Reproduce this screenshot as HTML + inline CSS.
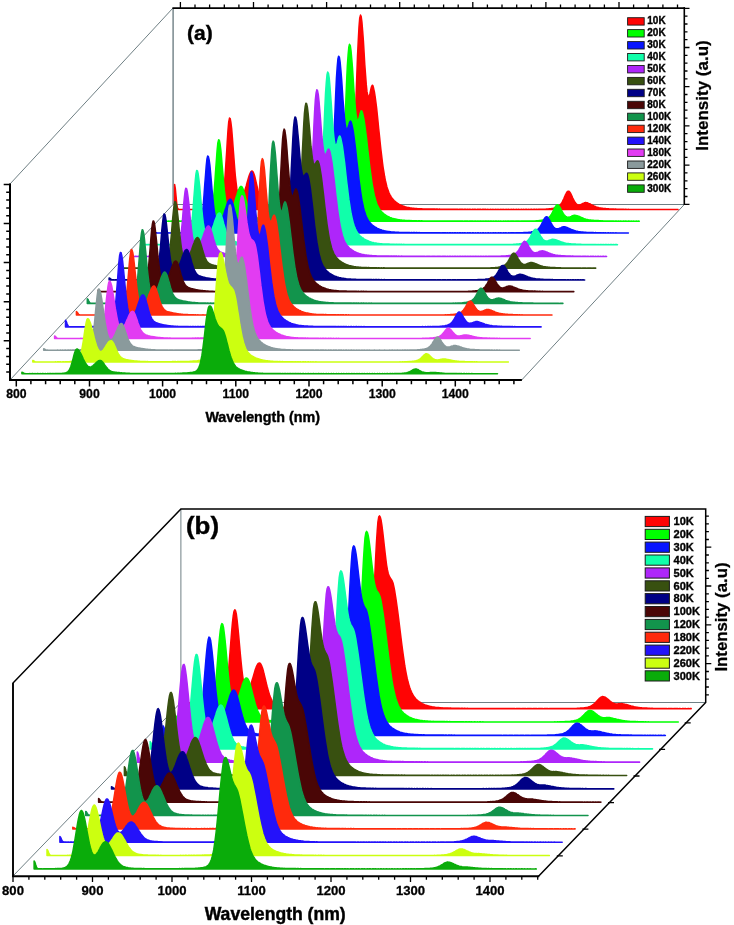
<!DOCTYPE html>
<html><head><meta charset="utf-8"><title>PL spectra</title>
<style>html,body{margin:0;padding:0;background:#fff}svg{display:block;will-change:transform}</style></head>
<body>
<svg width="734" height="925" viewBox="0 0 734 925" font-family='"Liberation Sans", sans-serif' font-weight="bold" fill="#000">
<rect width="734" height="925" fill="#fff"/>
<line x1="173.1" y1="8" x2="173.1" y2="204.5" stroke="#6f7f84" stroke-width="1.4" stroke-linecap="butt"/>
<line x1="173" y1="204.5" x2="684.5" y2="204.5" stroke="#6f7f84" stroke-width="1.1" stroke-linecap="butt"/>
<line x1="10" y1="184" x2="173" y2="8" stroke="#6f7f84" stroke-width="1" stroke-linecap="butt"/>
<line x1="10" y1="380" x2="173" y2="204.5" stroke="#6f7f84" stroke-width="1" stroke-linecap="butt"/>
<line x1="521.7" y1="380" x2="684.3" y2="204.5" stroke="#6f7f84" stroke-width="1" stroke-linecap="butt"/>
<line x1="172.4" y1="8.1" x2="685" y2="8.1" stroke="#000" stroke-width="1.8" stroke-linecap="butt"/>
<path d="M180.4,8L180.4,2M195,8L195,4.6M209.6,8L209.6,4.6M224.3,8L224.3,4.6M238.9,8L238.9,4.6M253.5,8L253.5,2M268.1,8L268.1,4.6M282.7,8L282.7,4.6M297.4,8L297.4,4.6M312,8L312,4.6M326.6,8L326.6,2M341.2,8L341.2,4.6M355.8,8L355.8,4.6M370.5,8L370.5,4.6M385.1,8L385.1,4.6M399.7,8L399.7,2M414.3,8L414.3,4.6M428.9,8L428.9,4.6M443.6,8L443.6,4.6M458.2,8L458.2,4.6M472.8,8L472.8,2M487.4,8L487.4,4.6M502,8L502,4.6M516.7,8L516.7,4.6M531.3,8L531.3,4.6M545.9,8L545.9,2M560.5,8L560.5,4.6M575.1,8L575.1,4.6M589.8,8L589.8,4.6M604.4,8L604.4,4.6M619,8L619,2M633.6,8L633.6,4.6M648.2,8L648.2,4.6M662.9,8L662.9,4.6M677.5,8L677.5,4.6" stroke="#000" stroke-width="1.3" fill="none"/>
<line x1="684.3" y1="7.2" x2="684.3" y2="205" stroke="#000" stroke-width="1.6" stroke-linecap="butt"/>
<path d="M684.3,8.3L689.5,8.3M684.3,16.1L687.5,16.1M684.3,24L687.5,24M684.3,31.8L687.5,31.8M684.3,39.7L687.5,39.7M684.3,47.5L689.5,47.5M684.3,55.3L687.5,55.3M684.3,63.2L687.5,63.2M684.3,71L687.5,71M684.3,78.9L687.5,78.9M684.3,86.7L689.5,86.7M684.3,94.5L687.5,94.5M684.3,102.4L687.5,102.4M684.3,110.2L687.5,110.2M684.3,118.1L687.5,118.1M684.3,125.9L689.5,125.9M684.3,133.7L687.5,133.7M684.3,141.6L687.5,141.6M684.3,149.4L687.5,149.4M684.3,157.3L687.5,157.3M684.3,165.1L689.5,165.1M684.3,172.9L687.5,172.9M684.3,180.8L687.5,180.8M684.3,188.6L687.5,188.6M684.3,196.5L687.5,196.5M684.3,204.3L689.5,204.3" stroke="#000" stroke-width="1.3" fill="none"/>
<path d="M174.6,209.6 174.6,184.4 175.3,188.4 176.1,196.9 176.8,204.1 177.5,207.9 178.3,209.1 179,209.3 179.7,209.4 180.5,209.5 181.2,209.4 181.9,209.4 182.6,209.5 183.4,209.4 184.1,209.4 184.8,209.4 185.6,209.4 186.3,209.4 187,209.4 187.8,209.5 188.5,209.4 189.2,209.4 190,209.4 190.7,209.4 191.4,209.4 192.2,209.4 192.9,209.5 193.6,209.4 194.4,209.3 195.1,209.4 195.8,209.4 196.6,209.3 197.3,209.3 198,209.4 198.7,209.3 199.5,209.3 200.2,209.4 200.9,209.4 201.7,209.3 202.4,209.3 203.1,209.4 203.9,209.3 204.6,209.2 205.3,209.3 206.1,209.3 206.8,209.2 207.5,209.1 208.3,209.2 209,209.1 209.7,209 210.5,209 211.2,208.9 211.9,208.8 212.6,208.7 213.4,208.7 214.1,208.4 214.8,208.3 215.6,208.1 216.3,207.9 217,207.6 217.8,207.4 218.5,207.1 219.2,206.5 220,205.8 220.7,204.8 221.4,203.2 222.2,200.7 222.9,197.1 223.6,192 224.4,184.8 225.1,175.7 225.8,164.9 226.6,152.9 227.3,140.7 228,130 228.7,122.1 229.5,118.1 230.2,118.6 230.9,122.5 231.7,129.2 232.4,137.8 233.1,147.6 233.9,157.7 234.6,167.1 235.3,175.5 236.1,182.7 236.8,188.4 237.5,192.5 238.3,195.5 239,197.4 239.7,198.3 240.5,198.5 241.2,198.2 241.9,197.4 242.6,196.1 243.4,194.6 244.1,192.8 244.8,190.5 245.6,188.1 246.3,185.7 247,183 247.8,180.3 248.5,177.8 249.2,175.6 250,173.6 250.7,172.1 251.4,171.3 252.2,171 252.9,171.5 253.6,173 254.4,175.2 255.1,177.8 255.8,180.9 256.6,184.3 257.3,187.5 258,190.6 258.7,193.4 259.5,195.9 260.2,197.9 260.9,199.6 261.7,201.1 262.4,202.2 263.1,203 263.9,203.7 264.6,204.3 265.3,204.6 266.1,205 266.8,205.4 267.5,205.6 268.3,205.8 269,206.1 269.7,206.3 270.5,206.4 271.2,206.6 271.9,206.9 272.6,207.1 273.4,207.2 274.1,207.4 274.8,207.6 275.6,207.7 276.3,207.8 277,208 277.8,208.1 278.5,208.2 279.2,208.3 280,208.5 280.7,208.5 281.4,208.5 282.2,208.7 282.9,208.7 283.6,208.8 284.4,208.9 285.1,209 285.8,208.9 286.6,209 287.3,209.1 288,209.1 288.7,209.1 289.5,209.1 290.2,209.2 290.9,209.1 291.7,209.2 292.4,209.3 293.1,209.2 293.9,209.2 294.6,209.3 295.3,209.3 296.1,209.2 296.8,209.2 297.5,209.3 298.3,209.3 299,209.2 299.7,209.3 300.5,209.3 301.2,209.3 301.9,209.3 302.6,209.3 303.4,209.3 304.1,209.2 304.8,209.3 305.6,209.3 306.3,209.2 307,209.3 307.8,209.3 308.5,209.3 309.2,209.2 310,209.3 310.7,209.3 311.4,209.2 312.2,209.2 312.9,209.3 313.6,209.2 314.4,209.2 315.1,209.2 315.8,209.3 316.6,209.2 317.3,209.2 318,209.3 318.7,209.2 319.5,209.1 320.2,209.2 320.9,209.2 321.7,209.1 322.4,209.1 323.1,209.2 323.9,209.1 324.6,209.1 325.3,209.1 326.1,209.1 326.8,209 327.5,209 328.3,209 329,208.9 329.7,208.9 330.5,208.9 331.2,208.9 331.9,208.7 332.6,208.7 333.4,208.7 334.1,208.6 334.8,208.5 335.6,208.4 336.3,208.3 337,208.2 337.8,208.1 338.5,208 339.2,207.8 340,207.6 340.7,207.5 341.4,207.3 342.2,207 342.9,206.8 343.6,206.7 344.4,206.3 345.1,205.9 345.8,205.5 346.6,204.9 347.3,204 348,202.8 348.7,201.2 349.5,198.6 350.2,195.1 350.9,190.2 351.7,183.5 352.4,174.6 353.1,163.4 353.9,149.7 354.6,133.4 355.3,115.1 356.1,95.5 356.8,75.5 357.5,56.5 358.3,39.7 359,26.7 359.7,18.2 360.5,15.1 361.2,16.6 361.9,21.9 362.6,30.3 363.4,40.9 364.1,52.8 364.8,64.7 365.6,75.6 366.3,84.9 367,91.7 367.8,95.7 368.5,97.1 369.2,96.3 370,93.5 370.7,90 371.4,87 372.2,85.2 372.9,85.7 373.6,88.3 374.4,91.9 375.1,96.3 375.8,101.7 376.6,107.9 377.3,114.6 378,121.6 378.7,128.8 379.5,136.1 380.2,143 380.9,149.7 381.7,156.1 382.4,162 383.1,167.3 383.9,172.1 384.6,176.5 385.3,180.2 386.1,183.5 386.8,186.4 387.5,188.9 388.3,190.9 389,192.8 389.7,194.4 390.5,195.7 391.2,196.9 391.9,198 392.6,198.9 393.4,199.7 394.1,200.5 394.8,201.2 395.6,201.8 396.3,202.3 397,202.9 397.8,203.4 398.5,203.8 399.2,204.3 400,204.7 400.7,205 401.4,205.4 402.2,205.8 402.9,206 403.6,206.2 404.4,206.5 405.1,206.8 405.8,206.9 406.5,207.1 407.3,207.4 408,207.5 408.7,207.6 409.5,207.8 410.2,208 410.9,208 411.7,208.1 412.4,208.3 413.1,208.3 413.9,208.3 414.6,208.4 415.3,208.5 416.1,208.5 416.8,208.6 417.5,208.7 418.3,208.7 419,208.7 419.7,208.8 420.5,208.8 421.2,208.8 421.9,208.8 422.6,208.9 423.4,208.9 424.1,208.9 424.8,208.9 425.6,209 426.3,208.9 427,209 427.8,209.1 428.5,209 429.2,209 430,209.1 430.7,209.1 431.4,209 432.2,209.1 432.9,209.1 433.6,209.1 434.4,209.1 435.1,209.1 435.8,209.2 436.5,209.1 437.3,209.1 438,209.2 438.7,209.2 439.5,209.1 440.2,209.2 440.9,209.2 441.7,209.2 442.4,209.2 443.1,209.3 443.9,209.2 444.6,209.2 445.3,209.2 446.1,209.3 446.8,209.2 447.5,209.2 448.3,209.3 449,209.2 449.7,209.2 450.5,209.3 451.2,209.3 451.9,209.2 452.6,209.2 453.4,209.3 454.1,209.3 454.8,209.2 455.6,209.3 456.3,209.3 457,209.2 457.8,209.3 458.5,209.4 459.2,209.3 460,209.3 460.7,209.3 461.4,209.3 462.2,209.3 462.9,209.3 463.6,209.4 464.4,209.3 465.1,209.3 465.8,209.3 466.5,209.4 467.3,209.3 468,209.3 468.7,209.4 469.5,209.3 470.2,209.3 470.9,209.4 471.7,209.4 472.4,209.3 473.1,209.3 473.9,209.4 474.6,209.3 475.3,209.3 476.1,209.4 476.8,209.4 477.5,209.3 478.3,209.3 479,209.4 479.7,209.3 480.5,209.3 481.2,209.4 481.9,209.4 482.6,209.3 483.4,209.3 484.1,209.4 484.8,209.3 485.6,209.3 486.3,209.4 487,209.4 487.8,209.3 488.5,209.4 489.2,209.4 490,209.4 490.7,209.3 491.4,209.4 492.2,209.4 492.9,209.3 493.6,209.4 494.4,209.5 495.1,209.4 495.8,209.3 496.5,209.4 497.3,209.4 498,209.3 498.7,209.4 499.5,209.5 500.2,209.4 500.9,209.3 501.7,209.4 502.4,209.4 503.1,209.3 503.9,209.4 504.6,209.5 505.3,209.4 506.1,209.3 506.8,209.4 507.5,209.4 508.3,209.3 509,209.4 509.7,209.5 510.5,209.4 511.2,209.3 511.9,209.4 512.6,209.4 513.4,209.3 514.1,209.4 514.8,209.4 515.6,209.4 516.3,209.3 517,209.4 517.8,209.4 518.5,209.3 519.2,209.4 520,209.4 520.7,209.4 521.4,209.3 522.2,209.4 522.9,209.4 523.6,209.3 524.4,209.4 525.1,209.4 525.8,209.3 526.5,209.3 527.3,209.4 528,209.4 528.7,209.3 529.5,209.4 530.2,209.4 530.9,209.3 531.7,209.3 532.4,209.4 533.1,209.4 533.9,209.3 534.6,209.3 535.3,209.4 536.1,209.3 536.8,209.3 537.5,209.4 538.3,209.3 539,209.3 539.7,209.3 540.5,209.3 541.2,209.2 541.9,209.2 542.6,209.3 543.4,209.2 544.1,209.2 544.8,209.2 545.6,209.2 546.3,209.1 547,209 547.8,209.1 548.5,209 549.2,208.8 550,208.8 550.7,208.8 551.4,208.6 552.2,208.5 552.9,208.4 553.6,208.2 554.4,208 555.1,207.9 555.8,207.7 556.5,207.4 557.3,207.1 558,206.7 558.7,206.2 559.5,205.6 560.2,204.9 560.9,204 561.7,202.8 562.4,201.6 563.1,200.2 563.9,198.5 564.6,196.8 565.3,195.2 566.1,193.7 566.8,192.3 567.5,191.5 568.3,191.2 569,191.3 569.7,192 570.5,193.2 571.2,194.6 571.9,196.1 572.6,197.7 573.4,199.4 574.1,200.7 574.8,201.9 575.6,203 576.3,203.8 577,204.3 577.8,204.7 578.5,205 579.2,204.9 580,204.8 580.7,204.6 581.4,204.3 582.2,203.8 582.9,203.5 583.6,203.2 584.4,202.8 585.1,202.6 585.8,202.6 586.5,202.7 587.3,202.8 588,203.1 588.7,203.4 589.5,203.7 590.2,204 590.9,204.4 591.7,204.8 592.4,205.2 593.1,205.5 593.9,206 594.6,206.2 595.3,206.5 596.1,206.9 596.8,207.1 597.5,207.3 598.3,207.5 599,207.8 599.7,207.9 600.5,208 601.2,208.1 601.9,208.3 602.6,208.3 603.4,208.4 604.1,208.6 604.8,208.5 605.6,208.6 606.3,208.7 607,208.8 607.8,208.7 608.5,208.8 609.2,208.9 610,208.9 610.7,208.9 611.4,209 612.2,209 612.9,209 613.6,209 614.4,209.2 615.1,209.1 615.8,209.1 616.5,209.2 617.3,209.2 618,209.2 618.7,209.2 619.5,209.3 620.2,209.2 620.9,209.2 621.7,209.3 622.4,209.3 623.1,209.3 623.9,209.3 624.6,209.4 625.3,209.3 626.1,209.3 626.8,209.4 627.5,209.4 628.3,209.3 629,209.4 629.7,209.5 630.5,209.4 631.2,209.4 631.9,209.4 632.6,209.4 633.4,209.4 634.1,209.4 634.8,209.5 635.6,209.4 636.3,209.4 637,209.5 637.8,209.4 638.5,209.4 639.2,209.4 640,209.5 640.7,209.4 641.4,209.4 642.2,209.5 642.9,209.5 643.6,209.4 644.4,209.4 645.1,209.5 645.8,209.4 646.5,209.4 647.3,209.5 648,209.5 648.7,209.4 649.5,209.4 650.2,209.5 650.9,209.4 651.7,209.4 652.4,209.5 653.1,209.5 653.9,209.4 654.6,209.4 655.3,209.5 656.1,209.4 656.8,209.4 657.5,209.5 658.3,209.5 659,209.4 659.7,209.4 660.4,209.5 661.2,209.4 661.9,209.4 662.6,209.5 663.4,209.5 664.1,209.4 664.8,209.5 665.6,209.5 666.3,209.4 667,209.4 667.8,209.5 668.5,209.5 669.2,209.4 670,209.5 670.7,209.5 671.4,209.4 672.2,209.4 672.9,209.5 673.6,209.5 674.4,209.4 675.1,209.5 675.8,209.5 676.5,209.4 677.3,209.4 678,209.5 678,209.6Z" fill="#ff0404" stroke="#ff0404" stroke-width="1.5" stroke-linejoin="round"/>
<path d="M163.7,221.3 163.7,218.1 164.4,218.7 165.2,219.7 165.9,220.5 166.6,220.9 167.3,221.2 168.1,221.2 168.8,221.1 169.5,221.2 170.3,221.2 171,221.1 171.7,221.1 172.5,221.2 173.2,221.2 173.9,221.1 174.7,221.2 175.4,221.2 176.1,221.1 176.9,221.1 177.6,221.2 178.3,221.1 179.1,221.1 179.8,221.1 180.5,221.2 181.3,221.1 182,221.1 182.7,221.2 183.4,221.1 184.2,221.1 184.9,221.1 185.6,221.1 186.4,221.1 187.1,221.1 187.8,221.2 188.6,221.1 189.3,221 190,221.1 190.8,221.1 191.5,221 192.2,221 193,221.1 193.7,221 194.4,221 195.2,221 195.9,221 196.6,220.9 197.3,220.9 198.1,220.9 198.8,220.8 199.5,220.7 200.3,220.7 201,220.7 201.7,220.5 202.5,220.4 203.2,220.4 203.9,220.1 204.7,219.9 205.4,219.8 206.1,219.6 206.9,219.3 207.6,219 208.3,218.6 209.1,217.9 209.8,217 210.5,215.6 211.3,213.5 212,210.2 212.7,205.5 213.4,199.3 214.2,191.1 214.9,181.4 215.6,170.8 216.4,160 217.1,150.3 217.8,143.2 218.6,139.8 219.3,140.2 220,143.6 220.8,149.6 221.5,157.3 222.2,166 223,174.9 223.7,183.5 224.4,190.9 225.2,197.3 225.9,202.3 226.6,206.1 227.3,208.6 228.1,210.3 228.8,211.2 229.5,211.3 230.3,211 231,210.3 231.7,209.2 232.5,207.7 233.2,206.1 233.9,204.2 234.7,201.9 235.4,199.6 236.1,197.2 236.9,194.9 237.6,192.5 238.3,190.5 239.1,188.8 239.8,187.4 240.5,186.6 241.3,186.4 242,186.9 242.7,188.1 243.4,190.1 244.2,192.7 244.9,195.4 245.6,198.3 246.4,201.3 247.1,204.1 247.8,206.6 248.6,208.9 249.3,210.8 250,212.3 250.8,213.5 251.5,214.6 252.2,215.4 253,215.9 253.7,216.4 254.4,216.9 255.2,217.1 255.9,217.4 256.6,217.7 257.3,217.9 258.1,218.1 258.8,218.3 259.5,218.6 260.3,218.7 261,218.8 261.7,219 262.5,219.2 263.2,219.3 263.9,219.4 264.7,219.7 265.4,219.7 266.1,219.8 266.9,220 267.6,220.1 268.3,220.1 269.1,220.2 269.8,220.4 270.5,220.4 271.3,220.4 272,220.6 272.7,220.6 273.4,220.6 274.2,220.7 274.9,220.8 275.6,220.8 276.4,220.8 277.1,220.9 277.8,220.9 278.6,220.9 279.3,220.9 280,221 280.8,220.9 281.5,220.9 282.2,221 283,221 283.7,221 284.4,221 285.2,221.1 285.9,221 286.6,221 287.3,221.1 288.1,221 288.8,221 289.5,221 290.3,221.1 291,221 291.7,221 292.5,221.1 293.2,221 293.9,221 294.7,221 295.4,221.1 296.1,221 296.9,221 297.6,221.1 298.3,221 299.1,221 299.8,221 300.5,221.1 301.3,221 302,221 302.7,221.1 303.4,221 304.2,220.9 304.9,221 305.6,221 306.4,220.9 307.1,220.9 307.8,221 308.6,221 309.3,220.9 310,220.9 310.8,221 311.5,220.9 312.2,220.9 313,220.9 313.7,220.9 314.4,220.8 315.2,220.8 315.9,220.9 316.6,220.8 317.3,220.7 318.1,220.8 318.8,220.7 319.5,220.6 320.3,220.6 321,220.6 321.7,220.5 322.5,220.4 323.2,220.5 323.9,220.3 324.7,220.2 325.4,220.2 326.1,220.1 326.9,219.9 327.6,219.8 328.3,219.8 329.1,219.5 329.8,219.3 330.5,219.2 331.3,219.1 332,218.8 332.7,218.6 333.4,218.4 334.2,218 334.9,217.5 335.6,217 336.4,216.3 337.1,215.2 337.8,213.6 338.6,211.4 339.3,208.2 340,203.6 340.8,197.6 341.5,189.5 342.2,179.2 343,166.7 343.7,152 344.4,135.3 345.2,117.4 345.9,99.3 346.6,81.9 347.3,66.6 348.1,54.7 348.8,47.2 349.5,44.3 350.3,45.7 351,50.6 351.7,58.3 352.5,68 353.2,78.9 353.9,90 354.7,100.1 355.4,108.6 356.1,115.1 356.9,119 357.6,120.5 358.3,119.9 359.1,117.8 359.8,114.9 360.5,112.2 361.2,110.7 362,111.3 362.7,113.6 363.4,116.8 364.2,121 364.9,125.8 365.6,131.3 366.4,137.3 367.1,143.7 367.8,150 368.6,156.5 369.3,162.9 370,168.7 370.8,174.3 371.5,179.6 372.2,184.3 373,188.5 373.7,192.3 374.4,195.7 375.2,198.5 375.9,201 376.6,203.2 377.3,205 378.1,206.6 378.8,208 379.5,209.2 380.3,210.2 381,211.1 381.7,211.9 382.5,212.7 383.2,213.2 383.9,213.9 384.7,214.5 385.4,214.9 386.1,215.4 386.9,215.9 387.6,216.3 388.3,216.6 389.1,217 389.8,217.4 390.5,217.6 391.2,217.8 392,218.2 392.7,218.4 393.4,218.6 394.2,218.8 394.9,219.1 395.6,219.1 396.4,219.3 397.1,219.5 397.8,219.6 398.6,219.7 399.3,219.8 400,220 400.8,220 401.5,220.1 402.2,220.2 403,220.2 403.7,220.3 404.4,220.3 405.2,220.5 405.9,220.4 406.6,220.4 407.3,220.6 408.1,220.6 408.8,220.5 409.5,220.6 410.3,220.7 411,220.6 411.7,220.7 412.5,220.7 413.2,220.7 413.9,220.7 414.7,220.8 415.4,220.8 416.1,220.8 416.9,220.8 417.6,220.9 418.3,220.8 419.1,220.8 419.8,220.8 420.5,220.9 421.2,220.8 422,220.8 422.7,220.9 423.4,220.9 424.2,220.9 424.9,220.9 425.6,221 426.4,220.9 427.1,220.9 427.8,221 428.6,220.9 429.3,220.9 430,220.9 430.8,221 431.5,220.9 432.2,220.9 433,221 433.7,221 434.4,220.9 435.2,221 435.9,221 436.6,221 437.3,221 438.1,221.1 438.8,221 439.5,221 440.3,221 441,221.1 441.7,221 442.5,221 443.2,221.1 443.9,221 444.7,221 445.4,221 446.1,221.1 446.9,221 447.6,221 448.3,221.1 449.1,221.1 449.8,221 450.5,221.1 451.2,221.1 452,221 452.7,221 453.4,221.1 454.2,221.1 454.9,221 455.6,221.1 456.4,221.1 457.1,221 457.8,221.1 458.6,221.1 459.3,221.1 460,221 460.8,221.1 461.5,221.1 462.2,221.1 463,221.1 463.7,221.2 464.4,221.1 465.2,221.1 465.9,221.1 466.6,221.1 467.3,221.1 468.1,221.1 468.8,221.2 469.5,221.1 470.3,221.1 471,221.1 471.7,221.1 472.5,221.1 473.2,221.1 473.9,221.2 474.7,221.1 475.4,221.1 476.1,221.1 476.9,221.2 477.6,221.1 478.3,221.1 479.1,221.2 479.8,221.1 480.5,221.1 481.2,221.1 482,221.2 482.7,221.1 483.4,221.1 484.2,221.2 484.9,221.1 485.6,221.1 486.4,221.1 487.1,221.2 487.8,221.1 488.6,221.1 489.3,221.2 490,221.1 490.8,221.1 491.5,221.1 492.2,221.2 493,221.1 493.7,221.1 494.4,221.2 495.2,221.1 495.9,221.1 496.6,221.1 497.3,221.2 498.1,221.1 498.8,221.1 499.5,221.2 500.3,221.1 501,221.1 501.7,221.2 502.5,221.2 503.2,221.1 503.9,221.1 504.7,221.2 505.4,221.1 506.1,221.1 506.9,221.2 507.6,221.1 508.3,221.1 509.1,221.1 509.8,221.2 510.5,221.1 511.2,221.1 512,221.1 512.7,221.1 513.4,221.1 514.2,221.1 514.9,221.2 515.6,221.1 516.4,221.1 517.1,221.1 517.8,221.1 518.6,221.1 519.3,221.1 520,221.2 520.8,221.1 521.5,221.1 522.2,221.1 523,221.1 523.7,221 524.4,221.1 525.2,221.1 525.9,221.1 526.6,221 527.3,221.1 528.1,221.1 528.8,221 529.5,221 530.3,221.1 531,221 531.7,221 532.5,221 533.2,221 533.9,220.9 534.7,220.9 535.4,220.9 536.1,220.8 536.9,220.8 537.6,220.8 538.3,220.7 539.1,220.6 539.8,220.5 540.5,220.5 541.2,220.3 542,220.2 542.7,220.1 543.4,220 544.2,219.7 544.9,219.6 545.6,219.4 546.4,219 547.1,218.7 547.8,218.3 548.6,217.8 549.3,217 550,216.3 550.8,215.3 551.5,214.1 552.2,212.8 553,211.5 553.7,209.9 554.4,208.4 555.2,207 555.9,206 556.6,205.1 557.3,204.8 558.1,205 558.8,205.6 559.5,206.6 560.3,207.9 561,209.4 561.7,210.7 562.5,212.1 563.2,213.4 563.9,214.5 564.7,215.4 565.4,216.1 566.1,216.7 566.9,217 567.6,217.2 568.3,217.3 569.1,217.1 569.8,216.9 570.5,216.6 571.2,216.4 572,216 572.7,215.7 573.4,215.5 574.2,215.3 574.9,215.2 575.6,215.4 576.4,215.6 577.1,215.7 577.8,215.9 578.6,216.3 579.3,216.5 580,216.8 580.8,217.2 581.5,217.6 582.2,217.8 583,218.1 583.7,218.5 584.4,218.7 585.2,218.9 585.9,219.2 586.6,219.4 587.3,219.5 588.1,219.7 588.8,219.9 589.5,219.9 590.3,220 591,220.1 591.7,220.3 592.5,220.3 593.2,220.3 593.9,220.5 594.7,220.5 595.4,220.5 596.1,220.6 596.9,220.6 597.6,220.6 598.3,220.6 599.1,220.8 599.8,220.7 600.5,220.7 601.2,220.8 602,220.9 602.7,220.8 603.4,220.9 604.2,221 604.9,220.9 605.6,220.9 606.4,221 607.1,221 607.8,221 608.6,221 609.3,221.1 610,221 610.8,221 611.5,221.1 612.2,221.1 613,221 613.7,221.1 614.4,221.2 615.1,221.1 615.9,221.1 616.6,221.1 617.3,221.2 618.1,221.1 618.8,221.1 619.5,221.2 620.3,221.1 621,221.1 621.7,221.2 622.5,221.2 623.2,221.1 623.9,221.1 624.7,221.2 625.4,221.1 626.1,221.1 626.9,221.2 627.6,221.2 628.3,221.1 629.1,221.1 629.8,221.2 630.5,221.2 631.2,221.1 632,221.2 632.7,221.2 633.4,221.1 634.2,221.2 634.9,221.3 635.6,221.2 636.4,221.1 637.1,221.2 637.8,221.2 638.6,221.1 639.3,221.2 639.3,221.3Z" fill="#00ff00" stroke="#00ff00" stroke-width="1.5" stroke-linejoin="round"/>
<path d="M152.8,233 152.8,230.9 153.5,231.2 154.2,231.9 155,232.5 155.7,232.7 156.4,232.8 157.2,232.9 157.9,232.9 158.6,232.9 159.4,232.9 160.1,233 160.8,232.9 161.6,232.9 162.3,232.9 163,232.9 163.8,232.8 164.5,232.9 165.2,232.9 166,232.8 166.7,232.8 167.4,232.9 168.1,232.9 168.9,232.8 169.6,232.9 170.3,232.9 171.1,232.8 171.8,232.8 172.5,232.9 173.3,232.9 174,232.8 174.7,232.8 175.5,232.9 176.2,232.8 176.9,232.8 177.7,232.9 178.4,232.8 179.1,232.8 179.9,232.8 180.6,232.8 181.3,232.8 182,232.7 182.8,232.8 183.5,232.7 184.2,232.7 185,232.7 185.7,232.7 186.4,232.6 187.2,232.6 187.9,232.6 188.6,232.5 189.4,232.4 190.1,232.4 190.8,232.3 191.6,232.2 192.3,232 193,232 193.8,231.8 194.5,231.6 195.2,231.4 196,231.2 196.7,230.8 197.4,230.4 198.1,229.9 198.9,229 199.6,227.6 200.3,225.6 201.1,222.6 201.8,218.1 202.5,212.2 203.3,204.6 204,195.4 204.7,185.3 205.5,175.2 206.2,166.1 206.9,159.3 207.7,156 208.4,156.6 209.1,159.7 209.9,165.3 210.6,172.7 211.3,180.9 212,189.2 212.8,197.2 213.5,204.4 214.2,210.3 215,215 215.7,218.6 216.4,221.1 217.2,222.5 217.9,223.3 218.6,223.6 219.4,223.2 220.1,222.4 220.8,221.4 221.6,220 222.3,218.3 223,216.4 223.8,214.3 224.5,212 225.2,209.6 226,207.4 226.7,205.2 227.4,203.1 228.1,201.4 228.9,200.2 229.6,199.4 230.3,199.1 231.1,199.6 231.8,200.9 232.5,202.7 233.3,205.1 234,208 234.7,210.8 235.5,213.6 236.2,216.4 236.9,218.8 237.7,220.9 238.4,222.8 239.1,224.4 239.9,225.5 240.6,226.5 241.3,227.3 242,227.9 242.8,228.3 243.5,228.7 244.2,229.1 245,229.3 245.7,229.5 246.4,229.7 247.2,230 247.9,230.1 248.6,230.3 249.4,230.5 250.1,230.6 250.8,230.8 251.6,231 252.3,231.1 253,231.2 253.8,231.3 254.5,231.6 255.2,231.6 256,231.7 256.7,231.8 257.4,231.9 258.1,232 258.9,232.1 259.6,232.2 260.3,232.2 261.1,232.2 261.8,232.4 262.5,232.4 263.3,232.4 264,232.5 264.7,232.6 265.5,232.5 266.2,232.5 266.9,232.6 267.7,232.6 268.4,232.6 269.1,232.7 269.9,232.8 270.6,232.7 271.3,232.7 272,232.8 272.8,232.7 273.5,232.7 274.2,232.7 275,232.8 275.7,232.7 276.4,232.7 277.2,232.8 277.9,232.8 278.6,232.7 279.4,232.8 280.1,232.8 280.8,232.7 281.6,232.7 282.3,232.8 283,232.8 283.8,232.7 284.5,232.7 285.2,232.8 286,232.7 286.7,232.7 287.4,232.8 288.1,232.8 288.9,232.7 289.6,232.7 290.3,232.8 291.1,232.7 291.8,232.7 292.5,232.8 293.3,232.7 294,232.7 294.7,232.7 295.5,232.7 296.2,232.7 296.9,232.6 297.7,232.7 298.4,232.7 299.1,232.6 299.9,232.6 300.6,232.7 301.3,232.6 302,232.6 302.8,232.6 303.5,232.6 304.2,232.5 305,232.5 305.7,232.6 306.4,232.4 307.2,232.4 307.9,232.5 308.6,232.4 309.4,232.3 310.1,232.3 310.8,232.3 311.6,232.1 312.3,232.1 313,232.1 313.8,231.9 314.5,231.8 315.2,231.7 316,231.7 316.7,231.5 317.4,231.3 318.1,231.3 318.9,231.1 319.6,230.9 320.3,230.7 321.1,230.6 321.8,230.2 322.5,230 323.3,229.7 324,229.3 324.7,228.7 325.5,227.9 326.2,226.9 326.9,225.3 327.7,223 328.4,219.9 329.1,215.4 329.9,209.2 330.6,201.3 331.3,191.1 332,178.5 332.8,163.8 333.5,147.2 334.2,129.4 335,111.2 335.7,94 336.4,78.8 337.2,66.7 337.9,59 338.6,56.2 339.4,57.3 340.1,61.9 340.8,69.4 341.6,78.8 342.3,89.2 343,99.8 343.8,109.6 344.5,117.8 345.2,123.9 345.9,127.8 346.7,129.4 347.4,128.9 348.1,127.1 348.9,124.7 349.6,122.3 350.3,121.1 351.1,121.9 351.8,124.3 352.5,127.4 353.3,131.6 354,136.7 354.7,142.2 355.5,148.4 356.2,154.9 356.9,161.5 357.7,168 358.4,174.3 359.1,180.5 359.9,186.1 360.6,191.3 361.3,196.2 362,200.4 362.8,204.1 363.5,207.5 364.2,210.4 365,212.8 365.7,214.9 366.4,216.8 367.2,218.4 367.9,219.7 368.6,220.9 369.4,222 370.1,222.8 370.8,223.6 371.6,224.3 372.3,225 373,225.5 373.8,226.1 374.5,226.7 375.2,227.1 375.9,227.5 376.7,228 377.4,228.4 378.1,228.6 378.9,229 379.6,229.4 380.3,229.6 381.1,229.8 381.8,230.1 382.5,230.4 383.3,230.5 384,230.7 384.7,231 385.5,231 386.2,231.2 386.9,231.3 387.7,231.5 388.4,231.5 389.1,231.6 389.9,231.8 390.6,231.8 391.3,231.9 392,232 392.8,232.1 393.5,232 394.2,232.1 395,232.3 395.7,232.2 396.4,232.2 397.2,232.3 397.9,232.3 398.6,232.3 399.4,232.4 400.1,232.5 400.8,232.4 401.6,232.4 402.3,232.5 403,232.5 403.8,232.4 404.5,232.5 405.2,232.6 405.9,232.5 406.7,232.5 407.4,232.6 408.1,232.6 408.9,232.5 409.6,232.6 410.3,232.7 411.1,232.6 411.8,232.6 412.5,232.7 413.3,232.6 414,232.6 414.7,232.6 415.5,232.7 416.2,232.6 416.9,232.6 417.7,232.7 418.4,232.7 419.1,232.6 419.9,232.7 420.6,232.8 421.3,232.7 422,232.7 422.8,232.7 423.5,232.7 424.2,232.7 425,232.7 425.7,232.8 426.4,232.7 427.2,232.7 427.9,232.8 428.6,232.8 429.4,232.7 430.1,232.7 430.8,232.8 431.6,232.7 432.3,232.7 433,232.8 433.8,232.8 434.5,232.7 435.2,232.8 435.9,232.8 436.7,232.8 437.4,232.7 438.1,232.8 438.9,232.8 439.6,232.7 440.3,232.8 441.1,232.9 441.8,232.8 442.5,232.8 443.3,232.8 444,232.8 444.7,232.8 445.5,232.8 446.2,232.9 446.9,232.8 447.7,232.8 448.4,232.9 449.1,232.8 449.9,232.8 450.6,232.8 451.3,232.9 452,232.8 452.8,232.8 453.5,232.9 454.2,232.8 455,232.8 455.7,232.8 456.4,232.9 457.2,232.8 457.9,232.8 458.6,232.9 459.4,232.8 460.1,232.8 460.8,232.8 461.6,232.9 462.3,232.8 463,232.8 463.8,232.9 464.5,232.8 465.2,232.8 465.9,232.9 466.7,232.9 467.4,232.8 468.1,232.8 468.9,232.9 469.6,232.8 470.3,232.8 471.1,232.9 471.8,232.9 472.5,232.8 473.3,232.8 474,232.9 474.7,232.9 475.5,232.8 476.2,232.9 476.9,232.9 477.7,232.8 478.4,232.8 479.1,232.9 479.9,232.9 480.6,232.8 481.3,232.9 482,232.9 482.8,232.8 483.5,232.8 484.2,232.9 485,232.9 485.7,232.8 486.4,232.9 487.2,232.9 487.9,232.8 488.6,232.8 489.4,232.9 490.1,232.9 490.8,232.8 491.6,232.9 492.3,232.9 493,232.8 493.8,232.8 494.5,232.9 495.2,232.8 495.9,232.8 496.7,232.9 497.4,232.9 498.1,232.8 498.9,232.8 499.6,232.9 500.3,232.8 501.1,232.8 501.8,232.9 502.5,232.9 503.3,232.8 504,232.8 504.7,232.9 505.5,232.8 506.2,232.8 506.9,232.9 507.7,232.9 508.4,232.8 509.1,232.8 509.9,232.9 510.6,232.8 511.3,232.8 512,232.8 512.8,232.8 513.5,232.8 514.2,232.8 515,232.9 515.7,232.8 516.4,232.8 517.2,232.8 517.9,232.8 518.6,232.7 519.4,232.7 520.1,232.8 520.8,232.7 521.6,232.7 522.3,232.7 523,232.7 523.8,232.6 524.5,232.6 525.2,232.6 525.9,232.5 526.7,232.4 527.4,232.4 528.1,232.4 528.9,232.2 529.6,232.2 530.3,232.2 531.1,232 531.8,231.8 532.5,231.7 533.3,231.6 534,231.3 534.7,231.1 535.5,230.9 536.2,230.5 536.9,230 537.7,229.6 538.4,228.9 539.1,228 539.9,227.1 540.6,226 541.3,224.7 542,223.2 542.8,221.8 543.5,220.4 544.2,218.9 545,217.8 545.7,217.1 546.4,216.7 547.2,216.9 547.9,217.6 548.6,218.6 549.4,219.8 550.1,221.2 550.8,222.7 551.6,223.9 552.3,225.2 553,226.3 553.8,227.2 554.5,227.8 555.2,228.4 555.9,228.8 556.7,228.8 557.4,228.8 558.1,228.8 558.9,228.5 559.6,228.2 560.3,227.9 561.1,227.6 561.8,227.2 562.5,226.9 563.3,226.8 564,226.8 564.7,226.8 565.5,227 566.2,227.2 566.9,227.4 567.7,227.7 568.4,228.1 569.1,228.4 569.8,228.7 570.6,229.1 571.3,229.5 572,229.7 572.8,230 573.5,230.3 574.2,230.6 575,230.7 575.7,231 576.4,231.2 577.2,231.3 577.9,231.5 578.6,231.7 579.4,231.7 580.1,231.8 580.8,231.9 581.6,232 582.3,232 583,232.1 583.8,232.2 584.5,232.2 585.2,232.2 585.9,232.3 586.7,232.4 587.4,232.4 588.1,232.4 588.9,232.5 589.6,232.5 590.3,232.5 591.1,232.5 591.8,232.6 592.5,232.6 593.3,232.6 594,232.7 594.7,232.7 595.5,232.6 596.2,232.7 596.9,232.8 597.7,232.7 598.4,232.7 599.1,232.8 599.8,232.8 600.6,232.7 601.3,232.8 602,232.9 602.8,232.8 603.5,232.8 604.2,232.9 605,232.8 605.7,232.8 606.4,232.9 607.2,232.9 607.9,232.8 608.6,232.8 609.4,232.9 610.1,232.9 610.8,232.8 611.6,232.9 612.3,232.9 613,232.8 613.8,232.9 614.5,232.9 615.2,232.9 615.9,232.8 616.7,232.9 617.4,232.9 618.1,232.9 618.9,232.9 619.6,233 620.3,232.9 621.1,232.9 621.8,232.9 622.5,232.9 623.3,232.9 624,232.9 624.7,233 625.5,232.9 626.2,232.9 626.9,232.9 627.7,233 628.4,232.9 628.4,233Z" fill="#0814ff" stroke="#0814ff" stroke-width="1.5" stroke-linejoin="round"/>
<path d="M141.9,244.8 141.9,242.7 142.6,243 143.3,243.6 144.1,244.2 144.8,244.6 145.5,244.6 146.3,244.6 147,244.7 147.7,244.6 148.5,244.6 149.2,244.6 149.9,244.7 150.7,244.6 151.4,244.6 152.1,244.6 152.8,244.6 153.6,244.6 154.3,244.6 155,244.7 155.8,244.6 156.5,244.6 157.2,244.6 158,244.6 158.7,244.6 159.4,244.6 160.2,244.7 160.9,244.6 161.6,244.5 162.4,244.6 163.1,244.6 163.8,244.5 164.6,244.6 165.3,244.6 166,244.5 166.7,244.5 167.5,244.6 168.2,244.6 168.9,244.5 169.7,244.5 170.4,244.6 171.1,244.5 171.9,244.5 172.6,244.5 173.3,244.5 174.1,244.4 174.8,244.4 175.5,244.4 176.3,244.3 177,244.3 177.7,244.3 178.5,244.2 179.2,244.1 179.9,244 180.7,244 181.4,243.8 182.1,243.7 182.8,243.6 183.6,243.4 184.3,243.1 185,242.9 185.8,242.7 186.5,242.2 187.2,241.7 188,240.9 188.7,239.6 189.4,237.5 190.2,234.6 190.9,230.4 191.6,224.6 192.4,217.2 193.1,208.5 193.8,198.7 194.6,188.8 195.3,180.1 196,173.7 196.7,170.4 197.5,170.8 198.2,174 198.9,179.4 199.7,186.4 200.4,194.4 201.1,202.6 201.9,210.2 202.6,217.1 203.3,222.9 204.1,227.5 204.8,230.8 205.5,233.3 206.3,234.8 207,235.5 207.7,235.7 208.5,235.5 209.2,234.7 209.9,233.7 210.7,232.4 211.4,230.9 212.1,229 212.8,227.1 213.6,225 214.3,222.8 215,220.6 215.8,218.5 216.5,216.7 217.2,215 218,213.8 218.7,213.2 219.4,212.9 220.2,213.3 220.9,214.5 221.6,216.3 222.4,218.5 223.1,221.1 223.8,223.9 224.6,226.5 225.3,229 226,231.4 226.7,233.5 227.5,235.1 228.2,236.5 228.9,237.8 229.7,238.6 230.4,239.3 231.1,239.9 231.9,240.4 232.6,240.6 233.3,240.9 234.1,241.3 234.8,241.4 235.5,241.6 236.3,241.9 237,242.1 237.7,242.2 238.5,242.3 239.2,242.6 239.9,242.7 240.7,242.8 241.4,243 242.1,243.1 242.8,243.2 243.6,243.3 244.3,243.5 245,243.5 245.8,243.6 246.5,243.7 247.2,243.8 248,243.8 248.7,243.9 249.4,244.1 250.2,244 250.9,244.1 251.6,244.2 252.4,244.2 253.1,244.2 253.8,244.2 254.6,244.4 255.3,244.3 256,244.3 256.7,244.4 257.5,244.4 258.2,244.4 258.9,244.4 259.7,244.5 260.4,244.4 261.1,244.4 261.9,244.5 262.6,244.5 263.3,244.4 264.1,244.5 264.8,244.6 265.5,244.5 266.3,244.5 267,244.5 267.7,244.5 268.5,244.5 269.2,244.5 269.9,244.6 270.7,244.5 271.4,244.5 272.1,244.5 272.8,244.5 273.6,244.5 274.3,244.5 275,244.6 275.8,244.5 276.5,244.4 277.2,244.5 278,244.5 278.7,244.4 279.4,244.5 280.2,244.5 280.9,244.4 281.6,244.4 282.4,244.5 283.1,244.5 283.8,244.4 284.6,244.4 285.3,244.5 286,244.4 286.7,244.4 287.5,244.4 288.2,244.4 288.9,244.3 289.7,244.4 290.4,244.4 291.1,244.3 291.9,244.3 292.6,244.4 293.3,244.3 294.1,244.2 294.8,244.2 295.5,244.3 296.3,244.2 297,244.1 297.7,244.2 298.5,244.1 299.2,244 299.9,244 300.6,244 301.4,243.9 302.1,243.8 302.8,243.8 303.6,243.6 304.3,243.5 305,243.4 305.8,243.4 306.5,243.2 307.2,243 308,242.9 308.7,242.7 309.4,242.5 310.2,242.3 310.9,242.2 311.6,241.8 312.4,241.5 313.1,241.2 313.8,240.6 314.6,239.8 315.3,238.8 316,237.3 316.7,235 317.5,231.9 318.2,227.6 318.9,221.6 319.7,213.7 320.4,203.7 321.1,191.5 321.9,177 322.6,160.8 323.3,143.4 324.1,125.7 324.8,108.7 325.5,93.9 326.3,82.3 327,74.7 327.7,72 328.5,73.4 329.2,78.1 329.9,85.5 330.6,95 331.4,105.6 332.1,116.2 332.8,126 333.6,134.4 334.3,140.5 335,144.2 335.8,145.7 336.5,145.1 337.2,142.9 338,140 338.7,137.5 339.4,136 340.2,136.5 340.9,138.8 341.6,142.1 342.4,146.1 343.1,151 343.8,156.7 344.6,162.7 345.3,169 346,175.5 346.7,182 347.5,188.1 348.2,194.1 348.9,199.7 349.7,204.7 350.4,209.3 351.1,213.5 351.9,217.2 352.6,220.2 353.3,223 354.1,225.5 354.8,227.4 355.5,229.1 356.3,230.7 357,232 357.7,233 358.5,234 359.2,235 359.9,235.7 360.6,236.3 361.4,237 362.1,237.6 362.8,238 363.6,238.5 364.3,239.1 365,239.4 365.8,239.8 366.5,240.2 367.2,240.6 368,240.8 368.7,241.1 369.4,241.5 370.2,241.7 370.9,241.9 371.6,242.2 372.4,242.4 373.1,242.5 373.8,242.7 374.6,242.9 375.3,243 376,243.1 376.7,243.2 377.5,243.4 378.2,243.4 378.9,243.5 379.7,243.7 380.4,243.7 381.1,243.7 381.9,243.8 382.6,243.9 383.3,243.9 384.1,243.9 384.8,244 385.5,244 386.3,244 387,244.1 387.7,244.1 388.5,244.1 389.2,244.1 389.9,244.2 390.6,244.2 391.4,244.2 392.1,244.2 392.8,244.3 393.6,244.2 394.3,244.2 395,244.4 395.8,244.3 396.5,244.3 397.2,244.3 398,244.4 398.7,244.3 399.4,244.3 400.2,244.4 400.9,244.3 401.6,244.3 402.4,244.4 403.1,244.4 403.8,244.3 404.6,244.4 405.3,244.5 406,244.4 406.7,244.4 407.5,244.4 408.2,244.4 408.9,244.4 409.7,244.4 410.4,244.5 411.1,244.4 411.9,244.4 412.6,244.5 413.3,244.5 414.1,244.4 414.8,244.5 415.5,244.5 416.3,244.5 417,244.4 417.7,244.5 418.5,244.5 419.2,244.4 419.9,244.5 420.6,244.6 421.4,244.5 422.1,244.5 422.8,244.5 423.6,244.5 424.3,244.5 425,244.5 425.8,244.6 426.5,244.5 427.2,244.5 428,244.6 428.7,244.5 429.4,244.5 430.2,244.5 430.9,244.6 431.6,244.5 432.4,244.5 433.1,244.6 433.8,244.6 434.6,244.5 435.3,244.5 436,244.6 436.7,244.5 437.5,244.5 438.2,244.6 438.9,244.6 439.7,244.5 440.4,244.5 441.1,244.6 441.9,244.5 442.6,244.5 443.3,244.6 444.1,244.6 444.8,244.5 445.5,244.6 446.3,244.6 447,244.5 447.7,244.5 448.5,244.6 449.2,244.6 449.9,244.5 450.6,244.6 451.4,244.6 452.1,244.6 452.8,244.5 453.6,244.6 454.3,244.6 455,244.5 455.8,244.6 456.5,244.6 457.2,244.6 458,244.5 458.7,244.6 459.4,244.6 460.2,244.5 460.9,244.6 461.6,244.6 462.4,244.6 463.1,244.6 463.8,244.6 464.6,244.6 465.3,244.5 466,244.6 466.7,244.6 467.5,244.6 468.2,244.6 468.9,244.6 469.7,244.6 470.4,244.6 471.1,244.6 471.9,244.6 472.6,244.6 473.3,244.6 474.1,244.6 474.8,244.6 475.5,244.6 476.3,244.6 477,244.6 477.7,244.6 478.5,244.6 479.2,244.6 479.9,244.6 480.6,244.6 481.4,244.6 482.1,244.6 482.8,244.6 483.6,244.6 484.3,244.6 485,244.6 485.8,244.5 486.5,244.6 487.2,244.6 488,244.6 488.7,244.6 489.4,244.6 490.2,244.6 490.9,244.5 491.6,244.6 492.4,244.6 493.1,244.5 493.8,244.6 494.6,244.6 495.3,244.6 496,244.5 496.7,244.6 497.5,244.6 498.2,244.5 498.9,244.5 499.7,244.6 500.4,244.6 501.1,244.5 501.9,244.6 502.6,244.6 503.3,244.5 504.1,244.5 504.8,244.6 505.5,244.5 506.3,244.5 507,244.5 507.7,244.5 508.5,244.5 509.2,244.5 509.9,244.5 510.6,244.4 511.4,244.4 512.1,244.4 512.8,244.4 513.6,244.3 514.3,244.3 515,244.3 515.8,244.2 516.5,244.1 517.2,244.1 518,244.1 518.7,243.9 519.4,243.8 520.2,243.8 520.9,243.6 521.6,243.5 522.4,243.4 523.1,243.2 523.8,242.9 524.6,242.6 525.3,242.4 526,241.9 526.7,241.4 527.5,240.8 528.2,240.1 528.9,239.1 529.7,238 530.4,236.9 531.1,235.4 531.9,234 532.6,232.7 533.3,231.4 534.1,230.2 534.8,229.5 535.5,229.3 536.3,229.4 537,230 537.7,231 538.5,232.2 539.2,233.4 539.9,234.8 540.6,236.2 541.4,237.3 542.1,238.3 542.8,239.3 543.6,240 544.3,240.4 545,240.8 545.8,241 546.5,241 547.2,240.9 548,240.8 548.7,240.5 549.4,240.2 550.2,239.9 550.9,239.7 551.6,239.4 552.4,239.3 553.1,239.3 553.8,239.4 554.5,239.5 555.3,239.7 556,240 556.7,240.1 557.5,240.4 558.2,240.8 558.9,241 559.7,241.3 560.4,241.6 561.1,242 561.9,242.1 562.6,242.3 563.3,242.6 564.1,242.8 564.8,242.9 565.5,243.1 566.3,243.4 567,243.4 567.7,243.5 568.5,243.6 569.2,243.7 569.9,243.7 570.6,243.8 571.4,244 572.1,243.9 572.8,244 573.6,244.1 574.3,244.1 575,244.1 575.8,244.1 576.5,244.3 577.2,244.2 578,244.2 578.7,244.3 579.4,244.3 580.2,244.3 580.9,244.3 581.6,244.4 582.4,244.4 583.1,244.4 583.8,244.5 584.5,244.5 585.3,244.4 586,244.5 586.7,244.5 587.5,244.5 588.2,244.5 588.9,244.6 589.7,244.5 590.4,244.5 591.1,244.5 591.9,244.6 592.6,244.5 593.3,244.5 594.1,244.6 594.8,244.6 595.5,244.5 596.3,244.6 597,244.7 597.7,244.6 598.5,244.6 599.2,244.7 599.9,244.6 600.6,244.6 601.4,244.6 602.1,244.7 602.8,244.6 603.6,244.6 604.3,244.7 605,244.6 605.8,244.6 606.5,244.6 607.2,244.7 608,244.6 608.7,244.6 609.4,244.7 610.2,244.6 610.9,244.6 611.6,244.6 612.4,244.7 613.1,244.6 613.8,244.6 614.5,244.7 615.3,244.6 616,244.6 616.7,244.6 617.5,244.7 617.5,244.8Z" fill="#10ffaa" stroke="#10ffaa" stroke-width="1.5" stroke-linejoin="round"/>
<path d="M131,256.5 131,254.3 131.7,254.7 132.4,255.4 133.2,255.9 133.9,256.2 134.6,256.4 135.4,256.3 136.1,256.3 136.8,256.4 137.5,256.4 138.3,256.3 139,256.3 139.7,256.4 140.5,256.3 141.2,256.3 141.9,256.4 142.7,256.4 143.4,256.3 144.1,256.3 144.9,256.4 145.6,256.3 146.3,256.3 147.1,256.4 147.8,256.4 148.5,256.3 149.3,256.3 150,256.4 150.7,256.3 151.4,256.3 152.2,256.3 152.9,256.3 153.6,256.3 154.4,256.3 155.1,256.4 155.8,256.3 156.6,256.2 157.3,256.3 158,256.3 158.8,256.2 159.5,256.2 160.2,256.3 161,256.2 161.7,256.2 162.4,256.2 163.2,256.2 163.9,256.1 164.6,256.1 165.4,256.2 166.1,256 166.8,256 167.5,256 168.3,255.9 169,255.8 169.7,255.7 170.5,255.7 171.2,255.5 171.9,255.3 172.7,255.2 173.4,255.1 174.1,254.8 174.9,254.5 175.6,254.3 176.3,253.6 177.1,252.9 177.8,251.7 178.5,249.9 179.3,247.1 180,243.3 180.7,238.1 181.4,231.2 182.2,223.1 182.9,214.2 183.6,205.2 184.4,197.1 185.1,191.2 185.8,188.3 186.6,188.6 187.3,191.5 188,196.5 188.8,203 189.5,210.2 190.2,217.7 191,224.8 191.7,231 192.4,236.3 193.2,240.5 193.9,243.6 194.6,245.7 195.4,247.1 196.1,247.9 196.8,247.9 197.5,247.6 198.3,247 199,246 199.7,244.7 200.5,243.2 201.2,241.5 201.9,239.5 202.7,237.5 203.4,235.4 204.1,233.3 204.9,231.2 205.6,229.5 206.3,228 207.1,226.8 207.8,226.1 208.5,225.9 209.3,226.3 210,227.4 210.7,229.1 211.4,231.3 212.2,233.7 212.9,236.3 213.6,239 214.4,241.4 215.1,243.6 215.8,245.6 216.6,247.3 217.3,248.6 218,249.7 218.8,250.6 219.5,251.3 220.2,251.8 221,252.2 221.7,252.6 222.4,252.8 223.2,253 223.9,253.3 224.6,253.5 225.4,253.6 226.1,253.8 226.8,254.1 227.5,254.1 228.3,254.3 229,254.5 229.7,254.6 230.5,254.7 231.2,254.9 231.9,255 232.7,255 233.4,255.2 234.1,255.3 234.9,255.4 235.6,255.4 236.3,255.5 237.1,255.7 237.8,255.6 238.5,255.7 239.3,255.8 240,255.8 240.7,255.8 241.4,255.9 242.2,256 242.9,256 243.6,256 244.4,256.1 245.1,256.1 245.8,256.1 246.6,256.1 247.3,256.2 248,256.1 248.8,256.1 249.5,256.2 250.2,256.2 251,256.2 251.7,256.2 252.4,256.2 253.2,256.2 253.9,256.2 254.6,256.3 255.3,256.2 256.1,256.2 256.8,256.2 257.5,256.3 258.3,256.2 259,256.2 259.7,256.3 260.5,256.2 261.2,256.2 261.9,256.2 262.7,256.2 263.4,256.2 264.1,256.2 264.9,256.3 265.6,256.2 266.3,256.2 267.1,256.2 267.8,256.2 268.5,256.1 269.3,256.2 270,256.2 270.7,256.2 271.4,256.1 272.2,256.2 272.9,256.2 273.6,256.1 274.4,256.1 275.1,256.2 275.8,256.1 276.6,256.1 277.3,256.1 278,256.1 278.8,256 279.5,256 280.2,256.1 281,256 281.7,256 282.4,256 283.2,256 283.9,255.9 284.6,255.9 285.3,256 286.1,255.8 286.8,255.8 287.5,255.8 288.3,255.8 289,255.6 289.7,255.6 290.5,255.6 291.2,255.5 291.9,255.4 292.7,255.3 293.4,255.2 294.1,255.1 294.9,255 295.6,254.9 296.3,254.7 297.1,254.5 297.8,254.4 298.5,254.3 299.3,254 300,253.8 300.7,253.6 301.4,253.2 302.2,252.8 302.9,252.3 303.6,251.6 304.4,250.5 305.1,249.1 305.8,247.1 306.6,244 307.3,239.7 308,234.1 308.8,226.6 309.5,216.9 310.2,205.2 311,191.5 311.7,175.8 312.4,159.1 313.2,142.2 313.9,125.9 314.6,111.5 315.3,100.2 316.1,92.9 316.8,89.8 317.5,90.6 318.3,94.6 319,101.1 319.7,109.4 320.5,118.7 321.2,128.1 321.9,136.7 322.7,144.1 323.4,149.7 324.1,153.2 324.9,154.7 325.6,154.6 326.3,153.4 327.1,151.5 327.8,149.8 328.5,149.1 329.3,149.9 330,152.1 330.7,155.3 331.4,159.4 332.2,164.2 332.9,169.8 333.6,175.9 334.4,182.2 335.1,188.6 335.8,195 336.6,201.2 337.3,207 338,212.5 338.8,217.6 339.5,222.1 340.2,226 341,229.6 341.7,232.8 342.4,235.4 343.2,237.7 343.9,239.7 344.6,241.3 345.3,242.7 346.1,244 346.8,245.1 347.5,246 348.3,246.8 349,247.6 349.7,248.3 350.5,248.8 351.2,249.4 351.9,250 352.7,250.4 353.4,250.8 354.1,251.3 354.9,251.7 355.6,252 356.3,252.4 357.1,252.7 357.8,252.9 358.5,253.2 359.3,253.5 360,253.7 360.7,253.9 361.4,254.1 362.2,254.4 362.9,254.4 363.6,254.6 364.4,254.8 365.1,254.9 365.8,255 366.6,255.1 367.3,255.2 368,255.2 368.8,255.3 369.5,255.5 370.2,255.5 371,255.5 371.7,255.6 372.4,255.7 373.2,255.7 373.9,255.7 374.6,255.8 375.3,255.8 376.1,255.8 376.8,255.9 377.5,255.9 378.3,255.9 379,255.9 379.7,256 380.5,256 381.2,255.9 381.9,256 382.7,256 383.4,256 384.1,256 384.9,256.1 385.6,256 386.3,256 387.1,256.1 387.8,256.1 388.5,256 389.3,256.1 390,256.2 390.7,256.1 391.4,256.1 392.2,256.1 392.9,256.2 393.6,256.1 394.4,256.1 395.1,256.2 395.8,256.1 396.6,256.1 397.3,256.2 398,256.2 398.8,256.1 399.5,256.2 400.2,256.2 401,256.2 401.7,256.1 402.4,256.2 403.2,256.2 403.9,256.2 404.6,256.2 405.3,256.3 406.1,256.2 406.8,256.2 407.5,256.2 408.3,256.3 409,256.2 409.7,256.2 410.5,256.3 411.2,256.2 411.9,256.2 412.7,256.3 413.4,256.3 414.1,256.2 414.9,256.2 415.6,256.3 416.3,256.2 417.1,256.2 417.8,256.3 418.5,256.3 419.3,256.2 420,256.2 420.7,256.3 421.4,256.3 422.2,256.2 422.9,256.3 423.6,256.3 424.4,256.2 425.1,256.3 425.8,256.4 426.6,256.3 427.3,256.2 428,256.3 428.8,256.3 429.5,256.3 430.2,256.3 431,256.4 431.7,256.3 432.4,256.3 433.2,256.3 433.9,256.3 434.6,256.3 435.3,256.3 436.1,256.4 436.8,256.3 437.5,256.3 438.3,256.3 439,256.3 439.7,256.3 440.5,256.3 441.2,256.4 441.9,256.3 442.7,256.3 443.4,256.3 444.1,256.3 444.9,256.3 445.6,256.3 446.3,256.4 447.1,256.3 447.8,256.3 448.5,256.4 449.3,256.3 450,256.3 450.7,256.3 451.4,256.4 452.2,256.3 452.9,256.3 453.6,256.4 454.4,256.3 455.1,256.3 455.8,256.3 456.6,256.4 457.3,256.3 458,256.3 458.8,256.4 459.5,256.3 460.2,256.3 461,256.3 461.7,256.4 462.4,256.3 463.2,256.3 463.9,256.4 464.6,256.3 465.3,256.3 466.1,256.3 466.8,256.4 467.5,256.3 468.3,256.3 469,256.4 469.7,256.3 470.5,256.3 471.2,256.3 471.9,256.4 472.7,256.3 473.4,256.3 474.1,256.4 474.9,256.3 475.6,256.3 476.3,256.3 477.1,256.4 477.8,256.3 478.5,256.3 479.3,256.4 480,256.3 480.7,256.3 481.4,256.3 482.2,256.4 482.9,256.3 483.6,256.3 484.4,256.4 485.1,256.3 485.8,256.3 486.6,256.3 487.3,256.4 488,256.3 488.8,256.3 489.5,256.3 490.2,256.3 491,256.2 491.7,256.3 492.4,256.3 493.2,256.2 493.9,256.2 494.6,256.3 495.3,256.3 496.1,256.2 496.8,256.2 497.5,256.3 498.3,256.2 499,256.2 499.7,256.2 500.5,256.2 501.2,256.1 501.9,256.1 502.7,256.1 503.4,256 504.1,256 504.9,256 505.6,255.9 506.3,255.8 507.1,255.8 507.8,255.8 508.5,255.6 509.2,255.5 510,255.4 510.7,255.3 511.4,255.1 512.2,254.9 512.9,254.8 513.6,254.4 514.4,254.1 515.1,253.8 515.8,253.2 516.6,252.6 517.3,251.9 518,251 518.8,249.9 519.5,248.7 520.2,247.5 521,246.1 521.7,244.7 522.4,243.4 523.2,242.4 523.9,241.6 524.6,241.3 525.3,241.6 526.1,242.1 526.8,243 527.5,244.2 528.3,245.5 529,246.8 529.7,248 530.5,249.3 531.2,250.2 531.9,251 532.7,251.8 533.4,252.3 534.1,252.5 534.9,252.7 535.6,252.8 536.3,252.6 537.1,252.4 537.8,252.2 538.5,251.9 539.2,251.5 540,251.2 540.7,251.1 541.4,250.9 542.2,250.8 542.9,251 543.6,251.1 544.4,251.2 545.1,251.5 545.8,251.8 546.6,252 547.3,252.3 548,252.6 548.8,253 549.5,253.2 550.2,253.5 551,253.9 551.7,254 552.4,254.2 553.2,254.5 553.9,254.7 554.6,254.8 555.3,255 556.1,255.2 556.8,255.2 557.5,255.3 558.3,255.4 559,255.5 559.7,255.5 560.5,255.6 561.2,255.7 561.9,255.7 562.7,255.7 563.4,255.8 564.1,255.9 564.9,255.8 565.6,255.9 566.3,256 567.1,255.9 567.8,256 568.5,256 569.2,256.1 570,256 570.7,256.1 571.4,256.2 572.2,256.1 572.9,256.1 573.6,256.2 574.4,256.2 575.1,256.2 575.8,256.2 576.6,256.3 577.3,256.2 578,256.2 578.8,256.3 579.5,256.3 580.2,256.2 581,256.3 581.7,256.4 582.4,256.3 583.2,256.3 583.9,256.3 584.6,256.3 585.3,256.3 586.1,256.3 586.8,256.4 587.5,256.3 588.3,256.3 589,256.4 589.7,256.4 590.5,256.3 591.2,256.3 591.9,256.4 592.7,256.3 593.4,256.3 594.1,256.4 594.9,256.4 595.6,256.3 596.3,256.4 597.1,256.4 597.8,256.3 598.5,256.3 599.2,256.4 600,256.4 600.7,256.3 601.4,256.4 602.2,256.4 602.9,256.3 603.6,256.3 604.4,256.4 605.1,256.4 605.8,256.3 606.6,256.4 606.6,256.5Z" fill="#ae26fa" stroke="#ae26fa" stroke-width="1.5" stroke-linejoin="round"/>
<path d="M120.1,268.2 120.1,266.1 120.8,266.4 121.5,267.1 122.2,267.7 123,267.9 123.7,268 124.4,268.1 125.2,268.1 125.9,268 126.6,268.1 127.4,268.1 128.1,268 128.8,268.1 129.6,268.1 130.3,268.1 131,268 131.8,268.1 132.5,268.1 133.2,268 134,268 134.7,268.1 135.4,268.1 136.1,268 136.9,268.1 137.6,268.1 138.3,268 139.1,268 139.8,268.1 140.5,268 141.3,268 142,268.1 142.7,268.1 143.5,268 144.2,268 144.9,268.1 145.7,268 146.4,268 147.1,268 147.9,268 148.6,268 149.3,268 150.1,268 150.8,267.9 151.5,267.9 152.2,267.9 153,267.9 153.7,267.8 154.4,267.8 155.2,267.9 155.9,267.7 156.6,267.7 157.4,267.7 158.1,267.6 158.8,267.4 159.6,267.4 160.3,267.3 161,267.1 161.8,266.9 162.5,266.8 163.2,266.6 164,266.3 164.7,265.9 165.4,265.5 166.1,264.7 166.9,263.5 167.6,261.8 168.3,259.2 169.1,255.3 169.8,250.1 170.5,243.6 171.3,235.6 172,226.9 172.7,218.2 173.5,210.3 174.2,204.4 174.9,201.6 175.7,202.1 176.4,204.8 177.1,209.6 177.9,216 178.6,223.1 179.3,230.3 180.1,237.2 180.8,243.4 181.5,248.5 182.2,252.5 183,255.6 183.7,257.7 184.4,258.9 185.2,259.6 185.9,259.8 186.6,259.4 187.4,258.7 188.1,257.7 188.8,256.5 189.6,254.9 190.3,253.2 191,251.3 191.8,249.2 192.5,247.1 193.2,245 194,243 194.7,241.1 195.4,239.6 196.1,238.5 196.9,237.7 197.6,237.5 198.3,238 199.1,239.1 199.8,240.7 200.5,242.9 201.3,245.5 202,248 202.7,250.6 203.5,253.1 204.2,255.3 204.9,257.2 205.7,258.9 206.4,260.4 207.1,261.4 207.9,262.3 208.6,263 209.3,263.5 210.1,263.9 210.8,264.3 211.5,264.6 212.2,264.8 213,265 213.7,265.2 214.4,265.4 215.2,265.5 215.9,265.7 216.6,265.9 217.4,266 218.1,266.1 218.8,266.4 219.6,266.5 220.3,266.5 221,266.7 221.8,266.9 222.5,266.9 223.2,267 224,267.1 224.7,267.2 225.4,267.2 226.1,267.3 226.9,267.5 227.6,267.4 228.3,267.5 229.1,267.6 229.8,267.6 230.5,267.6 231.3,267.7 232,267.8 232.7,267.7 233.5,267.7 234.2,267.8 234.9,267.8 235.7,267.8 236.4,267.9 237.1,267.9 237.9,267.9 238.6,267.9 239.3,268 240,267.9 240.8,267.9 241.5,267.9 242.2,268 243,267.9 243.7,267.9 244.4,268 245.2,267.9 245.9,267.9 246.6,267.9 247.4,268 248.1,267.9 248.8,267.9 249.6,268 250.3,267.9 251,267.9 251.8,267.9 252.5,268 253.2,267.9 254,267.9 254.7,268 255.4,267.9 256.1,267.9 256.9,267.9 257.6,267.9 258.3,267.9 259.1,267.9 259.8,267.9 260.5,267.9 261.3,267.8 262,267.9 262.7,267.9 263.5,267.8 264.2,267.8 264.9,267.9 265.7,267.8 266.4,267.8 267.1,267.8 267.9,267.8 268.6,267.7 269.3,267.7 270,267.8 270.8,267.7 271.5,267.6 272.2,267.7 273,267.7 273.7,267.6 274.4,267.6 275.2,267.6 275.9,267.5 276.6,267.4 277.4,267.4 278.1,267.4 278.8,267.3 279.6,267.2 280.3,267.2 281,267.1 281.8,267 282.5,266.9 283.2,266.8 284,266.6 284.7,266.5 285.4,266.5 286.1,266.2 286.9,266 287.6,265.9 288.3,265.7 289.1,265.4 289.8,265.2 290.5,265 291.3,264.5 292,264 292.7,263.3 293.5,262.3 294.2,260.8 294.9,258.7 295.7,255.8 296.4,251.6 297.1,246 297.9,238.6 298.6,229.2 299.3,217.6 300,204 300.8,188.7 301.5,172.2 302.2,155.4 303,139.3 303.7,125.1 304.4,113.7 305.2,106.3 305.9,103.2 306.6,103.6 307.4,107.1 308.1,113.1 308.8,120.9 309.6,129.5 310.3,138.4 311,146.7 311.8,153.6 312.5,158.9 313.2,162.5 314,164.3 314.7,164.5 315.4,163.7 316.1,162.5 316.9,161.2 317.6,160.8 318.3,161.8 319.1,164 319.8,167.1 320.5,171.3 321.3,176.3 322,181.8 322.7,187.9 323.5,194.4 324.2,200.9 324.9,207.2 325.7,213.4 326.4,219.4 327.1,224.8 327.9,229.8 328.6,234.3 329.3,238.3 330,241.8 330.8,244.8 331.5,247.5 332.2,249.7 333,251.6 333.7,253.3 334.4,254.7 335.2,255.8 335.9,256.9 336.6,257.9 337.4,258.6 338.1,259.4 338.8,260.1 339.6,260.7 340.3,261.2 341,261.7 341.8,262.3 342.5,262.6 343.2,263 344,263.5 344.7,263.8 345.4,264.1 346.1,264.4 346.9,264.8 347.6,265 348.3,265.2 349.1,265.5 349.8,265.7 350.5,265.8 351.3,266 352,266.3 352.7,266.3 353.5,266.5 354.2,266.7 354.9,266.8 355.7,266.8 356.4,266.9 357.1,267.1 357.9,267.1 358.6,267.1 359.3,267.3 360,267.3 360.8,267.3 361.5,267.4 362.2,267.5 363,267.4 363.7,267.5 364.4,267.6 365.2,267.6 365.9,267.5 366.6,267.6 367.4,267.7 368.1,267.6 368.8,267.6 369.6,267.7 370.3,267.7 371,267.7 371.8,267.7 372.5,267.8 373.2,267.7 374,267.7 374.7,267.8 375.4,267.8 376.1,267.8 376.9,267.8 377.6,267.9 378.3,267.8 379.1,267.8 379.8,267.9 380.5,267.9 381.3,267.8 382,267.9 382.7,267.9 383.5,267.8 384.2,267.8 384.9,267.9 385.7,267.9 386.4,267.9 387.1,267.9 387.9,268 388.6,267.9 389.3,267.9 390,268 390.8,267.9 391.5,267.9 392.2,267.9 393,268 393.7,267.9 394.4,267.9 395.2,268 395.9,268 396.6,267.9 397.4,268 398.1,268 398.8,267.9 399.6,267.9 400.3,268 401,268 401.8,267.9 402.5,268 403.2,268 404,267.9 404.7,268 405.4,268 406.1,268 406.9,268 407.6,268 408.3,268 409.1,268 409.8,268 410.5,268.1 411.3,268 412,268 412.7,268 413.5,268.1 414.2,268 414.9,268 415.7,268.1 416.4,268 417.1,268 417.9,268 418.6,268.1 419.3,268 420,268 420.8,268.1 421.5,268 422.2,268 423,268 423.7,268.1 424.4,268 425.2,268 425.9,268.1 426.6,268 427.4,268 428.1,268.1 428.8,268.1 429.6,268 430.3,268 431,268.1 431.8,268 432.5,268 433.2,268.1 434,268.1 434.7,268 435.4,268 436.1,268.1 436.9,268 437.6,268 438.3,268.1 439.1,268.1 439.8,268 440.5,268 441.3,268.1 442,268 442.7,268 443.5,268.1 444.2,268.1 444.9,268 445.7,268 446.4,268.1 447.1,268 447.9,268 448.6,268.1 449.3,268.1 450,268 450.8,268 451.5,268.1 452.2,268 453,268 453.7,268.1 454.4,268.1 455.2,268 455.9,268 456.6,268.1 457.4,268 458.1,268 458.8,268.1 459.6,268.1 460.3,268 461,268 461.8,268.1 462.5,268 463.2,268 463.9,268.1 464.7,268.1 465.4,268 466.1,268 466.9,268.1 467.6,268 468.3,268 469.1,268.1 469.8,268.1 470.5,268 471.3,268 472,268.1 472.7,268 473.5,268 474.2,268.1 474.9,268.1 475.7,268 476.4,268 477.1,268.1 477.9,268 478.6,268 479.3,268.1 480,268 480.8,268 481.5,268 482.2,268.1 483,268 483.7,268 484.4,268 485.2,268 485.9,267.9 486.6,268 487.4,268 488.1,267.9 488.8,267.9 489.6,267.9 490.3,267.9 491,267.8 491.8,267.8 492.5,267.8 493.2,267.7 493.9,267.7 494.7,267.7 495.4,267.6 496.1,267.5 496.9,267.4 497.6,267.4 498.3,267.2 499.1,267.1 499.8,267 500.5,266.8 501.3,266.6 502,266.4 502.7,266.2 503.5,265.8 504.2,265.4 504.9,265 505.7,264.4 506.4,263.6 507.1,262.7 507.9,261.7 508.6,260.5 509.3,259.2 510,257.9 510.8,256.5 511.5,255.2 512.2,254.1 513,253.5 513.7,253.1 514.4,253.3 515.2,253.9 515.9,254.8 516.6,255.9 517.4,257.2 518.1,258.6 518.8,259.8 519.6,260.9 520.3,262 521,262.8 521.8,263.4 522.5,264 523.2,264.3 523.9,264.4 524.7,264.4 525.4,264.4 526.1,264.1 526.9,263.8 527.6,263.5 528.3,263.3 529.1,262.9 529.8,262.7 530.5,262.6 531.3,262.5 532,262.6 532.7,262.7 533.5,263 534.2,263.1 534.9,263.4 535.7,263.8 536.4,264 537.1,264.3 537.9,264.6 538.6,265 539.3,265.2 540,265.5 540.8,265.8 541.5,266 542.2,266.1 543,266.4 543.7,266.6 544.4,266.7 545.2,266.8 545.9,267 546.6,267 547.4,267.1 548.1,267.2 548.8,267.3 549.6,267.3 550.3,267.4 551,267.5 551.8,267.5 552.5,267.5 553.2,267.6 553.9,267.6 554.7,267.6 555.4,267.6 556.1,267.8 556.9,267.7 557.6,267.7 558.3,267.8 559.1,267.8 559.8,267.8 560.5,267.8 561.3,267.9 562,267.9 562.7,267.9 563.5,267.9 564.2,268 564.9,267.9 565.7,267.9 566.4,268 567.1,268 567.9,267.9 568.6,268 569.3,268 570,268 570.8,268 571.5,268.1 572.2,268 573,268 573.7,268.1 574.4,268.1 575.2,268 575.9,268 576.6,268.1 577.4,268.1 578.1,268 578.8,268.1 579.6,268.1 580.3,268 581,268.1 581.8,268.2 582.5,268.1 583.2,268 583.9,268.1 584.7,268.1 585.4,268.1 586.1,268.1 586.9,268.2 587.6,268.1 588.3,268.1 589.1,268.1 589.8,268.1 590.5,268.1 591.3,268.1 592,268.2 592.7,268.1 593.5,268.1 594.2,268.1 594.9,268.1 595.7,268.1 595.7,268.2Z" fill="#385010" stroke="#385010" stroke-width="1.5" stroke-linejoin="round"/>
<path d="M109.1,280 109.1,277.9 109.9,278.2 110.6,278.8 111.3,279.4 112.1,279.8 112.8,279.8 113.5,279.8 114.3,279.9 115,279.8 115.7,279.8 116.5,279.8 117.2,279.9 117.9,279.8 118.7,279.8 119.4,279.9 120.1,279.8 120.8,279.8 121.6,279.8 122.3,279.9 123,279.8 123.8,279.8 124.5,279.8 125.2,279.8 126,279.7 126.7,279.8 127.4,279.8 128.2,279.8 128.9,279.7 129.6,279.8 130.4,279.8 131.1,279.7 131.8,279.8 132.6,279.8 133.3,279.7 134,279.7 134.8,279.8 135.5,279.7 136.2,279.7 136.9,279.7 137.7,279.8 138.4,279.7 139.1,279.7 139.9,279.7 140.6,279.7 141.3,279.6 142.1,279.6 142.8,279.6 143.5,279.5 144.3,279.5 145,279.5 145.7,279.4 146.5,279.3 147.2,279.3 147.9,279.3 148.7,279.1 149.4,279 150.1,278.9 150.8,278.7 151.6,278.5 152.3,278.3 153,278.1 153.8,277.7 154.5,277.2 155.2,276.5 156,275.3 156.7,273.5 157.4,270.9 158.2,267.2 158.9,262 159.6,255.5 160.4,247.8 161.1,239 161.8,230.3 162.6,222.6 163.3,216.8 164,213.9 164.8,214.3 165.5,217.2 166.2,221.9 166.9,228.1 167.7,235.2 168.4,242.4 169.1,249.2 169.9,255.3 170.6,260.4 171.3,264.4 172.1,267.4 172.8,269.5 173.5,270.8 174.3,271.4 175,271.5 175.7,271.3 176.5,270.5 177.2,269.5 177.9,268.3 178.7,266.8 179.4,265 180.1,263.1 180.8,261.2 181.6,259 182.3,256.8 183,254.9 183.8,253.1 184.5,251.5 185.2,250.4 186,249.8 186.7,249.5 187.4,249.9 188.2,251 188.9,252.7 189.6,254.8 190.4,257.3 191.1,260 191.8,262.5 192.6,264.9 193.3,267.2 194,269.1 194.7,270.7 195.5,272.1 196.2,273.3 196.9,274 197.7,274.7 198.4,275.3 199.1,275.7 199.9,276 200.6,276.3 201.3,276.6 202.1,276.7 202.8,276.9 203.5,277.2 204.3,277.3 205,277.4 205.7,277.6 206.5,277.9 207.2,277.9 207.9,278 208.7,278.2 209.4,278.3 210.1,278.4 210.8,278.5 211.6,278.7 212.3,278.7 213,278.8 213.8,278.9 214.5,279 215.2,279 216,279.1 216.7,279.3 217.4,279.2 218.2,279.3 218.9,279.4 219.6,279.4 220.4,279.4 221.1,279.4 221.8,279.5 222.6,279.5 223.3,279.5 224,279.6 224.7,279.6 225.5,279.5 226.2,279.6 226.9,279.7 227.7,279.6 228.4,279.6 229.1,279.7 229.9,279.7 230.6,279.6 231.3,279.6 232.1,279.7 232.8,279.6 233.5,279.6 234.3,279.7 235,279.7 235.7,279.6 236.5,279.7 237.2,279.7 237.9,279.6 238.7,279.6 239.4,279.7 240.1,279.7 240.8,279.6 241.6,279.6 242.3,279.7 243,279.6 243.8,279.6 244.5,279.7 245.2,279.6 246,279.6 246.7,279.6 247.4,279.7 248.2,279.6 248.9,279.6 249.6,279.6 250.4,279.6 251.1,279.5 251.8,279.6 252.6,279.6 253.3,279.5 254,279.5 254.7,279.6 255.5,279.5 256.2,279.5 256.9,279.5 257.7,279.5 258.4,279.4 259.1,279.4 259.9,279.5 260.6,279.4 261.3,279.3 262.1,279.4 262.8,279.4 263.5,279.3 264.3,279.2 265,279.3 265.7,279.2 266.5,279.1 267.2,279.1 267.9,279.1 268.7,278.9 269.4,278.9 270.1,278.9 270.8,278.7 271.6,278.6 272.3,278.5 273,278.4 273.8,278.2 274.5,278.1 275.2,278 276,277.8 276.7,277.6 277.4,277.4 278.2,277.3 278.9,276.9 279.6,276.6 280.4,276.3 281.1,275.7 281.8,275 282.6,274.1 283.3,272.7 284,270.5 284.7,267.6 285.5,263.6 286.2,258 286.9,250.7 287.7,241.5 288.4,230.1 289.1,216.6 289.9,201.6 290.6,185.4 291.3,168.8 292.1,152.9 292.8,138.9 293.5,127.7 294.3,120.2 295,117 295.7,117.4 296.5,120.6 297.2,126.2 297.9,133.7 298.7,142.1 299.4,150.5 300.1,158.5 300.8,165.3 301.6,170.5 302.3,174 303,175.8 303.8,176.2 304.5,175.5 305.2,174.4 306,173.5 306.7,173.2 307.4,174.1 308.2,176.3 308.9,179.5 309.6,183.6 310.4,188.6 311.1,194.4 311.8,200.4 312.6,206.8 313.3,213.4 314,219.8 314.7,226 315.5,231.8 316.2,237.4 316.9,242.2 317.7,246.7 318.4,250.7 319.1,254.1 319.9,257 320.6,259.6 321.3,261.9 322.1,263.7 322.8,265.2 323.5,266.7 324.3,267.8 325,268.8 325.7,269.7 326.5,270.6 327.2,271.2 327.9,271.8 328.7,272.5 329.4,273 330.1,273.5 330.8,274 331.6,274.5 332.3,274.8 333,275.2 333.8,275.6 334.5,275.9 335.2,276.2 336,276.5 336.7,276.8 337.4,277 338.2,277.2 338.9,277.5 339.6,277.7 340.4,277.8 341.1,278 341.8,278.2 342.6,278.2 343.3,278.3 344,278.5 344.7,278.6 345.5,278.6 346.2,278.8 346.9,278.9 347.7,278.9 348.4,278.9 349.1,279.1 349.9,279.1 350.6,279.1 351.3,279.2 352.1,279.3 352.8,279.2 353.5,279.2 354.3,279.3 355,279.3 355.7,279.3 356.5,279.4 357.2,279.5 357.9,279.4 358.7,279.4 359.4,279.5 360.1,279.5 360.8,279.4 361.6,279.5 362.3,279.6 363,279.5 363.8,279.5 364.5,279.6 365.2,279.6 366,279.5 366.7,279.5 367.4,279.6 368.2,279.5 368.9,279.5 369.6,279.6 370.4,279.6 371.1,279.6 371.8,279.6 372.6,279.7 373.3,279.6 374,279.6 374.7,279.7 375.5,279.6 376.2,279.6 376.9,279.6 377.7,279.7 378.4,279.6 379.1,279.6 379.9,279.7 380.6,279.7 381.3,279.6 382.1,279.7 382.8,279.7 383.5,279.7 384.3,279.6 385,279.7 385.7,279.7 386.5,279.7 387.2,279.7 387.9,279.8 388.7,279.7 389.4,279.7 390.1,279.8 390.8,279.7 391.6,279.7 392.3,279.7 393,279.8 393.8,279.7 394.5,279.7 395.2,279.8 396,279.7 396.7,279.7 397.4,279.7 398.2,279.8 398.9,279.7 399.6,279.7 400.4,279.8 401.1,279.7 401.8,279.7 402.6,279.7 403.3,279.8 404,279.7 404.7,279.7 405.5,279.8 406.2,279.8 406.9,279.7 407.7,279.8 408.4,279.8 409.1,279.7 409.9,279.7 410.6,279.8 411.3,279.8 412.1,279.7 412.8,279.8 413.5,279.8 414.3,279.7 415,279.7 415.7,279.8 416.5,279.8 417.2,279.7 417.9,279.8 418.7,279.8 419.4,279.7 420.1,279.7 420.8,279.8 421.6,279.8 422.3,279.7 423,279.8 423.8,279.8 424.5,279.7 425.2,279.8 426,279.8 426.7,279.8 427.4,279.7 428.2,279.8 428.9,279.8 429.6,279.8 430.4,279.8 431.1,279.8 431.8,279.8 432.6,279.7 433.3,279.8 434,279.8 434.7,279.8 435.5,279.8 436.2,279.9 436.9,279.8 437.7,279.7 438.4,279.8 439.1,279.8 439.9,279.8 440.6,279.8 441.3,279.9 442.1,279.8 442.8,279.7 443.5,279.8 444.3,279.8 445,279.8 445.7,279.8 446.5,279.9 447.2,279.8 447.9,279.7 448.6,279.8 449.4,279.8 450.1,279.8 450.8,279.8 451.6,279.9 452.3,279.8 453,279.7 453.8,279.8 454.5,279.8 455.2,279.7 456,279.8 456.7,279.9 457.4,279.8 458.2,279.7 458.9,279.8 459.6,279.8 460.4,279.7 461.1,279.8 461.8,279.8 462.6,279.8 463.3,279.7 464,279.8 464.7,279.8 465.5,279.7 466.2,279.7 466.9,279.8 467.7,279.7 468.4,279.7 469.1,279.8 469.9,279.8 470.6,279.7 471.3,279.7 472.1,279.8 472.8,279.7 473.5,279.7 474.3,279.7 475,279.7 475.7,279.7 476.5,279.7 477.2,279.7 477.9,279.6 478.6,279.6 479.4,279.6 480.1,279.6 480.8,279.5 481.6,279.5 482.3,279.6 483,279.4 483.8,279.4 484.5,279.4 485.2,279.3 486,279.1 486.7,279.1 487.4,279.1 488.2,278.9 488.9,278.7 489.6,278.6 490.4,278.4 491.1,278.2 491.8,278 492.6,277.7 493.3,277.2 494,276.8 494.7,276.2 495.5,275.5 496.2,274.6 496.9,273.6 497.7,272.5 498.4,271.1 499.1,269.8 499.9,268.6 500.6,267.3 501.3,266.2 502.1,265.6 502.8,265.4 503.5,265.4 504.3,266 505,267 505.7,268.1 506.5,269.2 507.2,270.5 507.9,271.8 508.6,272.9 509.4,273.8 510.1,274.7 510.8,275.3 511.6,275.7 512.3,276.1 513,276.3 513.8,276.2 514.5,276.1 515.2,275.9 516,275.6 516.7,275.3 517.4,275 518.2,274.8 518.9,274.4 519.6,274.3 520.4,274.3 521.1,274.4 521.8,274.4 522.6,274.7 523.3,275 524,275.1 524.7,275.4 525.5,275.8 526.2,276.1 526.9,276.3 527.7,276.7 528.4,277 529.1,277.2 529.9,277.5 530.6,277.8 531.3,277.9 532.1,278.1 532.8,278.3 533.5,278.5 534.3,278.5 535,278.6 535.7,278.8 536.5,278.9 537.2,278.9 537.9,279 538.6,279.1 539.4,279.1 540.1,279.1 540.8,279.3 541.6,279.3 542.3,279.2 543,279.3 543.8,279.4 544.5,279.4 545.2,279.4 546,279.5 546.7,279.5 547.4,279.5 548.2,279.5 548.9,279.6 549.6,279.5 550.4,279.6 551.1,279.7 551.8,279.6 552.6,279.6 553.3,279.7 554,279.7 554.7,279.7 555.5,279.7 556.2,279.8 556.9,279.7 557.7,279.7 558.4,279.7 559.1,279.8 559.9,279.7 560.6,279.7 561.3,279.8 562.1,279.8 562.8,279.7 563.5,279.8 564.3,279.8 565,279.8 565.7,279.8 566.5,279.9 567.2,279.8 567.9,279.8 568.6,279.8 569.4,279.9 570.1,279.8 570.8,279.8 571.6,279.9 572.3,279.8 573,279.8 573.8,279.8 574.5,279.9 575.2,279.8 576,279.8 576.7,279.9 577.4,279.8 578.2,279.8 578.9,279.8 579.6,279.9 580.4,279.8 581.1,279.8 581.8,279.9 582.6,279.8 583.3,279.8 584,279.9 584.7,279.9 584.7,280Z" fill="#000086" stroke="#000086" stroke-width="1.5" stroke-linejoin="round"/>
<path d="M98.2,291.7 98.2,290 99,290.3 99.7,290.8 100.4,291.2 101.2,291.4 101.9,291.6 102.6,291.5 103.4,291.5 104.1,291.6 104.8,291.6 105.5,291.5 106.3,291.5 107,291.6 107.7,291.5 108.5,291.5 109.2,291.6 109.9,291.6 110.7,291.5 111.4,291.5 112.1,291.6 112.9,291.5 113.6,291.5 114.3,291.6 115.1,291.5 115.8,291.5 116.5,291.5 117.3,291.6 118,291.5 118.7,291.5 119.5,291.5 120.2,291.5 120.9,291.5 121.6,291.5 122.4,291.5 123.1,291.5 123.8,291.4 124.6,291.5 125.3,291.5 126,291.4 126.8,291.4 127.5,291.5 128.2,291.4 129,291.4 129.7,291.4 130.4,291.4 131.2,291.3 131.9,291.3 132.6,291.3 133.4,291.2 134.1,291.2 134.8,291.2 135.5,291.1 136.3,290.9 137,290.9 137.7,290.8 138.5,290.6 139.2,290.5 139.9,290.4 140.7,290.2 141.4,289.9 142.1,289.7 142.9,289.3 143.6,288.7 144.3,287.9 145.1,286.8 145.8,284.8 146.5,282 147.3,278 148,272.5 148.7,265.4 149.4,257 150.2,247.8 150.9,238.4 151.6,230 152.4,223.9 153.1,220.9 153.8,221.2 154.6,224.2 155.3,229.5 156,236.1 156.8,243.6 157.5,251.4 158.2,258.8 159,265.3 159.7,270.8 160.4,275.2 161.2,278.4 161.9,280.6 162.6,282.1 163.4,282.9 164.1,283 164.8,282.7 165.5,282.1 166.3,281.1 167,279.8 167.7,278.3 168.5,276.6 169.2,274.7 169.9,272.6 170.7,270.6 171.4,268.5 172.1,266.4 172.9,264.7 173.6,263.2 174.3,261.9 175.1,261.2 175.8,261.1 176.5,261.5 177.3,262.5 178,264.3 178.7,266.5 179.4,268.9 180.2,271.5 180.9,274.2 181.6,276.6 182.4,278.8 183.1,280.8 183.8,282.5 184.6,283.8 185.3,284.9 186,285.8 186.8,286.4 187.5,286.9 188.2,287.4 189,287.8 189.7,288 190.4,288.3 191.2,288.6 191.9,288.7 192.6,288.8 193.4,289.1 194.1,289.2 194.8,289.3 195.5,289.5 196.3,289.7 197,289.8 197.7,289.9 198.5,290.1 199.2,290.2 199.9,290.2 200.7,290.4 201.4,290.5 202.1,290.6 202.9,290.6 203.6,290.8 204.3,290.8 205.1,290.8 205.8,290.9 206.5,291.1 207.3,291 208,291 208.7,291.2 209.4,291.2 210.2,291.2 210.9,291.2 211.6,291.3 212.4,291.3 213.1,291.3 213.8,291.4 214.6,291.4 215.3,291.3 216,291.4 216.8,291.5 217.5,291.4 218.2,291.4 219,291.4 219.7,291.4 220.4,291.4 221.2,291.4 221.9,291.5 222.6,291.4 223.4,291.4 224.1,291.5 224.8,291.5 225.5,291.4 226.3,291.4 227,291.5 227.7,291.4 228.5,291.4 229.2,291.5 229.9,291.4 230.7,291.4 231.4,291.4 232.1,291.5 232.9,291.4 233.6,291.4 234.3,291.4 235.1,291.4 235.8,291.4 236.5,291.4 237.3,291.5 238,291.4 238.7,291.3 239.4,291.4 240.2,291.4 240.9,291.3 241.6,291.3 242.4,291.4 243.1,291.3 243.8,291.3 244.6,291.4 245.3,291.3 246,291.3 246.8,291.3 247.5,291.3 248.2,291.2 249,291.2 249.7,291.3 250.4,291.2 251.2,291.1 251.9,291.2 252.6,291.2 253.4,291.1 254.1,291 254.8,291.1 255.5,291 256.3,290.9 257,290.9 257.7,290.9 258.5,290.7 259.2,290.6 259.9,290.6 260.7,290.5 261.4,290.4 262.1,290.3 262.9,290.2 263.6,290 264.3,289.8 265.1,289.8 265.8,289.6 266.5,289.3 267.3,289.1 268,288.9 268.7,288.6 269.4,288.2 270.2,287.7 270.9,287 271.6,286 272.4,284.6 273.1,282.6 273.8,279.5 274.6,275.4 275.3,269.9 276,262.5 276.8,253.1 277.5,241.6 278.2,228.1 279,212.8 279.7,196.4 280.4,179.8 281.2,163.9 281.9,149.9 282.6,138.9 283.4,131.9 284.1,129.1 284.8,130.2 285.5,134.5 286.3,141.3 287,149.9 287.7,159.5 288.5,169.3 289.2,178.1 289.9,185.7 290.7,191.4 291.4,194.9 292.1,196.3 292.9,196 293.6,194.4 294.3,192 295.1,189.9 295.8,188.9 296.5,189.5 297.3,191.7 298,194.9 298.7,199 299.4,203.8 300.2,209.4 300.9,215.5 301.6,221.7 302.4,228 303.1,234.2 303.8,240.3 304.6,245.8 305.3,251.1 306,255.9 306.8,260.1 307.5,263.8 308.2,267.2 309,270 309.7,272.4 310.4,274.4 311.2,276.3 311.9,277.7 312.6,279 313.4,280.1 314.1,281.1 314.8,281.9 315.5,282.6 316.3,283.4 317,283.9 317.7,284.5 318.5,285 319.2,285.6 319.9,285.9 320.7,286.4 321.4,286.8 322.1,287.1 322.9,287.4 323.6,287.8 324.3,288.1 325.1,288.3 325.8,288.6 326.5,288.9 327.3,289.1 328,289.2 328.7,289.5 329.4,289.7 330.2,289.7 330.9,289.9 331.6,290.1 332.4,290.2 333.1,290.2 333.8,290.4 334.6,290.5 335.3,290.5 336,290.6 336.8,290.8 337.5,290.7 338.2,290.8 339,290.9 339.7,290.9 340.4,290.9 341.2,291 341.9,291.1 342.6,291 343.4,291 344.1,291.1 344.8,291.1 345.5,291.1 346.3,291.1 347,291.2 347.7,291.2 348.5,291.2 349.2,291.2 349.9,291.3 350.7,291.2 351.4,291.2 352.1,291.3 352.9,291.3 353.6,291.2 354.3,291.3 355.1,291.3 355.8,291.3 356.5,291.3 357.3,291.4 358,291.3 358.7,291.3 359.4,291.4 360.2,291.4 360.9,291.3 361.6,291.3 362.4,291.4 363.1,291.3 363.8,291.3 364.6,291.4 365.3,291.4 366,291.3 366.8,291.4 367.5,291.5 368.2,291.4 369,291.4 369.7,291.4 370.4,291.4 371.2,291.4 371.9,291.4 372.6,291.5 373.4,291.4 374.1,291.4 374.8,291.5 375.5,291.4 376.3,291.4 377,291.4 377.7,291.5 378.5,291.4 379.2,291.4 379.9,291.5 380.7,291.5 381.4,291.4 382.1,291.4 382.9,291.5 383.6,291.4 384.3,291.4 385.1,291.5 385.8,291.5 386.5,291.4 387.3,291.5 388,291.5 388.7,291.4 389.4,291.4 390.2,291.5 390.9,291.5 391.6,291.4 392.4,291.5 393.1,291.5 393.8,291.5 394.6,291.5 395.3,291.5 396,291.5 396.8,291.4 397.5,291.5 398.2,291.6 399,291.5 399.7,291.5 400.4,291.5 401.2,291.5 401.9,291.5 402.6,291.5 403.3,291.6 404.1,291.5 404.8,291.5 405.5,291.5 406.3,291.5 407,291.5 407.7,291.5 408.5,291.6 409.2,291.5 409.9,291.5 410.7,291.6 411.4,291.5 412.1,291.5 412.9,291.5 413.6,291.6 414.3,291.5 415.1,291.5 415.8,291.6 416.5,291.5 417.3,291.5 418,291.5 418.7,291.6 419.4,291.5 420.2,291.5 420.9,291.6 421.6,291.5 422.4,291.5 423.1,291.5 423.8,291.6 424.6,291.5 425.3,291.5 426,291.6 426.8,291.5 427.5,291.5 428.2,291.5 429,291.6 429.7,291.5 430.4,291.5 431.2,291.6 431.9,291.5 432.6,291.5 433.3,291.5 434.1,291.6 434.8,291.5 435.5,291.5 436.3,291.6 437,291.5 437.7,291.5 438.5,291.5 439.2,291.6 439.9,291.5 440.7,291.5 441.4,291.6 442.1,291.5 442.9,291.5 443.6,291.5 444.3,291.6 445.1,291.5 445.8,291.5 446.5,291.6 447.3,291.5 448,291.5 448.7,291.5 449.4,291.6 450.2,291.5 450.9,291.5 451.6,291.6 452.4,291.5 453.1,291.5 453.8,291.5 454.6,291.5 455.3,291.5 456,291.5 456.8,291.6 457.5,291.5 458.2,291.4 459,291.5 459.7,291.5 460.4,291.4 461.2,291.4 461.9,291.5 462.6,291.4 463.3,291.4 464.1,291.5 464.8,291.5 465.5,291.4 466.3,291.4 467,291.5 467.7,291.4 468.5,291.3 469.2,291.3 469.9,291.3 470.7,291.2 471.4,291.2 472.1,291.2 472.9,291.1 473.6,291 474.3,291 475.1,291 475.8,290.8 476.5,290.7 477.3,290.7 478,290.5 478.7,290.3 479.4,290.2 480.2,290 480.9,289.7 481.6,289.4 482.4,289.1 483.1,288.5 483.8,287.9 484.6,287.3 485.3,286.4 486,285.3 486.8,284.2 487.5,283.1 488.2,281.6 489,280.3 489.7,279.2 490.4,278.2 491.2,277.4 491.9,277.1 492.6,277.4 493.3,277.9 494.1,278.7 494.8,279.9 495.5,281.1 496.3,282.3 497,283.6 497.7,284.8 498.5,285.6 499.2,286.4 499.9,287.1 500.7,287.5 501.4,287.8 502.1,287.9 502.9,288 503.6,287.8 504.3,287.5 505.1,287.3 505.8,287 506.5,286.6 507.3,286.4 508,286.2 508.7,286 509.4,285.9 510.2,286 510.9,286.2 511.6,286.3 512.4,286.5 513.1,286.9 513.8,287.1 514.6,287.4 515.3,287.8 516,288.1 516.8,288.3 517.5,288.6 518.2,289 519,289.2 519.7,289.4 520.4,289.7 521.2,289.8 521.9,289.9 522.6,290.1 523.3,290.3 524.1,290.4 524.8,290.4 525.5,290.6 526.3,290.7 527,290.7 527.7,290.8 528.5,290.9 529.2,290.9 529.9,290.9 530.7,291 531.4,291 532.1,291 532.9,291.1 533.6,291.2 534.3,291.1 535.1,291.1 535.8,291.2 536.5,291.2 537.3,291.2 538,291.3 538.7,291.4 539.4,291.3 540.2,291.3 540.9,291.4 541.6,291.4 542.4,291.3 543.1,291.4 543.8,291.5 544.6,291.4 545.3,291.4 546,291.5 546.8,291.5 547.5,291.4 548.2,291.5 549,291.5 549.7,291.5 550.4,291.5 551.2,291.6 551.9,291.5 552.6,291.5 553.3,291.5 554.1,291.6 554.8,291.5 555.5,291.5 556.3,291.6 557,291.5 557.7,291.5 558.5,291.5 559.2,291.6 559.9,291.5 560.7,291.5 561.4,291.6 562.1,291.6 562.9,291.5 563.6,291.6 564.3,291.6 565.1,291.5 565.8,291.5 566.5,291.6 567.3,291.6 568,291.5 568.7,291.6 569.4,291.6 570.2,291.5 570.9,291.5 571.6,291.6 572.4,291.6 573.1,291.5 573.8,291.6 573.8,291.7Z" fill="#4a0606" stroke="#4a0606" stroke-width="1.5" stroke-linejoin="round"/>
<path d="M87.3,303.4 87.3,298.8 88.1,299.5 88.8,301.1 89.5,302.4 90.2,303 91,303.2 91.7,303.3 92.4,303.3 93.2,303.2 93.9,303.3 94.6,303.3 95.4,303.2 96.1,303.3 96.8,303.3 97.6,303.3 98.3,303.2 99,303.3 99.8,303.3 100.5,303.2 101.2,303.2 102,303.3 102.7,303.2 103.4,303.2 104.2,303.3 104.9,303.3 105.6,303.2 106.3,303.2 107.1,303.3 107.8,303.2 108.5,303.2 109.3,303.3 110,303.2 110.7,303.2 111.5,303.2 112.2,303.3 112.9,303.2 113.7,303.2 114.4,303.2 115.1,303.2 115.9,303.1 116.6,303.1 117.3,303.2 118.1,303.1 118.8,303.1 119.5,303.1 120.2,303.1 121,303 121.7,303 122.4,303 123.2,302.9 123.9,302.8 124.6,302.8 125.4,302.7 126.1,302.6 126.8,302.5 127.6,302.4 128.3,302.2 129,302 129.8,301.9 130.5,301.6 131.2,301.3 132,300.9 132.7,300.4 133.4,299.5 134.1,298.2 134.9,296.3 135.6,293.4 136.3,289.1 137.1,283.4 137.8,276.2 138.5,267.4 139.3,257.7 140,248 140.7,239.3 141.5,232.8 142.2,229.7 142.9,230.2 143.7,233.2 144.4,238.6 145.1,245.7 145.9,253.5 146.6,261.5 147.3,269.2 148.1,276.1 148.8,281.7 149.5,286.2 150.2,289.7 151,292 151.7,293.5 152.4,294.3 153.2,294.5 153.9,294.2 154.6,293.5 155.4,292.6 156.1,291.3 156.8,289.7 157.6,288 158.3,286.1 159,283.9 159.8,281.8 160.5,279.7 161.2,277.6 162,275.7 162.7,274.2 163.4,273.1 164.1,272.3 164.9,272.1 165.6,272.6 166.3,273.7 167.1,275.4 167.8,277.7 168.5,280.2 169.3,282.8 170,285.5 170.7,288 171.5,290.3 172.2,292.2 172.9,294 173.7,295.4 174.4,296.5 175.1,297.3 175.9,298.1 176.6,298.6 177.3,299 178.1,299.4 178.8,299.7 179.5,299.9 180.2,300.1 181,300.4 181.7,300.5 182.4,300.7 183.2,300.9 183.9,301.1 184.6,301.2 185.4,301.3 186.1,301.5 186.8,301.6 187.6,301.7 188.3,301.9 189,302 189.8,302.1 190.5,302.2 191.2,302.3 192,302.4 192.7,302.4 193.4,302.5 194.1,302.6 194.9,302.6 195.6,302.7 196.3,302.8 197.1,302.8 197.8,302.8 198.5,302.9 199.3,303 200,302.9 200.7,303 201.5,303.1 202.2,303 202.9,303 203.7,303.1 204.4,303.1 205.1,303.1 205.9,303.1 206.6,303.2 207.3,303.1 208.1,303.1 208.8,303.2 209.5,303.2 210.2,303.1 211,303.1 211.7,303.2 212.4,303.2 213.2,303.1 213.9,303.2 214.6,303.2 215.4,303.1 216.1,303.1 216.8,303.2 217.6,303.2 218.3,303.1 219,303.2 219.8,303.2 220.5,303.1 221.2,303.1 222,303.2 222.7,303.1 223.4,303.1 224.1,303.2 224.9,303.2 225.6,303.1 226.3,303.1 227.1,303.2 227.8,303.1 228.5,303.1 229.3,303.1 230,303.1 230.7,303.1 231.5,303.1 232.2,303.2 232.9,303.1 233.7,303 234.4,303.1 235.1,303.1 235.9,303 236.6,303 237.3,303.1 238.1,303 238.8,302.9 239.5,303 240.2,303 241,302.9 241.7,302.9 242.4,302.9 243.2,302.8 243.9,302.8 244.6,302.8 245.4,302.7 246.1,302.6 246.8,302.6 247.6,302.6 248.3,302.4 249,302.3 249.8,302.3 250.5,302.2 251.2,302 252,301.9 252.7,301.9 253.4,301.6 254.1,301.5 254.9,301.4 255.6,301.2 256.3,300.9 257.1,300.7 257.8,300.4 258.5,300 259.3,299.5 260,298.8 260.7,297.8 261.5,296.3 262.2,294.3 262.9,291.4 263.7,287.2 264.4,281.6 265.1,274.3 265.9,264.9 266.6,253.3 267.3,239.7 268.1,224.5 268.8,208 269.5,191.4 270.2,175.5 271,161.5 271.7,150.5 272.4,143.6 273.2,141.1 273.9,142.4 274.6,146.9 275.4,154.1 276.1,163.1 276.8,173.1 277.6,183.3 278.3,192.8 279,200.7 279.8,206.6 280.5,210.3 281.2,211.6 282,210.9 282.7,208.8 283.4,206 284.1,203.3 284.9,201.8 285.6,202.4 286.3,204.6 287.1,207.7 287.8,211.8 288.5,216.8 289.3,222.3 290,228.3 290.7,234.7 291.5,240.9 292.2,247.1 292.9,253.1 293.7,258.7 294.4,263.8 295.1,268.5 295.9,272.7 296.6,276.4 297.3,279.5 298.1,282.3 298.8,284.7 299.5,286.6 300.2,288.3 301,289.8 301.7,291 302.4,292.1 303.2,293 303.9,293.9 304.6,294.5 305.4,295.2 306.1,295.9 306.8,296.4 307.6,296.8 308.3,297.4 309,297.8 309.8,298.2 310.5,298.6 311.2,299 312,299.3 312.7,299.6 313.4,299.9 314.1,300.2 314.9,300.4 315.6,300.6 316.3,300.9 317.1,301 317.8,301.2 318.5,301.4 319.3,301.6 320,301.7 320.7,301.8 321.5,302 322.2,302 322.9,302.1 323.7,302.2 324.4,302.3 325.1,302.3 325.9,302.4 326.6,302.6 327.3,302.5 328.1,302.6 328.8,302.7 329.5,302.7 330.2,302.7 331,302.7 331.7,302.8 332.4,302.8 333.2,302.8 333.9,302.9 334.6,302.9 335.4,302.9 336.1,302.9 336.8,303 337.6,302.9 338.3,302.9 339,303 339.8,303 340.5,303 341.2,303 342,303.1 342.7,303 343.4,303 344.1,303 344.9,303.1 345.6,303 346.3,303 347.1,303.1 347.8,303.1 348.5,303 349.3,303.1 350,303.1 350.7,303.1 351.5,303.1 352.2,303.2 352.9,303.1 353.7,303.1 354.4,303.1 355.1,303.2 355.9,303.1 356.6,303.1 357.3,303.2 358,303.1 358.8,303.1 359.5,303.2 360.2,303.2 361,303.1 361.7,303.1 362.4,303.2 363.2,303.1 363.9,303.1 364.6,303.2 365.4,303.2 366.1,303.1 366.8,303.2 367.6,303.3 368.3,303.2 369,303.1 369.8,303.2 370.5,303.2 371.2,303.1 372,303.2 372.7,303.3 373.4,303.2 374.1,303.2 374.9,303.2 375.6,303.2 376.3,303.2 377.1,303.2 377.8,303.3 378.5,303.2 379.3,303.2 380,303.2 380.7,303.2 381.5,303.2 382.2,303.2 382.9,303.3 383.7,303.2 384.4,303.2 385.1,303.3 385.9,303.2 386.6,303.2 387.3,303.2 388,303.3 388.8,303.2 389.5,303.2 390.2,303.3 391,303.3 391.7,303.2 392.4,303.2 393.2,303.3 393.9,303.2 394.6,303.2 395.4,303.3 396.1,303.3 396.8,303.2 397.6,303.2 398.3,303.3 399,303.2 399.8,303.2 400.5,303.3 401.2,303.3 402,303.2 402.7,303.2 403.4,303.3 404.1,303.2 404.9,303.2 405.6,303.3 406.3,303.3 407.1,303.2 407.8,303.2 408.5,303.3 409.3,303.2 410,303.2 410.7,303.3 411.5,303.3 412.2,303.2 412.9,303.2 413.7,303.3 414.4,303.2 415.1,303.2 415.9,303.3 416.6,303.3 417.3,303.2 418,303.2 418.8,303.3 419.5,303.2 420.2,303.2 421,303.3 421.7,303.3 422.4,303.2 423.2,303.3 423.9,303.3 424.6,303.2 425.4,303.2 426.1,303.3 426.8,303.3 427.6,303.2 428.3,303.2 429,303.3 429.8,303.2 430.5,303.2 431.2,303.3 432,303.3 432.7,303.2 433.4,303.2 434.1,303.3 434.9,303.2 435.6,303.2 436.3,303.3 437.1,303.2 437.8,303.2 438.5,303.2 439.3,303.3 440,303.2 440.7,303.2 441.5,303.3 442.2,303.2 442.9,303.2 443.7,303.2 444.4,303.3 445.1,303.2 445.9,303.2 446.6,303.3 447.3,303.2 448,303.2 448.8,303.2 449.5,303.2 450.2,303.2 451,303.2 451.7,303.2 452.4,303.2 453.2,303.1 453.9,303.2 454.6,303.2 455.4,303.1 456.1,303.1 456.8,303.2 457.6,303.1 458.3,303 459,303 459.8,303 460.5,302.9 461.2,302.9 462,302.9 462.7,302.8 463.4,302.7 464.1,302.6 464.9,302.6 465.6,302.4 466.3,302.3 467.1,302.2 467.8,302 468.5,301.8 469.3,301.6 470,301.4 470.7,301 471.5,300.6 472.2,300.2 472.9,299.5 473.7,298.7 474.4,297.9 475.1,296.9 475.9,295.6 476.6,294.3 477.3,293 478,291.6 478.8,290.2 479.5,289.2 480.2,288.5 481,288.2 481.7,288.4 482.4,289 483.2,289.9 483.9,291 484.6,292.4 485.4,293.7 486.1,294.9 486.8,296.1 487.6,297.2 488.3,298 489,298.7 489.8,299.2 490.5,299.6 491.2,299.7 492,299.7 492.7,299.7 493.4,299.5 494.1,299.2 494.9,299 495.6,298.8 496.3,298.4 497.1,298.2 497.8,298.2 498.5,298.1 499.3,298.1 500,298.3 500.7,298.5 501.5,298.6 502.2,298.9 502.9,299.3 503.7,299.5 504.4,299.7 505.1,300.1 505.9,300.4 506.6,300.6 507.3,300.9 508,301.2 508.8,301.3 509.5,301.5 510.2,301.7 511,301.9 511.7,301.9 512.4,302.1 513.2,302.3 513.9,302.3 514.6,302.3 515.4,302.5 516.1,302.5 516.8,302.5 517.6,302.6 518.3,302.7 519,302.7 519.8,302.7 520.5,302.8 521.2,302.8 522,302.8 522.7,302.9 523.4,303 524.1,302.9 524.9,302.9 525.6,303 526.3,303 527.1,303 527.8,303 528.5,303.1 529.3,303.1 530,303.1 530.7,303.1 531.5,303.1 532.2,303.1 532.9,303.1 533.7,303.2 534.4,303.2 535.1,303.2 535.9,303.2 536.6,303.2 537.3,303.2 538,303.2 538.8,303.3 539.5,303.2 540.2,303.2 541,303.3 541.7,303.3 542.4,303.2 543.2,303.2 543.9,303.3 544.6,303.2 545.4,303.2 546.1,303.3 546.8,303.3 547.6,303.2 548.3,303.3 549,303.3 549.8,303.3 550.5,303.2 551.2,303.3 552,303.3 552.7,303.2 553.4,303.3 554.1,303.3 554.9,303.3 555.6,303.3 556.3,303.3 557.1,303.3 557.8,303.3 558.5,303.3 559.3,303.4 560,303.3 560.7,303.3 561.5,303.3 562.2,303.3 562.9,303.3 562.9,303.4Z" fill="#12944c" stroke="#12944c" stroke-width="1.5" stroke-linejoin="round"/>
<path d="M76.4,315.1 76.4,311.6 77.1,312.1 77.9,313.2 78.6,314.3 79.3,314.8 80.1,314.9 80.8,315 81.5,315.1 82.3,315 83,315 83.7,315 84.5,315 85.2,315 85.9,315 86.7,315.1 87.4,315 88.1,315 88.8,315 89.6,315 90.3,315 91,315 91.8,315.1 92.5,315 93.2,314.9 94,315 94.7,315 95.4,314.9 96.2,315 96.9,315 97.6,315 98.4,314.9 99.1,315 99.8,315 100.6,314.9 101.3,314.9 102,315 102.8,314.9 103.5,314.9 104.2,314.9 104.9,314.9 105.7,314.9 106.4,314.9 107.1,315 107.9,314.9 108.6,314.8 109.3,314.8 110.1,314.8 110.8,314.7 111.5,314.7 112.3,314.8 113,314.6 113.7,314.5 114.5,314.5 115.2,314.4 115.9,314.3 116.7,314.2 117.4,314.1 118.1,313.9 118.8,313.7 119.6,313.6 120.3,313.3 121,312.9 121.8,312.4 122.5,311.8 123.2,310.5 124,308.8 124.7,306.2 125.4,302.5 126.2,297.3 126.9,290.8 127.6,283.2 128.4,274.5 129.1,265.8 129.8,258.1 130.6,252.4 131.3,249.5 132,249.9 132.8,252.6 133.5,257.1 134.2,263 134.9,269.9 135.7,276.9 136.4,283.5 137.1,289.6 137.9,294.8 138.6,298.9 139.3,302 140.1,304.3 140.8,305.7 141.5,306.5 142.3,306.7 143,306.6 143.7,305.9 144.5,305 145.2,303.9 145.9,302.5 146.7,300.8 147.4,299 148.1,297.2 148.8,295.1 149.6,293.1 150.3,291.2 151,289.5 151.8,288 152.5,286.9 153.2,286.3 154,286 154.7,286.4 155.4,287.6 156.2,289.2 156.9,291.2 157.6,293.6 158.4,296.1 159.1,298.5 159.8,300.8 160.6,303 161.3,304.8 162,306.3 162.8,307.6 163.5,308.8 164.2,309.5 164.9,310.1 165.7,310.7 166.4,311.1 167.1,311.4 167.9,311.7 168.6,312 169.3,312.1 170.1,312.3 170.8,312.5 171.5,312.6 172.3,312.7 173,312.9 173.7,313.1 174.5,313.2 175.2,313.3 175.9,313.5 176.7,313.6 177.4,313.7 178.1,313.8 178.8,314 179.6,314 180.3,314 181,314.2 181.8,314.2 182.5,314.3 183.2,314.4 184,314.5 184.7,314.4 185.4,314.5 186.2,314.6 186.9,314.6 187.6,314.6 188.4,314.7 189.1,314.8 189.8,314.7 190.6,314.7 191.3,314.8 192,314.8 192.8,314.8 193.5,314.8 194.2,314.9 194.9,314.8 195.7,314.8 196.4,314.9 197.1,314.9 197.9,314.8 198.6,314.9 199.3,314.9 200.1,314.9 200.8,314.9 201.5,314.9 202.3,314.9 203,314.8 203.7,314.9 204.5,314.9 205.2,314.9 205.9,314.9 206.7,314.9 207.4,314.9 208.1,314.8 208.8,314.9 209.6,314.9 210.3,314.8 211,314.8 211.8,314.9 212.5,314.9 213.2,314.8 214,314.9 214.7,314.9 215.4,314.8 216.2,314.8 216.9,314.9 217.6,314.8 218.4,314.8 219.1,314.8 219.8,314.9 220.6,314.8 221.3,314.8 222,314.9 222.8,314.8 223.5,314.7 224.2,314.8 224.9,314.8 225.7,314.7 226.4,314.7 227.1,314.8 227.9,314.7 228.6,314.6 229.3,314.7 230.1,314.7 230.8,314.6 231.5,314.5 232.3,314.6 233,314.5 233.7,314.4 234.5,314.4 235.2,314.4 235.9,314.3 236.7,314.2 237.4,314.2 238.1,314.1 238.8,313.9 239.6,313.9 240.3,313.8 241,313.6 241.8,313.5 242.5,313.5 243.2,313.2 244,313 244.7,312.9 245.4,312.7 246.2,312.4 246.9,312.1 247.6,311.8 248.4,311.3 249.1,310.6 249.8,309.7 250.6,308.3 251.3,306.2 252,303.4 252.8,299.6 253.5,294.1 254.2,287 254.9,278 255.7,266.9 256.4,253.9 257.1,239.2 257.9,223.6 258.6,207.4 259.3,192.1 260.1,178.7 260.8,168.1 261.5,161.2 262.3,158.6 263,159.6 263.7,163.5 264.5,169.8 265.2,178.1 265.9,187.1 266.7,196.2 267.4,204.7 268.1,211.9 268.8,217.1 269.6,220.4 270.3,221.9 271,221.6 271.8,220 272.5,218 273.2,216.2 274,215.1 274.7,215.8 275.4,218 276.2,221.1 276.9,225.1 277.6,230.1 278.4,235.7 279.1,241.6 279.8,247.8 280.6,254.1 281.3,260.3 282,266.1 282.8,271.6 283.5,276.8 284.2,281.3 284.9,285.3 285.7,289 286.4,292.1 287.1,294.7 287.9,297 288.6,299 289.3,300.5 290.1,301.9 290.8,303.1 291.5,304.1 292.3,305 293,305.8 293.7,306.6 294.5,307.1 295.2,307.7 295.9,308.3 296.7,308.8 297.4,309.2 298.1,309.6 298.8,310.1 299.6,310.4 300.3,310.7 301,311.1 301.8,311.4 302.5,311.6 303.2,312 304,312.3 304.7,312.4 305.4,312.6 306.2,312.9 306.9,313 307.6,313.1 308.4,313.3 309.1,313.5 309.8,313.6 310.6,313.7 311.3,313.8 312,313.9 312.8,313.9 313.5,314.1 314.2,314.2 314.9,314.2 315.7,314.2 316.4,314.4 317.1,314.4 317.9,314.4 318.6,314.4 319.3,314.5 320.1,314.5 320.8,314.5 321.5,314.6 322.3,314.6 323,314.6 323.7,314.6 324.5,314.7 325.2,314.6 325.9,314.6 326.7,314.7 327.4,314.7 328.1,314.7 328.8,314.7 329.6,314.8 330.3,314.7 331,314.7 331.8,314.8 332.5,314.8 333.2,314.7 334,314.8 334.7,314.8 335.4,314.8 336.2,314.8 336.9,314.9 337.6,314.8 338.4,314.8 339.1,314.8 339.8,314.9 340.6,314.8 341.3,314.8 342,314.9 342.7,314.8 343.5,314.8 344.2,314.9 344.9,314.9 345.7,314.8 346.4,314.8 347.1,314.9 347.9,314.9 348.6,314.8 349.3,314.9 350.1,314.9 350.8,314.9 351.5,314.9 352.3,315 353,314.9 353.7,314.9 354.5,314.9 355.2,314.9 355.9,314.9 356.7,314.9 357.4,315 358.1,314.9 358.8,314.9 359.6,314.9 360.3,315 361,314.9 361.8,314.9 362.5,315 363.2,314.9 364,314.9 364.7,315 365.4,315 366.2,314.9 366.9,314.9 367.6,315 368.4,314.9 369.1,314.9 369.8,315 370.6,315 371.3,314.9 372,314.9 372.7,315 373.5,314.9 374.2,314.9 374.9,315 375.7,315 376.4,314.9 377.1,314.9 377.9,315 378.6,315 379.3,314.9 380.1,315 380.8,315 381.5,314.9 382.3,314.9 383,315 383.7,315 384.5,314.9 385.2,315 385.9,315 386.7,314.9 387.4,315 388.1,315.1 388.8,315 389.6,314.9 390.3,315 391,315 391.8,314.9 392.5,315 393.2,315.1 394,315 394.7,314.9 395.4,315 396.2,315 396.9,314.9 397.6,315 398.4,315.1 399.1,315 399.8,314.9 400.6,315 401.3,315 402,314.9 402.7,315 403.5,315.1 404.2,315 404.9,314.9 405.7,315 406.4,315 407.1,314.9 407.9,315 408.6,315.1 409.3,315 410.1,314.9 410.8,315 411.5,315 412.3,314.9 413,315 413.7,315.1 414.5,315 415.2,314.9 415.9,315 416.7,315 417.4,314.9 418.1,315 418.8,315.1 419.6,315 420.3,314.9 421,315 421.8,315 422.5,314.9 423.2,315 424,315 424.7,315 425.4,314.9 426.2,315 426.9,315 427.6,314.9 428.4,315 429.1,315 429.8,314.9 430.6,314.9 431.3,315 432,315 432.7,314.9 433.5,315 434.2,315 434.9,314.9 435.7,314.9 436.4,315 437.1,315 437.9,314.9 438.6,314.9 439.3,315 440.1,314.9 440.8,314.9 441.5,315 442.3,314.9 443,314.9 443.7,314.9 444.5,314.9 445.2,314.8 445.9,314.8 446.7,314.9 447.4,314.8 448.1,314.7 448.8,314.7 449.6,314.8 450.3,314.6 451,314.6 451.8,314.6 452.5,314.5 453.2,314.4 454,314.3 454.7,314.3 455.4,314.1 456.2,314 456.9,313.9 457.6,313.7 458.4,313.4 459.1,313.2 459.8,313 460.6,312.5 461.3,312.1 462,311.6 462.7,310.8 463.5,310 464.2,309 464.9,308 465.7,306.7 466.4,305.4 467.1,304.2 467.9,303 468.6,302 469.3,301.4 470.1,301.1 470.8,301.2 471.5,301.7 472.3,302.7 473,303.7 473.7,304.9 474.5,306.1 475.2,307.3 475.9,308.3 476.7,309.3 477.4,310.1 478.1,310.7 478.8,311 479.6,311.4 480.3,311.5 481,311.4 481.8,311.3 482.5,311.2 483.2,310.8 484,310.5 484.7,310.2 485.4,309.9 486.2,309.6 486.9,309.5 487.6,309.5 488.4,309.5 489.1,309.6 489.8,309.9 490.6,310.1 491.3,310.3 492,310.6 492.7,311 493.5,311.2 494.2,311.5 494.9,311.9 495.7,312.2 496.4,312.4 497.1,312.6 497.9,313 498.6,313.1 499.3,313.3 500.1,313.5 500.8,313.6 501.5,313.7 502.3,313.8 503,314 503.7,314 504.5,314.1 505.2,314.2 505.9,314.3 506.7,314.3 507.4,314.3 508.1,314.5 508.8,314.4 509.6,314.4 510.3,314.5 511,314.6 511.8,314.5 512.5,314.6 513.2,314.7 514,314.7 514.7,314.7 515.4,314.7 516.2,314.8 516.9,314.7 517.6,314.8 518.4,314.9 519.1,314.8 519.8,314.8 520.6,314.9 521.3,314.9 522,314.8 522.7,314.9 523.5,315 524.2,314.9 524.9,314.9 525.7,315 526.4,315 527.1,314.9 527.9,314.9 528.6,315 529.3,314.9 530.1,314.9 530.8,315 531.5,315 532.3,314.9 533,315 533.7,315.1 534.5,315 535.2,315 535.9,315 536.7,315 537.4,315 538.1,315 538.8,315.1 539.6,315 540.3,315 541,315 541.8,315 542.5,315 543.2,315 544,315.1 544.7,315 545.4,315 546.2,315.1 546.9,315 547.6,315 548.4,315 549.1,315.1 549.8,315 550.6,315 551.3,315.1 552,315 552,315.1Z" fill="#ff2a0c" stroke="#ff2a0c" stroke-width="1.5" stroke-linejoin="round"/>
<path d="M65.5,326.9 65.5,320.2 66.2,321.3 67,323.5 67.7,325.3 68.4,326.3 69.2,326.7 69.9,326.7 70.6,326.7 71.4,326.8 72.1,326.7 72.8,326.7 73.5,326.7 74.3,326.8 75,326.7 75.7,326.7 76.5,326.8 77.2,326.7 77.9,326.7 78.7,326.7 79.4,326.8 80.1,326.7 80.9,326.7 81.6,326.8 82.3,326.7 83.1,326.7 83.8,326.7 84.5,326.7 85.3,326.7 86,326.7 86.7,326.7 87.5,326.7 88.2,326.6 88.9,326.7 89.6,326.7 90.4,326.6 91.1,326.6 91.8,326.7 92.6,326.6 93.3,326.6 94,326.6 94.8,326.7 95.5,326.6 96.2,326.6 97,326.6 97.7,326.5 98.4,326.5 99.2,326.5 99.9,326.5 100.6,326.4 101.4,326.3 102.1,326.4 102.8,326.2 103.5,326.1 104.3,326.1 105,326 105.7,325.8 106.5,325.6 107.2,325.6 107.9,325.3 108.7,325 109.4,324.8 110.1,324.4 110.9,323.8 111.6,322.9 112.3,321.7 113.1,319.7 113.8,316.7 114.5,312.5 115.3,306.7 116,299.3 116.7,290.5 117.5,280.8 118.2,270.9 118.9,262.1 119.6,255.6 120.4,252.5 121.1,252.8 121.8,255.7 122.6,260.8 123.3,267.4 124,274.9 124.8,282.7 125.5,290.3 126.2,297.1 127,303 127.7,307.9 128.4,311.5 129.2,314.2 129.9,316 130.6,317 131.4,317.3 132.1,317.2 132.8,316.7 133.5,315.6 134.3,314.3 135,312.9 135.7,311.1 136.5,309 137.2,306.9 137.9,304.8 138.7,302.5 139.4,300.4 140.1,298.6 140.9,297 141.6,295.7 142.3,295 143.1,294.9 143.8,295.3 144.5,296.4 145.3,298.3 146,300.5 146.7,303.1 147.5,305.8 148.2,308.6 148.9,311.1 149.6,313.4 150.4,315.5 151.1,317.2 151.8,318.6 152.6,319.8 153.3,320.8 154,321.4 154.8,321.9 155.5,322.4 156.2,322.8 157,323 157.7,323.3 158.4,323.6 159.2,323.7 159.9,323.9 160.6,324.1 161.4,324.3 162.1,324.4 162.8,324.6 163.5,324.8 164.3,324.9 165,325 165.7,325.2 166.5,325.3 167.2,325.4 167.9,325.5 168.7,325.7 169.4,325.7 170.1,325.8 170.9,325.9 171.6,326 172.3,326 173.1,326.1 173.8,326.2 174.5,326.2 175.3,326.2 176,326.3 176.7,326.4 177.5,326.3 178.2,326.4 178.9,326.5 179.6,326.4 180.4,326.5 181.1,326.6 181.8,326.5 182.6,326.5 183.3,326.6 184,326.6 184.8,326.6 185.5,326.6 186.2,326.6 187,326.6 187.7,326.6 188.4,326.6 189.2,326.7 189.9,326.6 190.6,326.6 191.4,326.7 192.1,326.6 192.8,326.6 193.5,326.6 194.3,326.7 195,326.6 195.7,326.6 196.5,326.7 197.2,326.6 197.9,326.6 198.7,326.6 199.4,326.7 200.1,326.6 200.9,326.6 201.6,326.7 202.3,326.6 203.1,326.6 203.8,326.6 204.5,326.6 205.3,326.6 206,326.5 206.7,326.6 207.5,326.6 208.2,326.5 208.9,326.6 209.6,326.6 210.4,326.5 211.1,326.5 211.8,326.6 212.6,326.5 213.3,326.5 214,326.5 214.8,326.5 215.5,326.4 216.2,326.4 217,326.5 217.7,326.4 218.4,326.4 219.2,326.4 219.9,326.4 220.6,326.3 221.4,326.3 222.1,326.3 222.8,326.2 223.5,326.1 224.3,326.1 225,326.1 225.7,326 226.5,325.9 227.2,325.9 227.9,325.7 228.7,325.6 229.4,325.6 230.1,325.5 230.9,325.3 231.6,325.1 232.3,325.1 233.1,324.8 233.8,324.6 234.5,324.5 235.3,324.3 236,323.9 236.7,323.5 237.5,323.2 238.2,322.4 238.9,321.4 239.6,320.1 240.4,318.2 241.1,315.3 241.8,311.4 242.6,306.1 243.3,299 244,290.1 244.8,279.1 245.5,266.3 246.2,251.7 247,236.1 247.7,220.3 248.4,205.1 249.2,191.7 249.9,181.3 250.6,174.6 251.4,172 252.1,173.2 252.8,177.4 253.5,183.9 254.3,192.2 255,201.6 255.7,210.9 256.5,219.4 257.2,226.5 257.9,231.8 258.7,234.7 259.4,235.5 260.1,234.6 260.9,232.2 261.6,229.2 262.3,226.5 263.1,225.1 263.8,225.5 264.5,227.6 265.3,230.9 266,235.1 266.7,240.1 267.5,245.8 268.2,252.1 268.9,258.5 269.6,264.9 270.4,271.3 271.1,277.3 271.8,282.9 272.6,288.1 273.3,292.8 274,296.9 274.8,300.5 275.5,303.7 276.2,306.3 277,308.5 277.7,310.5 278.4,312.2 279.2,313.5 279.9,314.7 280.6,315.8 281.4,316.6 282.1,317.4 282.8,318.1 283.5,318.8 284.3,319.3 285,319.8 285.7,320.4 286.5,320.9 287.2,321.2 287.9,321.7 288.7,322.1 289.4,322.4 290.1,322.7 290.9,323.1 291.6,323.4 292.3,323.6 293.1,323.9 293.8,324.2 294.5,324.3 295.3,324.5 296,324.7 296.7,324.9 297.4,325 298.2,325.2 298.9,325.4 299.6,325.4 300.4,325.5 301.1,325.6 301.8,325.7 302.6,325.7 303.3,325.8 304,326 304.8,326 305.5,326 306.2,326.1 307,326.1 307.7,326.1 308.4,326.2 309.2,326.3 309.9,326.2 310.6,326.2 311.4,326.3 312.1,326.3 312.8,326.3 313.5,326.4 314.3,326.4 315,326.4 315.7,326.4 316.5,326.5 317.2,326.4 317.9,326.4 318.7,326.5 319.4,326.5 320.1,326.5 320.9,326.5 321.6,326.5 322.3,326.5 323.1,326.5 323.8,326.5 324.5,326.6 325.3,326.5 326,326.5 326.7,326.6 327.4,326.6 328.2,326.5 328.9,326.6 329.6,326.6 330.4,326.5 331.1,326.5 331.8,326.6 332.6,326.6 333.3,326.5 334,326.6 334.8,326.6 335.5,326.6 336.2,326.6 337,326.7 337.7,326.6 338.4,326.6 339.2,326.6 339.9,326.7 340.6,326.6 341.4,326.6 342.1,326.7 342.8,326.6 343.5,326.6 344.3,326.6 345,326.7 345.7,326.6 346.5,326.6 347.2,326.7 347.9,326.7 348.7,326.6 349.4,326.7 350.1,326.7 350.9,326.6 351.6,326.6 352.3,326.7 353.1,326.7 353.8,326.6 354.5,326.7 355.3,326.7 356,326.6 356.7,326.6 357.4,326.7 358.2,326.7 358.9,326.6 359.6,326.7 360.4,326.7 361.1,326.6 361.8,326.7 362.6,326.7 363.3,326.7 364,326.6 364.8,326.7 365.5,326.7 366.2,326.7 367,326.7 367.7,326.8 368.4,326.7 369.2,326.7 369.9,326.7 370.6,326.7 371.4,326.7 372.1,326.7 372.8,326.8 373.5,326.7 374.3,326.7 375,326.7 375.7,326.7 376.5,326.7 377.2,326.7 377.9,326.8 378.7,326.7 379.4,326.7 380.1,326.7 380.9,326.7 381.6,326.7 382.3,326.7 383.1,326.8 383.8,326.7 384.5,326.7 385.3,326.7 386,326.7 386.7,326.7 387.4,326.7 388.2,326.8 388.9,326.7 389.6,326.7 390.4,326.7 391.1,326.7 391.8,326.7 392.6,326.7 393.3,326.8 394,326.7 394.8,326.7 395.5,326.7 396.2,326.7 397,326.7 397.7,326.7 398.4,326.8 399.2,326.7 399.9,326.7 400.6,326.7 401.4,326.7 402.1,326.7 402.8,326.7 403.5,326.8 404.3,326.7 405,326.7 405.7,326.7 406.5,326.7 407.2,326.7 407.9,326.7 408.7,326.8 409.4,326.7 410.1,326.7 410.9,326.7 411.6,326.7 412.3,326.7 413.1,326.7 413.8,326.8 414.5,326.7 415.3,326.7 416,326.7 416.7,326.7 417.4,326.7 418.2,326.7 418.9,326.8 419.6,326.7 420.4,326.7 421.1,326.7 421.8,326.7 422.6,326.6 423.3,326.7 424,326.8 424.8,326.7 425.5,326.6 426.2,326.7 427,326.7 427.7,326.6 428.4,326.6 429.2,326.7 429.9,326.6 430.6,326.6 431.4,326.7 432.1,326.6 432.8,326.6 433.5,326.6 434.3,326.6 435,326.5 435.7,326.5 436.5,326.5 437.2,326.5 437.9,326.4 438.7,326.4 439.4,326.4 440.1,326.3 440.9,326.2 441.6,326.2 442.3,326.1 443.1,326 443.8,325.9 444.5,325.9 445.3,325.6 446,325.5 446.7,325.4 447.4,325.1 448.2,324.8 448.9,324.5 449.6,324.2 450.4,323.7 451.1,323 451.8,322.4 452.6,321.5 453.3,320.4 454,319.3 454.8,318 455.5,316.6 456.2,315.3 457,314.1 457.7,313 458.4,312.3 459.2,312 459.9,312.3 460.6,312.8 461.4,313.7 462.1,314.9 462.8,316.1 463.5,317.3 464.3,318.6 465,319.8 465.7,320.7 466.5,321.6 467.2,322.3 467.9,322.7 468.7,323 469.4,323.2 470.1,323.3 470.9,323.1 471.6,322.9 472.3,322.8 473.1,322.5 473.8,322.1 474.5,321.9 475.3,321.7 476,321.5 476.7,321.5 477.4,321.6 478.2,321.7 478.9,321.9 479.6,322.1 480.4,322.4 481.1,322.6 481.8,322.9 482.6,323.3 483.3,323.5 484,323.7 484.8,324.1 485.5,324.4 486.2,324.5 487,324.7 487.7,325 488.4,325.1 489.2,325.2 489.9,325.4 490.6,325.6 491.4,325.6 492.1,325.7 492.8,325.9 493.5,325.9 494.3,325.9 495,326 495.7,326.1 496.5,326.1 497.2,326.1 497.9,326.3 498.7,326.2 499.4,326.2 500.1,326.3 500.9,326.4 501.6,326.3 502.3,326.4 503.1,326.5 503.8,326.4 504.5,326.4 505.3,326.5 506,326.6 506.7,326.5 507.4,326.5 508.2,326.6 508.9,326.6 509.6,326.5 510.4,326.6 511.1,326.7 511.8,326.6 512.6,326.6 513.3,326.7 514,326.7 514.8,326.6 515.5,326.7 516.2,326.7 517,326.7 517.7,326.7 518.4,326.8 519.2,326.7 519.9,326.7 520.6,326.7 521.4,326.8 522.1,326.7 522.8,326.7 523.5,326.8 524.3,326.7 525,326.7 525.7,326.8 526.5,326.8 527.2,326.7 527.9,326.7 528.7,326.8 529.4,326.7 530.1,326.7 530.9,326.8 531.6,326.8 532.3,326.7 533.1,326.7 533.8,326.8 534.5,326.7 535.3,326.7 536,326.8 536.7,326.8 537.4,326.7 538.2,326.7 538.9,326.8 539.6,326.7 540.4,326.7 541.1,326.8 541.1,326.9Z" fill="#2412fa" stroke="#2412fa" stroke-width="1.5" stroke-linejoin="round"/>
<path d="M54.6,338.6 54.6,335.9 55.3,336.3 56.1,337.2 56.8,338 57.5,338.3 58.2,338.4 59,338.5 59.7,338.4 60.4,338.4 61.2,338.5 61.9,338.5 62.6,338.4 63.4,338.4 64.1,338.5 64.8,338.4 65.6,338.4 66.3,338.5 67,338.5 67.8,338.4 68.5,338.4 69.2,338.5 70,338.4 70.7,338.4 71.4,338.5 72.2,338.4 72.9,338.4 73.6,338.4 74.3,338.5 75.1,338.4 75.8,338.4 76.5,338.4 77.3,338.4 78,338.4 78.7,338.4 79.5,338.4 80.2,338.4 80.9,338.3 81.7,338.4 82.4,338.4 83.1,338.3 83.9,338.3 84.6,338.4 85.3,338.3 86.1,338.3 86.8,338.3 87.5,338.3 88.2,338.2 89,338.2 89.7,338.2 90.4,338.1 91.2,338 91.9,338.1 92.6,337.9 93.4,337.8 94.1,337.8 94.8,337.7 95.6,337.5 96.3,337.3 97,337.2 97.8,336.9 98.5,336.5 99.2,336.1 100,335.4 100.7,334.2 101.4,332.7 102.2,330.5 102.9,327.4 103.6,323.3 104.3,318.2 105.1,312.2 105.8,305.4 106.5,298.5 107.3,292 108,286.4 108.7,282.6 109.5,281.1 110.2,281.6 110.9,283.2 111.7,286 112.4,289.8 113.1,294.1 113.9,298.8 114.6,303.6 115.3,308.4 116.1,312.7 116.8,316.6 117.5,320.1 118.2,322.8 119,324.9 119.7,326.6 120.4,327.6 121.2,328 121.9,328.1 122.6,327.8 123.4,327 124.1,325.9 124.8,324.7 125.6,323.3 126.3,321.6 127,319.9 127.8,318.3 128.5,316.6 129.2,315 130,313.7 130.7,312.6 131.4,311.8 132.2,311.3 132.9,311.4 133.6,311.8 134.3,312.9 135.1,314.5 135.8,316.4 136.5,318.4 137.3,320.6 138,322.9 138.7,324.9 139.5,326.8 140.2,328.6 140.9,330.1 141.7,331.2 142.4,332.2 143.1,333.1 143.9,333.7 144.6,334.2 145.3,334.7 146.1,335 146.8,335.2 147.5,335.5 148.2,335.8 149,335.9 149.7,336 150.4,336.2 151.2,336.4 151.9,336.4 152.6,336.6 153.4,336.8 154.1,336.8 154.8,336.9 155.6,337.1 156.3,337.2 157,337.2 157.8,337.4 158.5,337.5 159.2,337.5 160,337.6 160.7,337.7 161.4,337.8 162.2,337.8 162.9,337.8 163.6,338 164.3,337.9 165.1,337.9 165.8,338 166.5,338.1 167.3,338 168,338.1 168.7,338.2 169.5,338.1 170.2,338.1 170.9,338.2 171.7,338.2 172.4,338.2 173.1,338.2 173.9,338.3 174.6,338.2 175.3,338.2 176.1,338.3 176.8,338.3 177.5,338.2 178.2,338.2 179,338.3 179.7,338.2 180.4,338.2 181.2,338.3 181.9,338.3 182.6,338.2 183.4,338.2 184.1,338.3 184.8,338.2 185.6,338.2 186.3,338.3 187,338.2 187.8,338.2 188.5,338.2 189.2,338.3 190,338.2 190.7,338.2 191.4,338.2 192.2,338.2 192.9,338.1 193.6,338.2 194.3,338.2 195.1,338.1 195.8,338.1 196.5,338.2 197.3,338.1 198,338.1 198.7,338.1 199.5,338.2 200.2,338.1 200.9,338 201.7,338.1 202.4,338.1 203.1,338 203.9,338 204.6,338.1 205.3,338 206.1,337.9 206.8,338 207.5,337.9 208.2,337.8 209,337.9 209.7,337.9 210.4,337.8 211.2,337.7 211.9,337.8 212.6,337.7 213.4,337.6 214.1,337.6 214.8,337.6 215.6,337.4 216.3,337.3 217,337.3 217.8,337.2 218.5,337 219.2,337 220,336.9 220.7,336.7 221.4,336.6 222.2,336.5 222.9,336.3 223.6,336 224.3,335.9 225.1,335.7 225.8,335.3 226.5,334.9 227.3,334.5 228,333.8 228.7,332.9 229.5,331.6 230.2,329.8 230.9,327.2 231.7,323.6 232.4,319 233.1,312.8 233.9,305 234.6,295.6 235.3,284.6 236.1,272.1 236.8,258.7 237.5,244.9 238.2,231.5 239,219.2 239.7,209 240.4,201.6 241.2,197.2 241.9,195.7 242.6,196.3 243.4,198.5 244.1,202.2 244.8,207 245.6,212.3 246.3,217.7 247,222.9 247.8,227.7 248.5,231.6 249.2,234.6 250,236.9 250.7,238.4 251.4,239.3 252.1,239.9 252.9,240.5 253.6,241.2 254.3,242.5 255.1,244.5 255.8,247.5 256.5,251.3 257.3,256.1 258,261.6 258.7,267.4 259.5,273.4 260.2,279.6 260.9,285.7 261.7,291.4 262.4,296.8 263.1,301.8 263.9,306.2 264.6,310.1 265.3,313.6 266.1,316.6 266.8,319.1 267.5,321.3 268.2,323.2 269,324.7 269.7,325.9 270.4,327.1 271.2,328.1 271.9,328.9 272.6,329.6 273.4,330.4 274.1,330.9 274.8,331.4 275.6,332 276.3,332.5 277,332.8 277.8,333.3 278.5,333.8 279.2,334 280,334.3 280.7,334.7 281.4,335 282.1,335.2 282.9,335.5 283.6,335.8 284.3,336 285.1,336.1 285.8,336.4 286.5,336.6 287.3,336.7 288,336.8 288.7,337.1 289.5,337.1 290.2,337.2 290.9,337.3 291.7,337.4 292.4,337.5 293.1,337.5 293.9,337.7 294.6,337.7 295.3,337.7 296.1,337.8 296.8,337.9 297.5,337.8 298.2,337.9 299,338 299.7,338 300.4,338 301.2,338.1 301.9,338.1 302.6,338 303.4,338.1 304.1,338.2 304.8,338.1 305.6,338.1 306.3,338.2 307,338.2 307.8,338.1 308.5,338.2 309.2,338.3 310,338.2 310.7,338.2 311.4,338.3 312.1,338.3 312.9,338.2 313.6,338.2 314.3,338.3 315.1,338.3 315.8,338.2 316.5,338.3 317.3,338.3 318,338.3 318.7,338.3 319.5,338.4 320.2,338.3 320.9,338.3 321.7,338.4 322.4,338.3 323.1,338.3 323.9,338.3 324.6,338.4 325.3,338.3 326.1,338.3 326.8,338.4 327.5,338.4 328.2,338.3 329,338.3 329.7,338.4 330.4,338.3 331.2,338.3 331.9,338.4 332.6,338.4 333.4,338.3 334.1,338.4 334.8,338.4 335.6,338.4 336.3,338.3 337,338.4 337.8,338.4 338.5,338.3 339.2,338.4 340,338.5 340.7,338.4 341.4,338.4 342.1,338.4 342.9,338.4 343.6,338.4 344.3,338.4 345.1,338.5 345.8,338.4 346.5,338.4 347.3,338.5 348,338.4 348.7,338.4 349.5,338.4 350.2,338.5 350.9,338.4 351.7,338.4 352.4,338.5 353.1,338.4 353.9,338.4 354.6,338.4 355.3,338.5 356.1,338.4 356.8,338.4 357.5,338.5 358.2,338.4 359,338.4 359.7,338.4 360.4,338.5 361.2,338.4 361.9,338.4 362.6,338.5 363.4,338.4 364.1,338.4 364.8,338.4 365.6,338.5 366.3,338.4 367,338.4 367.8,338.5 368.5,338.4 369.2,338.4 370,338.5 370.7,338.5 371.4,338.4 372.1,338.4 372.9,338.5 373.6,338.5 374.3,338.4 375.1,338.5 375.8,338.5 376.5,338.4 377.3,338.4 378,338.5 378.7,338.5 379.5,338.4 380.2,338.5 380.9,338.5 381.7,338.4 382.4,338.4 383.1,338.5 383.9,338.5 384.6,338.4 385.3,338.5 386.1,338.5 386.8,338.4 387.5,338.4 388.2,338.5 389,338.5 389.7,338.4 390.4,338.5 391.2,338.5 391.9,338.4 392.6,338.4 393.4,338.5 394.1,338.5 394.8,338.4 395.6,338.5 396.3,338.5 397,338.4 397.8,338.4 398.5,338.5 399.2,338.4 400,338.4 400.7,338.5 401.4,338.5 402.1,338.4 402.9,338.4 403.6,338.5 404.3,338.4 405.1,338.4 405.8,338.5 406.5,338.5 407.3,338.4 408,338.4 408.7,338.5 409.5,338.4 410.2,338.4 410.9,338.5 411.7,338.5 412.4,338.4 413.1,338.4 413.9,338.5 414.6,338.4 415.3,338.4 416.1,338.4 416.8,338.5 417.5,338.4 418.2,338.4 419,338.5 419.7,338.4 420.4,338.4 421.2,338.4 421.9,338.4 422.6,338.3 423.4,338.3 424.1,338.4 424.8,338.3 425.6,338.3 426.3,338.3 427,338.3 427.8,338.2 428.5,338.2 429.2,338.3 430,338.1 430.7,338 431.4,338.1 432.1,338 432.9,337.9 433.6,337.8 434.3,337.8 435.1,337.6 435.8,337.5 436.5,337.4 437.3,337.2 438,336.9 438.7,336.7 439.5,336.4 440.2,335.9 440.9,335.4 441.7,334.8 442.4,334.1 443.1,333.2 443.9,332.3 444.6,331.5 445.3,330.5 446.1,329.6 446.8,328.9 447.5,328.4 448.2,328.2 449,328.3 449.7,328.8 450.4,329.3 451.2,330.1 451.9,331.1 452.6,331.9 453.4,332.8 454.1,333.6 454.8,334.4 455.6,334.9 456.3,335.3 457,335.7 457.8,335.9 458.5,336 459.2,336 460,336.1 460.7,335.8 461.4,335.7 462.1,335.6 462.9,335.3 463.6,335.1 464.3,335 465.1,335 465.8,334.9 466.5,334.9 467.3,335.1 468,335.2 468.7,335.2 469.5,335.5 470.2,335.7 470.9,335.8 471.7,336 472.4,336.3 473.1,336.5 473.9,336.6 474.6,336.8 475.3,337 476.1,337.1 476.8,337.2 477.5,337.4 478.2,337.5 479,337.5 479.7,337.7 480.4,337.8 481.2,337.8 481.9,337.8 482.6,337.9 483.4,338 484.1,337.9 484.8,338 485.6,338.1 486.3,338.1 487,338.1 487.8,338.2 488.5,338.2 489.2,338.1 490,338.2 490.7,338.3 491.4,338.2 492.1,338.2 492.9,338.3 493.6,338.3 494.3,338.3 495.1,338.3 495.8,338.4 496.5,338.3 497.3,338.3 498,338.4 498.7,338.4 499.5,338.3 500.2,338.4 500.9,338.5 501.7,338.4 502.4,338.4 503.1,338.5 503.9,338.4 504.6,338.4 505.3,338.4 506,338.5 506.8,338.4 507.5,338.4 508.2,338.5 509,338.5 509.7,338.4 510.4,338.5 511.2,338.5 511.9,338.4 512.6,338.4 513.4,338.5 514.1,338.5 514.8,338.4 515.6,338.5 516.3,338.5 517,338.5 517.8,338.5 518.5,338.5 519.2,338.5 520,338.4 520.7,338.5 521.4,338.5 522.1,338.5 522.9,338.5 523.6,338.6 524.3,338.5 525.1,338.5 525.8,338.5 526.5,338.5 527.3,338.5 528,338.5 528.7,338.6 529.5,338.5 530.2,338.5 530.2,338.6Z" fill="#e23cf2" stroke="#e23cf2" stroke-width="1.5" stroke-linejoin="round"/>
<path d="M43.7,350.3 43.7,348.8 44.4,348.9 45.1,349.4 45.9,349.9 46.6,350.1 47.3,350.1 48.1,350.2 48.8,350.3 49.5,350.2 50.3,350.2 51,350.2 51.7,350.2 52.5,350.2 53.2,350.2 53.9,350.3 54.7,350.2 55.4,350.2 56.1,350.2 56.9,350.2 57.6,350.1 58.3,350.2 59,350.3 59.8,350.2 60.5,350.1 61.2,350.2 62,350.2 62.7,350.1 63.4,350.2 64.2,350.2 64.9,350.1 65.6,350.1 66.4,350.2 67.1,350.2 67.8,350.1 68.6,350.1 69.3,350.2 70,350.1 70.8,350.1 71.5,350.2 72.2,350.1 72.9,350.1 73.7,350.1 74.4,350.1 75.1,350 75.9,350 76.6,350.1 77.3,350 78.1,349.9 78.8,349.9 79.5,350 80.3,349.8 81,349.7 81.7,349.7 82.5,349.6 83.2,349.5 83.9,349.4 84.7,349.4 85.4,349.1 86.1,348.9 86.9,348.8 87.6,348.5 88.3,348.1 89,347.6 89.8,346.8 90.5,345.5 91.2,343.7 92,341.1 92.7,337.3 93.4,332.2 94.2,326 94.9,318.8 95.6,310.9 96.4,303.1 97.1,296.4 97.8,291.4 98.6,289 99.3,289.3 100,291 100.8,293.7 101.5,297.6 102.2,302.2 102.9,307.2 103.7,312.3 104.4,317.4 105.1,322.2 105.9,326.5 106.6,330.2 107.3,333.4 108.1,335.8 108.8,337.6 109.5,338.9 110.3,339.6 111,339.7 111.7,339.5 112.5,338.9 113.2,337.9 113.9,336.6 114.7,335.1 115.4,333.6 116.1,331.7 116.9,330 117.6,328.4 118.3,326.8 119,325.4 119.8,324.5 120.5,323.9 121.2,323.5 122,323.8 122.7,324.7 123.4,326 124.2,327.7 124.9,329.9 125.6,332.1 126.4,334.3 127.1,336.4 127.8,338.5 128.6,340.2 129.3,341.7 130,343 130.8,344.1 131.5,344.8 132.2,345.5 132.9,346.1 133.7,346.4 134.4,346.7 135.1,347 135.9,347.3 136.6,347.4 137.3,347.6 138.1,347.9 138.8,347.9 139.5,348.1 140.3,348.2 141,348.4 141.7,348.5 142.5,348.6 143.2,348.8 143.9,348.8 144.7,348.9 145.4,349.1 146.1,349.2 146.9,349.2 147.6,349.3 148.3,349.5 149,349.4 149.8,349.5 150.5,349.6 151.2,349.7 152,349.7 152.7,349.7 153.4,349.8 154.2,349.8 154.9,349.8 155.6,349.9 156.4,349.9 157.1,349.9 157.8,349.9 158.6,350 159.3,350 160,350 160.8,350 161.5,350.1 162.2,350 162.9,350 163.7,350.1 164.4,350.1 165.1,350 165.9,350.1 166.6,350.1 167.3,350 168.1,350.1 168.8,350.2 169.5,350.1 170.3,350 171,350.1 171.7,350.1 172.5,350 173.2,350.1 173.9,350.2 174.7,350.1 175.4,350 176.1,350.1 176.9,350.1 177.6,350 178.3,350.1 179,350.1 179.8,350.1 180.5,350 181.2,350.1 182,350.1 182.7,350 183.4,350 184.2,350.1 184.9,350 185.6,350 186.4,350.1 187.1,350 187.8,350 188.6,350 189.3,350.1 190,350 190.8,349.9 191.5,350 192.2,350 192.9,349.9 193.7,349.9 194.4,350 195.1,349.9 195.9,349.9 196.6,349.9 197.3,349.9 198.1,349.8 198.8,349.8 199.5,349.8 200.3,349.7 201,349.7 201.7,349.7 202.5,349.6 203.2,349.5 203.9,349.5 204.7,349.5 205.4,349.3 206.1,349.2 206.9,349.2 207.6,349.1 208.3,348.9 209,348.9 209.8,348.8 210.5,348.6 211.2,348.4 212,348.3 212.7,348.1 213.4,347.8 214.2,347.6 214.9,347.4 215.6,346.9 216.4,346.3 217.1,345.5 217.8,344.3 218.6,342.6 219.3,340.2 220,336.9 220.8,332.2 221.5,326 222.2,318.3 222.9,308.5 223.7,296.9 224.4,283.8 225.1,269.6 225.9,254.7 226.6,240.3 227.3,227.3 228.1,216.5 228.8,208.9 229.5,205.2 230.3,205.1 231,207.7 231.7,212.7 232.5,219.6 233.2,227.6 233.9,236 234.7,244.2 235.4,251.4 236.1,257.1 236.8,261.2 237.6,263.4 238.3,263.9 239,262.9 239.8,261.2 240.5,259.2 241.2,257.5 242,257.1 242.7,258.5 243.4,260.9 244.2,264.3 244.9,268.7 245.6,273.8 246.4,279.2 247.1,285.1 247.8,291.2 248.6,297.1 249.3,302.8 250,308.2 250.8,313.2 251.5,317.6 252.2,321.6 252.9,325.2 253.7,328.2 254.4,330.8 255.1,333 255.9,334.9 256.6,336.4 257.3,337.7 258.1,338.9 258.8,339.9 259.5,340.6 260.3,341.4 261,342.1 261.7,342.7 262.5,343.2 263.2,343.8 263.9,344.2 264.7,344.6 265.4,345.1 266.1,345.5 266.8,345.8 267.6,346.1 268.3,346.5 269,346.7 269.8,347 270.5,347.3 271.2,347.5 272,347.7 272.7,347.9 273.4,348.2 274.2,348.3 274.9,348.4 275.6,348.6 276.4,348.8 277.1,348.8 277.8,348.9 278.6,349.1 279.3,349.1 280,349.2 280.8,349.3 281.5,349.4 282.2,349.4 282.9,349.5 283.7,349.6 284.4,349.6 285.1,349.6 285.9,349.7 286.6,349.7 287.3,349.7 288.1,349.7 288.8,349.8 289.5,349.8 290.3,349.8 291,349.9 291.7,349.9 292.5,349.8 293.2,349.9 293.9,350 294.7,349.9 295.4,349.9 296.1,350 296.8,350 297.6,349.9 298.3,349.9 299,350 299.8,350 300.5,349.9 301.2,350 302,350 302.7,350 303.4,350 304.2,350.1 304.9,350 305.6,350 306.4,350.1 307.1,350.1 307.8,350 308.6,350 309.3,350.1 310,350 310.8,350 311.5,350.1 312.2,350.1 312.9,350 313.7,350.1 314.4,350.2 315.1,350.1 315.9,350 316.6,350.1 317.3,350.1 318.1,350.1 318.8,350.1 319.5,350.2 320.3,350.1 321,350.1 321.7,350.1 322.5,350.1 323.2,350.1 323.9,350.1 324.7,350.2 325.4,350.1 326.1,350.1 326.8,350.2 327.6,350.2 328.3,350.1 329,350.1 329.8,350.2 330.5,350.1 331.2,350.1 332,350.2 332.7,350.2 333.4,350.1 334.2,350.1 334.9,350.2 335.6,350.1 336.4,350.1 337.1,350.2 337.8,350.2 338.6,350.1 339.3,350.1 340,350.2 340.8,350.1 341.5,350.1 342.2,350.2 342.9,350.2 343.7,350.1 344.4,350.2 345.1,350.2 345.9,350.1 346.6,350.1 347.3,350.2 348.1,350.2 348.8,350.1 349.5,350.2 350.3,350.2 351,350.1 351.7,350.1 352.5,350.2 353.2,350.2 353.9,350.1 354.7,350.2 355.4,350.2 356.1,350.2 356.8,350.1 357.6,350.2 358.3,350.2 359,350.1 359.8,350.2 360.5,350.2 361.2,350.2 362,350.1 362.7,350.2 363.4,350.2 364.2,350.1 364.9,350.2 365.6,350.2 366.4,350.2 367.1,350.1 367.8,350.2 368.6,350.2 369.3,350.1 370,350.2 370.8,350.2 371.5,350.2 372.2,350.2 372.9,350.2 373.7,350.2 374.4,350.1 375.1,350.2 375.9,350.2 376.6,350.2 377.3,350.2 378.1,350.2 378.8,350.2 379.5,350.1 380.3,350.2 381,350.2 381.7,350.2 382.5,350.2 383.2,350.2 383.9,350.2 384.7,350.1 385.4,350.2 386.1,350.2 386.8,350.2 387.6,350.2 388.3,350.2 389,350.2 389.8,350.1 390.5,350.2 391.2,350.2 392,350.1 392.7,350.1 393.4,350.2 394.2,350.2 394.9,350.1 395.6,350.2 396.4,350.2 397.1,350.1 397.8,350.1 398.6,350.2 399.3,350.2 400,350.1 400.8,350.2 401.5,350.2 402.2,350.1 402.9,350.1 403.7,350.2 404.4,350.1 405.1,350.1 405.9,350.1 406.6,350.2 407.3,350.1 408.1,350.1 408.8,350.2 409.5,350.1 410.3,350.1 411,350.1 411.7,350.1 412.5,350 413.2,350 413.9,350.1 414.7,350 415.4,349.9 416.1,350 416.8,349.9 417.6,349.8 418.3,349.8 419,349.8 419.8,349.7 420.5,349.6 421.2,349.6 422,349.5 422.7,349.3 423.4,349.2 424.2,349.2 424.9,348.9 425.6,348.7 426.4,348.5 427.1,348.3 427.8,347.9 428.6,347.4 429.3,347 430,346.3 430.8,345.4 431.5,344.6 432.2,343.6 432.9,342.3 433.7,341.2 434.4,340 435.1,338.9 435.9,337.9 436.6,337.3 437.3,337.1 438.1,337.2 438.8,337.7 439.5,338.6 440.3,339.5 441,340.6 441.7,341.8 442.5,343 443.2,343.9 443.9,344.8 444.7,345.7 445.4,346.2 446.1,346.6 446.8,346.9 447.6,347.1 448.3,347 449,347 449.8,346.9 450.5,346.6 451.2,346.3 452,346.1 452.7,345.9 453.4,345.6 454.2,345.6 454.9,345.6 455.6,345.6 456.4,345.7 457.1,345.9 457.8,346.1 458.6,346.2 459.3,346.5 460,346.9 460.7,347 461.5,347.3 462.2,347.6 462.9,347.8 463.7,348 464.4,348.2 465.1,348.5 465.9,348.6 466.6,348.7 467.3,348.9 468.1,349.1 468.8,349.1 469.5,349.2 470.3,349.4 471,349.4 471.7,349.4 472.5,349.5 473.2,349.6 473.9,349.6 474.7,349.6 475.4,349.8 476.1,349.7 476.8,349.7 477.6,349.8 478.3,349.8 479,349.8 479.8,349.9 480.5,350 481.2,349.9 482,349.9 482.7,350 483.4,350 484.2,350 484.9,350 485.6,350.1 486.4,350 487.1,350 487.8,350.1 488.6,350.1 489.3,350.1 490,350.1 490.7,350.2 491.5,350.1 492.2,350.1 492.9,350.2 493.7,350.2 494.4,350.1 495.1,350.2 495.9,350.2 496.6,350.1 497.3,350.1 498.1,350.2 498.8,350.2 499.5,350.1 500.3,350.2 501,350.3 501.7,350.2 502.5,350.2 503.2,350.2 503.9,350.2 504.7,350.2 505.4,350.2 506.1,350.3 506.8,350.2 507.6,350.2 508.3,350.3 509,350.2 509.8,350.2 510.5,350.2 511.2,350.3 512,350.2 512.7,350.2 513.4,350.3 514.2,350.2 514.9,350.2 515.6,350.2 516.4,350.3 517.1,350.2 517.8,350.2 518.6,350.3 519.3,350.2 519.3,350.3Z" fill="#8a9a9c" stroke="#8a9a9c" stroke-width="1.5" stroke-linejoin="round"/>
<path d="M32.8,362.1 32.8,360.4 33.5,360.7 34.2,361.2 35,361.6 35.7,361.9 36.4,361.9 37.2,361.9 37.9,361.9 38.6,362 39.4,361.9 40.1,361.9 40.8,361.9 41.6,362 42.3,361.9 43,361.9 43.7,362 44.5,361.9 45.2,361.9 45.9,361.9 46.7,361.9 47.4,361.9 48.1,361.9 48.9,362 49.6,361.9 50.3,361.9 51.1,361.9 51.8,361.9 52.5,361.9 53.3,361.9 54,362 54.7,361.9 55.5,361.8 56.2,361.9 56.9,361.9 57.6,361.8 58.4,361.8 59.1,361.9 59.8,361.8 60.6,361.8 61.3,361.9 62,361.9 62.8,361.8 63.5,361.8 64.2,361.9 65,361.8 65.7,361.7 66.4,361.8 67.2,361.8 67.9,361.7 68.6,361.7 69.4,361.7 70.1,361.6 70.8,361.5 71.6,361.5 72.3,361.4 73,361.3 73.7,361.2 74.5,361.2 75.2,360.9 75.9,360.7 76.7,360.4 77.4,360 78.1,359.3 78.9,358.4 79.6,357.2 80.3,355.3 81.1,352.8 81.8,349.6 82.5,345.7 83.3,341.1 84,336.1 84.7,331.2 85.5,326.3 86.2,322.4 86.9,319.8 87.6,318.8 88.4,319 89.1,320 89.8,321.6 90.6,323.6 91.3,326 92,328.9 92.8,331.8 93.5,334.7 94.2,337.7 95,340.6 95.7,343.1 96.4,345.3 97.2,347.4 97.9,348.9 98.6,350.1 99.4,351 100.1,351.5 100.8,351.6 101.6,351.4 102.3,351 103,350.3 103.7,349.4 104.5,348.3 105.2,347.3 105.9,346 106.7,344.7 107.4,343.7 108.1,342.6 108.9,341.7 109.6,341.2 110.3,340.9 111.1,340.7 111.8,341 112.5,341.8 113.3,342.9 114,344.2 114.7,345.8 115.5,347.6 116.2,349.2 116.9,350.8 117.6,352.4 118.4,353.8 119.1,354.9 119.8,356 120.6,356.9 121.3,357.5 122,358 122.8,358.5 123.5,358.8 124.2,359.1 125,359.3 125.7,359.6 126.4,359.7 127.2,359.8 127.9,360 128.6,360.1 129.4,360.2 130.1,360.3 130.8,360.5 131.6,360.5 132.3,360.6 133,360.8 133.7,360.8 134.5,360.9 135.2,361 135.9,361.1 136.7,361.1 137.4,361.1 138.1,361.3 138.9,361.3 139.6,361.3 140.3,361.4 141.1,361.5 141.8,361.4 142.5,361.5 143.3,361.6 144,361.6 144.7,361.5 145.5,361.6 146.2,361.7 146.9,361.6 147.6,361.6 148.4,361.7 149.1,361.7 149.8,361.7 150.6,361.7 151.3,361.8 152,361.7 152.8,361.7 153.5,361.8 154.2,361.7 155,361.7 155.7,361.8 156.4,361.8 157.2,361.7 157.9,361.7 158.6,361.8 159.4,361.7 160.1,361.7 160.8,361.8 161.6,361.8 162.3,361.7 163,361.7 163.7,361.8 164.5,361.7 165.2,361.7 165.9,361.7 166.7,361.8 167.4,361.7 168.1,361.7 168.9,361.8 169.6,361.7 170.3,361.7 171.1,361.7 171.8,361.7 172.5,361.6 173.3,361.6 174,361.7 174.7,361.6 175.5,361.6 176.2,361.7 176.9,361.7 177.6,361.6 178.4,361.6 179.1,361.7 179.8,361.6 180.6,361.5 181.3,361.6 182,361.6 182.8,361.5 183.5,361.5 184.2,361.6 185,361.5 185.7,361.4 186.4,361.5 187.2,361.5 187.9,361.4 188.6,361.4 189.4,361.4 190.1,361.3 190.8,361.2 191.5,361.3 192.3,361.2 193,361.1 193.7,361.1 194.5,361.1 195.2,361 195.9,360.9 196.7,360.9 197.4,360.8 198.1,360.6 198.9,360.5 199.6,360.5 200.3,360.3 201.1,360.2 201.8,360.1 202.5,359.9 203.3,359.7 204,359.5 204.7,359.3 205.5,358.9 206.2,358.4 206.9,357.8 207.6,356.9 208.4,355.5 209.1,353.8 209.8,351.4 210.6,347.9 211.3,343.6 212,338.1 212.8,331.4 213.5,323.3 214.2,314.2 215,304.4 215.7,293.9 216.4,283.6 217.2,274 217.9,265.6 218.6,259.1 219.4,254.8 220.1,253 220.8,252.5 221.5,253.5 222.3,255.7 223,258.7 223.7,262.2 224.5,266.2 225.2,270.2 225.9,273.8 226.7,277.1 227.4,280 228.1,282.3 228.9,284 229.6,285.3 230.3,286.3 231.1,286.9 231.8,287.7 232.5,288.7 233.3,289.9 234,291.6 234.7,294.2 235.5,297.6 236.2,301.5 236.9,305.8 237.6,310.5 238.4,315.2 239.1,319.9 239.8,324.5 240.6,328.8 241.3,332.7 242,336.2 242.8,339.5 243.5,342.2 244.2,344.6 245,346.7 245.7,348.5 246.4,349.9 247.2,351.1 247.9,352.2 248.6,353.1 249.4,353.8 250.1,354.5 250.8,355.1 251.5,355.6 252.3,356 253,356.5 253.7,356.9 254.5,357.2 255.2,357.6 255.9,357.9 256.7,358.2 257.4,358.4 258.1,358.8 258.9,359 259.6,359.2 260.3,359.4 261.1,359.7 261.8,359.8 262.5,360 263.3,360.2 264,360.3 264.7,360.4 265.5,360.6 266.2,360.7 266.9,360.8 267.6,360.8 268.4,361 269.1,361 269.8,361.1 270.6,361.2 271.3,361.3 272,361.3 272.8,361.3 273.5,361.4 274.2,361.4 275,361.4 275.7,361.5 276.4,361.6 277.2,361.5 277.9,361.5 278.6,361.7 279.4,361.6 280.1,361.6 280.8,361.7 281.5,361.7 282.3,361.6 283,361.7 283.7,361.8 284.5,361.7 285.2,361.7 285.9,361.7 286.7,361.8 287.4,361.7 288.1,361.7 288.9,361.8 289.6,361.8 290.3,361.7 291.1,361.8 291.8,361.8 292.5,361.8 293.3,361.8 294,361.9 294.7,361.8 295.5,361.8 296.2,361.8 296.9,361.9 297.6,361.8 298.4,361.8 299.1,361.9 299.8,361.8 300.6,361.8 301.3,361.9 302,361.9 302.8,361.8 303.5,361.8 304.2,361.9 305,361.8 305.7,361.8 306.4,361.9 307.2,361.9 307.9,361.8 308.6,361.8 309.4,361.9 310.1,361.9 310.8,361.8 311.5,361.9 312.3,361.9 313,361.8 313.7,361.9 314.5,361.9 315.2,361.9 315.9,361.8 316.7,361.9 317.4,361.9 318.1,361.9 318.9,361.9 319.6,362 320.3,361.9 321.1,361.9 321.8,361.9 322.5,361.9 323.3,361.9 324,361.9 324.7,362 325.5,361.9 326.2,361.9 326.9,361.9 327.6,361.9 328.4,361.9 329.1,361.9 329.8,362 330.6,361.9 331.3,361.9 332,361.9 332.8,361.9 333.5,361.9 334.2,361.9 335,362 335.7,361.9 336.4,361.9 337.2,361.9 337.9,361.9 338.6,361.9 339.4,361.9 340.1,362 340.8,361.9 341.5,361.9 342.3,361.9 343,361.9 343.7,361.9 344.5,361.9 345.2,362 345.9,361.9 346.7,361.9 347.4,362 348.1,362 348.9,361.9 349.6,361.9 350.3,362 351.1,361.9 351.8,361.9 352.5,362 353.3,362 354,361.9 354.7,361.9 355.5,362 356.2,361.9 356.9,361.9 357.6,362 358.4,362 359.1,361.9 359.8,361.9 360.6,362 361.3,361.9 362,361.9 362.8,362 363.5,362 364.2,361.9 365,361.9 365.7,362 366.4,361.9 367.2,361.9 367.9,362 368.6,362 369.4,361.9 370.1,361.9 370.8,362 371.5,361.9 372.3,361.9 373,362 373.7,361.9 374.5,361.9 375.2,361.9 375.9,362 376.7,361.9 377.4,361.9 378.1,362 378.9,361.9 379.6,361.9 380.3,361.9 381.1,362 381.8,361.9 382.5,361.9 383.3,362 384,361.9 384.7,361.9 385.5,361.9 386.2,362 386.9,361.9 387.6,361.9 388.4,362 389.1,361.9 389.8,361.9 390.6,361.9 391.3,362 392,361.9 392.8,361.9 393.5,362 394.2,361.9 395,361.9 395.7,361.9 396.4,362 397.2,361.9 397.9,361.9 398.6,361.9 399.4,361.9 400.1,361.8 400.8,361.9 401.5,361.9 402.3,361.8 403,361.8 403.7,361.9 404.5,361.8 405.2,361.7 405.9,361.8 406.7,361.8 407.4,361.7 408.1,361.6 408.9,361.7 409.6,361.6 410.3,361.5 411.1,361.5 411.8,361.5 412.5,361.3 413.3,361.2 414,361.2 414.7,361 415.5,360.9 416.2,360.7 416.9,360.6 417.6,360.2 418.4,359.9 419.1,359.5 419.8,359 420.6,358.4 421.3,357.8 422,357.1 422.8,356.3 423.5,355.5 424.2,354.9 425,354.3 425.7,353.8 426.4,353.7 427.2,353.9 427.9,354.1 428.6,354.6 429.4,355.3 430.1,356 430.8,356.7 431.5,357.4 432.3,358.1 433,358.6 433.7,359 434.5,359.5 435.2,359.7 435.9,359.8 436.7,360 437.4,360 438.1,359.9 438.9,359.8 439.6,359.8 440.3,359.5 441.1,359.3 441.8,359.2 442.5,359.1 443.3,359 444,359 444.7,359.1 445.4,359.1 446.2,359.2 446.9,359.4 447.6,359.5 448.4,359.6 449.1,359.8 449.8,360 450.6,360.1 451.3,360.2 452,360.5 452.8,360.6 453.5,360.7 454.2,360.8 455,361 455.7,361 456.4,361.1 457.2,361.2 457.9,361.3 458.6,361.3 459.4,361.4 460.1,361.5 460.8,361.5 461.5,361.5 462.3,361.6 463,361.6 463.7,361.6 464.5,361.6 465.2,361.7 465.9,361.7 466.7,361.7 467.4,361.7 468.1,361.8 468.9,361.7 469.6,361.7 470.3,361.8 471.1,361.8 471.8,361.8 472.5,361.8 473.3,361.9 474,361.8 474.7,361.8 475.4,361.9 476.2,361.8 476.9,361.8 477.6,361.9 478.4,361.9 479.1,361.9 479.8,361.9 480.6,362 481.3,361.9 482,361.9 482.8,361.9 483.5,361.9 484.2,361.9 485,361.9 485.7,362 486.4,361.9 487.2,361.9 487.9,362 488.6,362 489.4,361.9 490.1,361.9 490.8,362 491.5,361.9 492.3,361.9 493,362 493.7,362 494.5,361.9 495.2,361.9 495.9,362 496.7,361.9 497.4,361.9 498.1,362 498.9,362 499.6,361.9 500.3,362 501.1,362 501.8,361.9 502.5,361.9 503.3,362 504,362 504.7,361.9 505.4,362 506.2,362 506.9,361.9 507.6,361.9 508.4,362 508.4,362.1Z" fill="#ccff10" stroke="#ccff10" stroke-width="1.5" stroke-linejoin="round"/>
<path d="M21.9,373.8 21.9,372.2 22.6,372.4 23.3,373 24.1,373.4 24.8,373.5 25.5,373.7 26.3,373.7 27,373.7 27.7,373.7 28.4,373.7 29.2,373.7 29.9,373.6 30.6,373.7 31.4,373.7 32.1,373.6 32.8,373.6 33.6,373.7 34.3,373.7 35,373.6 35.8,373.7 36.5,373.7 37.2,373.6 38,373.6 38.7,373.7 39.4,373.7 40.2,373.6 40.9,373.7 41.6,373.7 42.3,373.6 43.1,373.6 43.8,373.7 44.5,373.7 45.3,373.6 46,373.7 46.7,373.7 47.5,373.6 48.2,373.6 48.9,373.7 49.7,373.6 50.4,373.6 51.1,373.6 51.9,373.7 52.6,373.6 53.3,373.6 54.1,373.7 54.8,373.6 55.5,373.5 56.3,373.6 57,373.6 57.7,373.5 58.4,373.5 59.2,373.5 59.9,373.4 60.6,373.4 61.4,373.4 62.1,373.4 62.8,373.2 63.6,373.2 64.3,373.2 65,372.9 65.8,372.7 66.5,372.5 67.2,372.2 68,371.5 68.7,370.7 69.4,369.7 70.2,368.2 70.9,366.3 71.6,364.1 72.3,361.5 73.1,358.6 73.8,355.8 74.5,353.2 75.3,350.9 76,349.5 76.7,349 77.5,349.1 78.2,349.6 78.9,350.4 79.7,351.5 80.4,352.8 81.1,354.2 81.9,355.8 82.6,357.4 83.3,359 84.1,360.5 84.8,362 85.5,363.2 86.3,364.3 87,365.3 87.7,366.1 88.4,366.5 89.2,366.8 89.9,367.1 90.6,366.9 91.4,366.6 92.1,366.3 92.8,365.8 93.6,365.1 94.3,364.4 95,363.8 95.8,363 96.5,362.3 97.2,361.7 98,361.2 98.7,360.7 99.4,360.5 100.2,360.5 100.9,360.6 101.6,361 102.3,361.7 103.1,362.6 103.8,363.5 104.5,364.6 105.3,365.7 106,366.6 106.7,367.6 107.5,368.5 108.2,369.2 108.9,369.8 109.7,370.4 110.4,370.9 111.1,371.2 111.9,371.5 112.6,371.7 113.3,371.9 114.1,372 114.8,372.2 115.5,372.3 116.3,372.3 117,372.4 117.7,372.6 118.4,372.6 119.2,372.6 119.9,372.7 120.6,372.9 121.4,372.8 122.1,372.9 122.8,373 123.6,373 124.3,373 125,373.1 125.8,373.2 126.5,373.2 127.2,373.2 128,373.3 128.7,373.3 129.4,373.3 130.2,373.4 130.9,373.4 131.6,373.4 132.3,373.4 133.1,373.5 133.8,373.5 134.5,373.4 135.3,373.5 136,373.6 136.7,373.5 137.5,373.5 138.2,373.6 138.9,373.5 139.7,373.5 140.4,373.5 141.1,373.6 141.9,373.5 142.6,373.5 143.3,373.6 144.1,373.6 144.8,373.5 145.5,373.6 146.2,373.6 147,373.5 147.7,373.5 148.4,373.6 149.2,373.6 149.9,373.5 150.6,373.6 151.4,373.6 152.1,373.5 152.8,373.5 153.6,373.6 154.3,373.6 155,373.5 155.8,373.5 156.5,373.6 157.2,373.5 158,373.5 158.7,373.6 159.4,373.5 160.2,373.5 160.9,373.5 161.6,373.6 162.3,373.5 163.1,373.5 163.8,373.6 164.5,373.5 165.3,373.5 166,373.5 166.7,373.5 167.5,373.4 168.2,373.4 168.9,373.5 169.7,373.5 170.4,373.4 171.1,373.4 171.9,373.5 172.6,373.4 173.3,373.4 174.1,373.5 174.8,373.4 175.5,373.3 176.2,373.4 177,373.4 177.7,373.3 178.4,373.3 179.2,373.4 179.9,373.3 180.6,373.2 181.4,373.2 182.1,373.2 182.8,373.1 183.6,373.1 184.3,373.1 185,373 185.8,373 186.5,373 187.2,372.9 188,372.8 188.7,372.7 189.4,372.8 190.2,372.6 190.9,372.5 191.6,372.4 192.3,372.4 193.1,372.1 193.8,372 194.5,371.9 195.3,371.5 196,371.1 196.7,370.6 197.5,369.9 198.2,368.7 198.9,367.3 199.7,365.4 200.4,362.7 201.1,359.4 201.9,355.4 202.6,350.6 203.3,345 204.1,338.9 204.8,332.6 205.5,326.2 206.2,320.1 207,314.8 207.7,310.6 208.4,307.7 209.2,306.2 209.9,305.9 210.6,306.2 211.4,307.3 212.1,309.1 212.8,311.2 213.6,313.5 214.3,316 215,318.4 215.8,320.5 216.5,322.4 217.2,324 218,325.3 218.7,326.2 219.4,326.9 220.2,327.6 220.9,328.1 221.6,328.7 222.3,329.4 223.1,330.4 223.8,331.8 224.5,333.8 225.3,336.2 226,338.8 226.7,341.6 227.5,344.5 228.2,347.4 228.9,350.2 229.7,352.9 230.4,355.4 231.1,357.6 231.9,359.6 232.6,361.4 233.3,362.9 234.1,364.2 234.8,365.3 235.5,366.3 236.2,367 237,367.6 237.7,368.2 238.4,368.7 239.2,369 239.9,369.4 240.6,369.8 241.4,370 242.1,370.3 242.8,370.6 243.6,370.8 244.3,370.9 245,371.2 245.8,371.4 246.5,371.5 247.2,371.7 248,371.9 248.7,372 249.4,372.1 250.2,372.2 250.9,372.4 251.6,372.5 252.3,372.5 253.1,372.7 253.8,372.8 254.5,372.8 255.3,372.9 256,373 256.7,373 257.5,373 258.2,373.2 258.9,373.2 259.7,373.2 260.4,373.3 261.1,373.4 261.9,373.3 262.6,373.3 263.3,373.4 264.1,373.4 264.8,373.4 265.5,373.4 266.2,373.5 267,373.4 267.7,373.4 268.4,373.5 269.2,373.5 269.9,373.5 270.6,373.5 271.4,373.6 272.1,373.5 272.8,373.5 273.6,373.6 274.3,373.6 275,373.5 275.8,373.6 276.5,373.6 277.2,373.6 278,373.6 278.7,373.6 279.4,373.6 280.2,373.6 280.9,373.6 281.6,373.7 282.3,373.6 283.1,373.6 283.8,373.7 284.5,373.6 285.3,373.6 286,373.6 286.7,373.7 287.5,373.6 288.2,373.6 288.9,373.7 289.7,373.6 290.4,373.6 291.1,373.6 291.9,373.7 292.6,373.6 293.3,373.6 294.1,373.7 294.8,373.6 295.5,373.6 296.2,373.6 297,373.7 297.7,373.6 298.4,373.6 299.2,373.7 299.9,373.6 300.6,373.6 301.4,373.7 302.1,373.7 302.8,373.6 303.6,373.6 304.3,373.7 305,373.7 305.8,373.6 306.5,373.7 307.2,373.7 308,373.6 308.7,373.6 309.4,373.7 310.2,373.7 310.9,373.6 311.6,373.7 312.3,373.7 313.1,373.6 313.8,373.6 314.5,373.7 315.3,373.7 316,373.6 316.7,373.7 317.5,373.7 318.2,373.6 318.9,373.6 319.7,373.7 320.4,373.7 321.1,373.6 321.9,373.7 322.6,373.7 323.3,373.6 324.1,373.7 324.8,373.7 325.5,373.7 326.2,373.6 327,373.7 327.7,373.7 328.4,373.6 329.2,373.7 329.9,373.7 330.6,373.7 331.4,373.6 332.1,373.7 332.8,373.7 333.6,373.6 334.3,373.7 335,373.8 335.8,373.7 336.5,373.6 337.2,373.7 338,373.7 338.7,373.6 339.4,373.7 340.2,373.8 340.9,373.7 341.6,373.6 342.3,373.7 343.1,373.7 343.8,373.6 344.5,373.7 345.3,373.8 346,373.7 346.7,373.6 347.5,373.7 348.2,373.7 348.9,373.6 349.7,373.7 350.4,373.8 351.1,373.7 351.9,373.6 352.6,373.7 353.3,373.7 354.1,373.6 354.8,373.7 355.5,373.8 356.2,373.7 357,373.6 357.7,373.7 358.4,373.7 359.2,373.6 359.9,373.7 360.6,373.8 361.4,373.7 362.1,373.6 362.8,373.7 363.6,373.7 364.3,373.6 365,373.7 365.8,373.8 366.5,373.7 367.2,373.6 368,373.7 368.7,373.7 369.4,373.6 370.2,373.7 370.9,373.8 371.6,373.7 372.3,373.6 373.1,373.7 373.8,373.7 374.5,373.6 375.3,373.7 376,373.8 376.7,373.7 377.5,373.6 378.2,373.7 378.9,373.7 379.7,373.6 380.4,373.7 381.1,373.7 381.9,373.7 382.6,373.6 383.3,373.7 384.1,373.7 384.8,373.6 385.5,373.7 386.2,373.7 387,373.6 387.7,373.6 388.4,373.7 389.2,373.7 389.9,373.6 390.6,373.6 391.4,373.7 392.1,373.6 392.8,373.6 393.6,373.7 394.3,373.6 395,373.6 395.8,373.6 396.5,373.6 397.2,373.5 398,373.5 398.7,373.5 399.4,373.5 400.1,373.4 400.9,373.4 401.6,373.4 402.3,373.3 403.1,373.2 403.8,373.2 404.5,373.1 405.3,373 406,372.9 406.7,372.8 407.5,372.5 408.2,372.3 408.9,372 409.7,371.7 410.4,371.3 411.1,370.9 411.9,370.5 412.6,370 413.3,369.6 414.1,369.3 414.8,369.1 415.5,368.9 416.2,369 417,369.3 417.7,369.5 418.4,369.8 419.2,370.3 419.9,370.7 420.6,371.1 421.4,371.5 422.1,371.9 422.8,372.1 423.6,372.3 424.3,372.5 425,372.6 425.8,372.7 426.5,372.7 427.2,372.8 428,372.7 428.7,372.7 429.4,372.7 430.1,372.6 430.9,372.5 431.6,372.5 432.3,372.5 433.1,372.4 433.8,372.5 434.5,372.6 435.3,372.6 436,372.6 436.7,372.7 437.5,372.8 438.2,372.8 438.9,372.8 439.7,373 440.4,373 441.1,373 441.9,373.1 442.6,373.2 443.3,373.2 444.1,373.3 444.8,373.4 445.5,373.4 446.2,373.4 447,373.4 447.7,373.5 448.4,373.4 449.2,373.5 449.9,373.6 450.6,373.5 451.4,373.5 452.1,373.6 452.8,373.6 453.6,373.5 454.3,373.6 455,373.6 455.8,373.6 456.5,373.6 457.2,373.6 458,373.7 458.7,373.6 459.4,373.6 460.1,373.7 460.9,373.6 461.6,373.6 462.3,373.7 463.1,373.7 463.8,373.6 464.5,373.6 465.3,373.7 466,373.7 466.7,373.6 467.5,373.7 468.2,373.7 468.9,373.6 469.7,373.7 470.4,373.7 471.1,373.7 471.9,373.6 472.6,373.7 473.3,373.7 474.1,373.7 474.8,373.7 475.5,373.8 476.2,373.7 477,373.7 477.7,373.7 478.4,373.7 479.2,373.7 479.9,373.7 480.6,373.8 481.4,373.7 482.1,373.7 482.8,373.7 483.6,373.7 484.3,373.7 485,373.7 485.8,373.8 486.5,373.7 487.2,373.7 488,373.7 488.7,373.7 489.4,373.7 490.1,373.7 490.9,373.8 491.6,373.7 492.3,373.7 493.1,373.7 493.8,373.7 494.5,373.7 495.3,373.7 496,373.8 496.7,373.7 497.5,373.7 497.5,373.8Z" fill="#0aac0a" stroke="#0aac0a" stroke-width="1.5" stroke-linejoin="round"/>
<line x1="10" y1="183.5" x2="10" y2="381" stroke="#000" stroke-width="2" stroke-linecap="butt"/>
<path d="M10,184.4L3.7,184.4M10,192.2L6.2,192.2M10,200L6.2,200M10,207.9L6.2,207.9M10,215.7L6.2,215.7M10,223.5L3.7,223.5M10,231.3L6.2,231.3M10,239.1L6.2,239.1M10,247L6.2,247M10,254.8L6.2,254.8M10,262.6L3.7,262.6M10,270.4L6.2,270.4M10,278.2L6.2,278.2M10,286.1L6.2,286.1M10,293.9L6.2,293.9M10,301.7L3.7,301.7M10,309.5L6.2,309.5M10,317.3L6.2,317.3M10,325.2L6.2,325.2M10,333L6.2,333M10,340.8L3.7,340.8M10,348.6L6.2,348.6M10,356.4L6.2,356.4M10,364.3L6.2,364.3M10,372.1L6.2,372.1" stroke="#000" stroke-width="1.5" fill="none"/>
<line x1="9" y1="380" x2="521.9" y2="380" stroke="#000" stroke-width="2.2" stroke-linecap="butt"/>
<path d="M16.3,380L16.3,386.6M30.9,380L30.9,384.2M45.6,380L45.6,384.2M60.2,380L60.2,384.2M74.8,380L74.8,384.2M89.5,380L89.5,386.6M104.1,380L104.1,384.2M118.7,380L118.7,384.2M133.4,380L133.4,384.2M148,380L148,384.2M162.6,380L162.6,386.6M177.3,380L177.3,384.2M191.9,380L191.9,384.2M206.5,380L206.5,384.2M221.2,380L221.2,384.2M235.8,380L235.8,386.6M250.4,380L250.4,384.2M265.1,380L265.1,384.2M279.7,380L279.7,384.2M294.3,380L294.3,384.2M309,380L309,386.6M323.6,380L323.6,384.2M338.2,380L338.2,384.2M352.9,380L352.9,384.2M367.5,380L367.5,384.2M382.2,380L382.2,386.6M396.8,380L396.8,384.2M411.4,380L411.4,384.2M426.1,380L426.1,384.2M440.7,380L440.7,384.2M455.3,380L455.3,386.6M470,380L470,384.2M484.6,380L484.6,384.2M499.2,380L499.2,384.2M513.9,380L513.9,384.2" stroke="#000" stroke-width="1.5" fill="none"/>
<text x="16.3" y="398.3" font-size="12.2" text-anchor="middle" stroke="#000" stroke-width="0.3">800</text>
<text x="89.5" y="398.3" font-size="12.2" text-anchor="middle" stroke="#000" stroke-width="0.3">900</text>
<text x="162.6" y="398.3" font-size="12.2" text-anchor="middle" stroke="#000" stroke-width="0.3">1000</text>
<text x="235.8" y="398.3" font-size="12.2" text-anchor="middle" stroke="#000" stroke-width="0.3">1100</text>
<text x="309" y="398.3" font-size="12.2" text-anchor="middle" stroke="#000" stroke-width="0.3">1200</text>
<text x="382.2" y="398.3" font-size="12.2" text-anchor="middle" stroke="#000" stroke-width="0.3">1300</text>
<text x="455.3" y="398.3" font-size="12.2" text-anchor="middle" stroke="#000" stroke-width="0.3">1400</text>
<text x="262.7" y="422.4" font-size="14.3" text-anchor="middle" stroke="#000" stroke-width="0.4">Wavelength (nm)</text>
<text x="187" y="40.1" font-size="21" stroke="#000" stroke-width="0.4">(a)</text>
<text transform="translate(707.8,95.5) rotate(-90)" font-size="17" text-anchor="middle" stroke="#000" stroke-width="0.25">Intensity (a.u)</text>
<rect x="627.6" y="17.7" width="16.6" height="7.4" fill="#ff0404" stroke="#1a1a1a" stroke-width="0.9"/>
<text x="647.3" y="24.3" font-size="10" stroke="#000" stroke-width="0.35">10K</text>
<rect x="627.6" y="29.6" width="16.6" height="7.4" fill="#00ff00" stroke="#1a1a1a" stroke-width="0.9"/>
<text x="647.3" y="36.2" font-size="10" stroke="#000" stroke-width="0.35">20K</text>
<rect x="627.6" y="41.6" width="16.6" height="7.4" fill="#0814ff" stroke="#1a1a1a" stroke-width="0.9"/>
<text x="647.3" y="48.2" font-size="10" stroke="#000" stroke-width="0.35">30K</text>
<rect x="627.6" y="53.5" width="16.6" height="7.4" fill="#10ffaa" stroke="#1a1a1a" stroke-width="0.9"/>
<text x="647.3" y="60.1" font-size="10" stroke="#000" stroke-width="0.35">40K</text>
<rect x="627.6" y="65.5" width="16.6" height="7.4" fill="#ae26fa" stroke="#1a1a1a" stroke-width="0.9"/>
<text x="647.3" y="72.1" font-size="10" stroke="#000" stroke-width="0.35">50K</text>
<rect x="627.6" y="77.4" width="16.6" height="7.4" fill="#385010" stroke="#1a1a1a" stroke-width="0.9"/>
<text x="647.3" y="84" font-size="10" stroke="#000" stroke-width="0.35">60K</text>
<rect x="627.6" y="89.3" width="16.6" height="7.4" fill="#000086" stroke="#1a1a1a" stroke-width="0.9"/>
<text x="647.3" y="95.9" font-size="10" stroke="#000" stroke-width="0.35">70K</text>
<rect x="627.6" y="101.3" width="16.6" height="7.4" fill="#4a0606" stroke="#1a1a1a" stroke-width="0.9"/>
<text x="647.3" y="107.9" font-size="10" stroke="#000" stroke-width="0.35">80K</text>
<rect x="627.6" y="113.2" width="16.6" height="7.4" fill="#12944c" stroke="#1a1a1a" stroke-width="0.9"/>
<text x="647.3" y="119.8" font-size="10" stroke="#000" stroke-width="0.35">100K</text>
<rect x="627.6" y="125.2" width="16.6" height="7.4" fill="#ff2a0c" stroke="#1a1a1a" stroke-width="0.9"/>
<text x="647.3" y="131.8" font-size="10" stroke="#000" stroke-width="0.35">120K</text>
<rect x="627.6" y="137.1" width="16.6" height="7.4" fill="#2412fa" stroke="#1a1a1a" stroke-width="0.9"/>
<text x="647.3" y="143.7" font-size="10" stroke="#000" stroke-width="0.35">140K</text>
<rect x="627.6" y="149" width="16.6" height="7.4" fill="#e23cf2" stroke="#1a1a1a" stroke-width="0.9"/>
<text x="647.3" y="155.6" font-size="10" stroke="#000" stroke-width="0.35">180K</text>
<rect x="627.6" y="161" width="16.6" height="7.4" fill="#8a9a9c" stroke="#1a1a1a" stroke-width="0.9"/>
<text x="647.3" y="167.6" font-size="10" stroke="#000" stroke-width="0.35">220K</text>
<rect x="627.6" y="172.9" width="16.6" height="7.4" fill="#ccff10" stroke="#1a1a1a" stroke-width="0.9"/>
<text x="647.3" y="179.5" font-size="10" stroke="#000" stroke-width="0.35">260K</text>
<rect x="627.6" y="184.9" width="16.6" height="7.4" fill="#0aac0a" stroke="#1a1a1a" stroke-width="0.9"/>
<text x="647.3" y="191.5" font-size="10" stroke="#000" stroke-width="0.35">300K</text>
<line x1="180.9" y1="509" x2="180.9" y2="702.5" stroke="#6f7f84" stroke-width="1" stroke-linecap="butt"/>
<line x1="180.9" y1="702.5" x2="705.7" y2="702.5" stroke="#6f7f84" stroke-width="1" stroke-linecap="butt"/>
<line x1="13" y1="876" x2="180.9" y2="702.5" stroke="#6f7f84" stroke-width="1" stroke-linecap="butt"/>
<path d="M13,876.6 L13,683 L180.9,509 L705.7,509 L705.7,702.5 L538.3,876.6" fill="none" stroke="#000" stroke-width="1.5" stroke-linejoin="miter"/>
<path d="M705.7,516.2L708.9,516.2M705.7,523.9L708.9,523.9M705.7,531.7L708.9,531.7M705.7,539.5L708.9,539.5M705.7,547.2L711.3,547.2M705.7,555L708.9,555M705.7,562.8L708.9,562.8M705.7,570.5L708.9,570.5M705.7,578.3L708.9,578.3M705.7,586L711.3,586M705.7,593.8L708.9,593.8M705.7,601.6L708.9,601.6M705.7,609.3L708.9,609.3M705.7,617.1L708.9,617.1M705.7,624.9L711.3,624.9M705.7,632.6L708.9,632.6M705.7,640.4L708.9,640.4M705.7,648.2L708.9,648.2M705.7,655.9L708.9,655.9M705.7,663.7L711.3,663.7M705.7,671.5L708.9,671.5M705.7,679.2L708.9,679.2M705.7,687L708.9,687M705.7,694.8L708.9,694.8" stroke="#000" stroke-width="1.3" fill="none"/>
<path d="M684.7,722.8L690.7,722.8M659.1,749.4L665.1,749.4M633.5,776L639.5,776M608,802.6L614,802.6M582.4,829.2L588.4,829.2M556.8,855.8L562.8,855.8" stroke="#000" stroke-width="1.3" fill="none"/>
<path d="M188.9,708.8 188.9,702.6 189.7,703.6 190.5,705.6 191.3,707.3 192.1,708.2 192.9,708.5 193.6,708.5 194.4,708.5 195.2,708.6 196,708.5 196.8,708.5 197.6,708.6 198.4,708.6 199.2,708.5 200,708.5 200.8,708.6 201.6,708.5 202.3,708.5 203.1,708.5 203.9,708.5 204.7,708.4 205.5,708.4 206.3,708.5 207.1,708.4 207.9,708.4 208.7,708.4 209.5,708.4 210.3,708.3 211,708.3 211.8,708.3 212.6,708.2 213.4,708.1 214.2,708.1 215,708 215.8,707.8 216.6,707.7 217.4,707.7 218.2,707.4 219,707.1 219.7,706.9 220.5,706.5 221.3,705.8 222.1,705 222.9,703.9 223.7,702.1 224.5,699.7 225.3,696.6 226.1,692.3 226.9,686.8 227.7,680 228.4,671.9 229.2,662.6 230,652.5 230.8,642.2 231.6,632.1 232.4,623.1 233.2,616 234,611.4 234.8,609.7 235.6,610.9 236.4,614.5 237.1,620.2 237.9,627.5 238.7,635.9 239.5,644.9 240.3,653.7 241.1,662.1 241.9,669.8 242.7,676.3 243.5,681.6 244.3,685.8 245.1,688.8 245.9,690.5 246.6,691.3 247.4,691.3 248.2,690.6 249,689.2 249.8,687.4 250.6,685.3 251.4,682.7 252.2,680 253,677.4 253.8,674.6 254.6,671.9 255.3,669.5 256.1,667.4 256.9,665.5 257.7,664.1 258.5,663.3 259.3,662.9 260.1,663.2 260.9,664.2 261.7,665.9 262.5,668 263.3,670.7 264,673.8 264.8,677 265.6,680.3 266.4,683.6 267.2,686.8 268,689.7 268.8,692.4 269.6,695 270.4,697.1 271.2,698.9 272,700.5 272.7,701.8 273.5,702.8 274.3,703.7 275.1,704.5 275.9,705 276.7,705.4 277.5,705.8 278.3,706.2 279.1,706.4 279.9,706.6 280.7,706.9 281.4,707 282.2,707.1 283,707.2 283.8,707.4 284.6,707.4 285.4,707.5 286.2,707.7 287,707.7 287.8,707.8 288.6,707.9 289.4,708 290.1,708 290.9,708 291.7,708.2 292.5,708.1 293.3,708.1 294.1,708.2 294.9,708.3 295.7,708.2 296.5,708.3 297.3,708.4 298.1,708.3 298.8,708.3 299.6,708.4 300.4,708.4 301.2,708.4 302,708.4 302.8,708.5 303.6,708.4 304.4,708.4 305.2,708.4 306,708.5 306.8,708.4 307.5,708.4 308.3,708.5 309.1,708.4 309.9,708.4 310.7,708.5 311.5,708.5 312.3,708.4 313.1,708.4 313.9,708.5 314.7,708.4 315.5,708.4 316.2,708.4 317,708.5 317.8,708.4 318.6,708.4 319.4,708.5 320.2,708.4 321,708.4 321.8,708.4 322.6,708.5 323.4,708.4 324.2,708.4 325,708.5 325.7,708.4 326.5,708.3 327.3,708.4 328.1,708.4 328.9,708.3 329.7,708.3 330.5,708.4 331.3,708.3 332.1,708.3 332.9,708.3 333.7,708.3 334.4,708.3 335.2,708.3 336,708.3 336.8,708.3 337.6,708.2 338.4,708.2 339.2,708.3 340,708.2 340.8,708.2 341.6,708.2 342.4,708.1 343.1,708.1 343.9,708.1 344.7,708.1 345.5,708 346.3,707.9 347.1,708 347.9,707.8 348.7,707.7 349.5,707.7 350.3,707.7 351.1,707.5 351.8,707.4 352.6,707.4 353.4,707.2 354.2,707.1 355,707 355.8,706.9 356.6,706.6 357.4,706.5 358.2,706.4 359,706.1 359.8,705.8 360.5,705.5 361.3,705.2 362.1,704.6 362.9,704 363.7,703.3 364.5,702 365.3,700.3 366.1,698.1 366.9,694.9 367.7,690.6 368.5,684.9 369.2,677.6 370,668.3 370.8,656.9 371.6,643.6 372.4,628.4 373.2,611.5 374,593.9 374.8,576.1 375.6,558.9 376.4,543.5 377.2,531 377.9,522 378.7,517 379.5,515.9 380.3,517.2 381.1,520.3 381.9,525.3 382.7,531.6 383.5,538.6 384.3,545.8 385.1,552.9 385.9,559.6 386.6,565.1 387.4,569.7 388.2,573.2 389,575.7 389.8,577.3 390.6,578.4 391.4,579.6 392.2,580.9 393,583 393.8,586.4 394.6,590.4 395.3,594.8 396.1,599.9 396.9,605.5 397.7,611.4 398.5,617.7 399.3,624.2 400.1,630.7 400.9,637.1 401.7,643.5 402.5,649.7 403.3,655.4 404.1,660.8 404.8,666 405.6,670.5 406.4,674.6 407.2,678.4 408,681.8 408.8,684.6 409.6,687.2 410.4,689.5 411.2,691.4 412,693.1 412.8,694.6 413.5,696 414.3,697 415.1,698 415.9,699 416.7,699.7 417.5,700.4 418.3,701.1 419.1,701.7 419.9,702.2 420.7,702.7 421.5,703.2 422.2,703.6 423,703.9 423.8,704.3 424.6,704.7 425.4,705 426.2,705.2 427,705.6 427.8,705.8 428.6,706 429.4,706.2 430.2,706.5 430.9,706.5 431.7,706.7 432.5,706.9 433.3,707 434.1,707.1 434.9,707.2 435.7,707.4 436.5,707.4 437.3,707.5 438.1,707.6 438.9,707.6 439.6,707.7 440.4,707.7 441.2,707.9 442,707.8 442.8,707.9 443.6,708 444.4,708 445.2,707.9 446,708 446.8,708.1 447.6,708 448.3,708.1 449.1,708.2 449.9,708.1 450.7,708.1 451.5,708.2 452.3,708.2 453.1,708.2 453.9,708.2 454.7,708.3 455.5,708.2 456.3,708.2 457,708.3 457.8,708.3 458.6,708.3 459.4,708.3 460.2,708.4 461,708.3 461.8,708.3 462.6,708.3 463.4,708.4 464.2,708.3 465,708.3 465.7,708.4 466.5,708.4 467.3,708.3 468.1,708.4 468.9,708.4 469.7,708.4 470.5,708.4 471.3,708.5 472.1,708.4 472.9,708.4 473.7,708.4 474.4,708.5 475.2,708.4 476,708.4 476.8,708.5 477.6,708.4 478.4,708.4 479.2,708.5 480,708.5 480.8,708.4 481.6,708.4 482.4,708.5 483.2,708.5 483.9,708.4 484.7,708.5 485.5,708.5 486.3,708.5 487.1,708.5 487.9,708.6 488.7,708.5 489.5,708.5 490.3,708.5 491.1,708.5 491.9,708.5 492.6,708.5 493.4,708.6 494.2,708.5 495,708.5 495.8,708.5 496.6,708.6 497.4,708.5 498.2,708.5 499,708.6 499.8,708.5 500.6,708.5 501.3,708.6 502.1,708.6 502.9,708.5 503.7,708.5 504.5,708.6 505.3,708.5 506.1,708.5 506.9,708.6 507.7,708.6 508.5,708.5 509.3,708.5 510,708.6 510.8,708.6 511.6,708.5 512.4,708.6 513.2,708.6 514,708.5 514.8,708.6 515.6,708.7 516.4,708.6 517.2,708.5 518,708.6 518.7,708.6 519.5,708.5 520.3,708.6 521.1,708.7 521.9,708.6 522.7,708.5 523.5,708.6 524.3,708.6 525.1,708.5 525.9,708.6 526.7,708.7 527.4,708.6 528.2,708.6 529,708.6 529.8,708.6 530.6,708.6 531.4,708.6 532.2,708.7 533,708.6 533.8,708.6 534.6,708.6 535.4,708.6 536.1,708.6 536.9,708.6 537.7,708.7 538.5,708.6 539.3,708.6 540.1,708.6 540.9,708.6 541.7,708.6 542.5,708.6 543.3,708.7 544.1,708.6 544.8,708.6 545.6,708.6 546.4,708.6 547.2,708.6 548,708.6 548.8,708.7 549.6,708.6 550.4,708.6 551.2,708.6 552,708.6 552.8,708.5 553.5,708.6 554.3,708.6 555.1,708.6 555.9,708.5 556.7,708.6 557.5,708.6 558.3,708.5 559.1,708.6 559.9,708.6 560.7,708.5 561.5,708.5 562.3,708.6 563,708.6 563.8,708.5 564.6,708.5 565.4,708.6 566.2,708.5 567,708.5 567.8,708.6 568.6,708.5 569.4,708.5 570.2,708.5 571,708.6 571.7,708.5 572.5,708.4 573.3,708.5 574.1,708.4 574.9,708.4 575.7,708.4 576.5,708.4 577.3,708.3 578.1,708.3 578.9,708.3 579.7,708.2 580.4,708.1 581.2,708.1 582,708.1 582.8,707.9 583.6,707.9 584.4,707.8 585.2,707.7 586,707.5 586.8,707.4 587.6,707.3 588.4,707 589.1,706.7 589.9,706.5 590.7,706.1 591.5,705.6 592.3,705.2 593.1,704.7 593.9,704 594.7,703.3 595.5,702.6 596.3,701.7 597.1,700.9 597.8,700 598.6,699.2 599.4,698.4 600.2,697.7 601,697.2 601.8,696.8 602.6,696.6 603.4,696.7 604.2,696.9 605,697.1 605.8,697.6 606.5,698.2 607.3,698.8 608.1,699.4 608.9,700.1 609.7,700.8 610.5,701.4 611.3,702 612.1,702.6 612.9,703 613.7,703.3 614.5,703.6 615.2,703.8 616,703.9 616.8,703.9 617.6,704 618.4,703.8 619.2,703.7 620,703.7 620.8,703.7 621.6,703.6 622.4,703.7 623.2,703.9 623.9,704 624.7,704.2 625.5,704.4 626.3,704.6 627.1,704.8 627.9,705 628.7,705.3 629.5,705.5 630.3,705.7 631.1,706 631.9,706.2 632.6,706.3 633.4,706.5 634.2,706.8 635,706.9 635.8,707 636.6,707.2 637.4,707.3 638.2,707.4 639,707.5 639.8,707.7 640.6,707.7 641.4,707.7 642.1,707.9 642.9,707.9 643.7,707.9 644.5,708 645.3,708.1 646.1,708.1 646.9,708.1 647.7,708.2 648.5,708.2 649.3,708.2 650.1,708.2 650.8,708.4 651.6,708.3 652.4,708.3 653.2,708.4 654,708.4 654.8,708.4 655.6,708.4 656.4,708.5 657.2,708.4 658,708.4 658.8,708.5 659.5,708.5 660.3,708.5 661.1,708.5 661.9,708.6 662.7,708.5 663.5,708.5 664.3,708.6 665.1,708.6 665.9,708.5 666.7,708.6 667.5,708.7 668.2,708.6 669,708.5 669.8,708.6 670.6,708.6 671.4,708.6 672.2,708.6 673,708.7 673.8,708.6 674.6,708.6 675.4,708.6 676.2,708.6 676.9,708.6 677.7,708.6 678.5,708.7 679.3,708.6 680.1,708.6 680.9,708.7 681.7,708.7 682.5,708.6 683.3,708.6 684.1,708.7 684.9,708.6 685.6,708.6 686.4,708.7 687.2,708.7 688,708.6 688.8,708.6 689.6,708.7 690.4,708.6 691.2,708.6 691.2,708.8Z" fill="#ff0404" stroke="#ff0404" stroke-width="1.5" stroke-linejoin="round"/>
<path d="M176,722.1 176,715.9 176.8,716.9 177.6,719 178.4,720.7 179.2,721.5 180,721.8 180.7,722 181.5,721.9 182.3,721.9 183.1,722 183.9,721.9 184.7,721.9 185.5,721.9 186.3,721.9 187.1,721.8 187.9,721.8 188.7,721.9 189.4,721.9 190.2,721.8 191,721.8 191.8,721.9 192.6,721.8 193.4,721.8 194.2,721.8 195,721.8 195.8,721.7 196.6,721.7 197.4,721.7 198.1,721.6 198.9,721.6 199.7,721.6 200.5,721.5 201.3,721.4 202.1,721.3 202.9,721.3 203.7,721.1 204.5,720.9 205.3,720.8 206.1,720.5 206.8,720.2 207.6,719.8 208.4,719.2 209.2,718.3 210,717 210.8,715.4 211.6,713 212.4,709.7 213.2,705.5 214,700.1 214.8,693.3 215.5,685.4 216.3,676.4 217.1,666.5 217.9,656.3 218.7,646.4 219.5,637.6 220.3,630.3 221.1,625.5 221.9,623.6 222.7,624.3 223.5,627.4 224.2,632.7 225,639.6 225.8,647.6 226.6,656.3 227.4,665.2 228.2,673.6 229,681.3 229.8,688 230.6,693.7 231.4,698 232.2,701.2 233,703.4 233.7,704.4 234.5,704.7 235.3,704.2 236.1,703.1 236.9,701.4 237.7,699.4 238.5,697.2 239.3,694.6 240.1,692 240.9,689.4 241.7,686.9 242.4,684.4 243.2,682.3 244,680.7 244.8,679.2 245.6,678.3 246.4,678 247.2,678.2 248,679 248.8,680.5 249.6,682.6 250.4,685 251.1,687.9 251.9,691 252.7,694.1 253.5,697.2 254.3,700.2 255.1,703.2 255.9,705.8 256.7,708.1 257.5,710.3 258.3,712.2 259.1,713.7 259.8,715 260.6,716.2 261.4,717 262.2,717.7 263,718.4 263.8,718.8 264.6,719.2 265.4,719.5 266.2,719.8 267,720 267.8,720.1 268.5,720.4 269.3,720.5 270.1,720.6 270.9,720.7 271.7,720.9 272.5,720.9 273.3,721 274.1,721.1 274.9,721.2 275.7,721.2 276.5,721.3 277.2,721.4 278,721.4 278.8,721.4 279.6,721.5 280.4,721.6 281.2,721.5 282,721.6 282.8,721.7 283.6,721.6 284.4,721.6 285.2,721.7 285.9,721.7 286.7,721.7 287.5,721.7 288.3,721.8 289.1,721.7 289.9,721.7 290.7,721.8 291.5,721.8 292.3,721.7 293.1,721.8 293.9,721.8 294.6,721.8 295.4,721.8 296.2,721.8 297,721.8 297.8,721.8 298.6,721.8 299.4,721.9 300.2,721.8 301,721.8 301.8,721.8 302.6,721.8 303.3,721.7 304.1,721.8 304.9,721.8 305.7,721.8 306.5,721.7 307.3,721.8 308.1,721.8 308.9,721.7 309.7,721.8 310.5,721.8 311.3,721.7 312.1,721.7 312.8,721.8 313.6,721.7 314.4,721.7 315.2,721.7 316,721.8 316.8,721.7 317.6,721.7 318.4,721.7 319.2,721.7 320,721.6 320.8,721.7 321.5,721.7 322.3,721.6 323.1,721.6 323.9,721.7 324.7,721.6 325.5,721.5 326.3,721.6 327.1,721.6 327.9,721.5 328.7,721.5 329.5,721.5 330.2,721.5 331,721.4 331.8,721.4 332.6,721.4 333.4,721.3 334.2,721.2 335,721.3 335.8,721.1 336.6,721 337.4,721 338.2,721 338.9,720.8 339.7,720.7 340.5,720.7 341.3,720.5 342.1,720.3 342.9,720.2 343.7,720.1 344.5,719.8 345.3,719.7 346.1,719.5 346.9,719.2 347.6,718.8 348.4,718.5 349.2,718.1 350,717.3 350.8,716.4 351.6,715.3 352.4,713.5 353.2,711.1 354,707.9 354.8,703.6 355.6,697.7 356.3,690.4 357.1,681.2 357.9,670 358.7,656.8 359.5,641.9 360.3,625.5 361.1,608.1 361.9,590.8 362.7,574.2 363.5,559.2 364.3,546.8 365,537.9 365.8,532.8 366.6,531.4 367.4,532.4 368.2,535.5 369,540.1 369.8,546.1 370.6,552.9 371.4,560 372.2,566.8 373,573.2 373.7,578.8 374.5,583.3 375.3,586.7 376.1,589.2 376.9,590.9 377.7,592 378.5,593.1 379.3,594.8 380.1,597 380.9,600.3 381.7,604.5 382.4,609.1 383.2,614.2 384,619.8 384.8,626 385.6,632.2 386.4,638.7 387.2,645.3 388,651.7 388.8,658 389.6,664.1 390.4,669.9 391.2,675.2 391.9,680.2 392.7,684.8 393.5,688.8 394.3,692.4 395.1,695.7 395.9,698.7 396.7,701.1 397.5,703.2 398.3,705.2 399.1,706.9 399.9,708.2 400.6,709.5 401.4,710.7 402.2,711.6 403,712.4 403.8,713.3 404.6,714 405.4,714.5 406.2,715.1 407,715.7 407.8,716.1 408.6,716.6 409.3,717.1 410.1,717.4 410.9,717.7 411.7,718.1 412.5,718.5 413.3,718.7 414.1,718.9 414.9,719.2 415.7,719.4 416.5,719.6 417.3,719.8 418,720 418.8,720.1 419.6,720.2 420.4,720.4 421.2,720.5 422,720.6 422.8,720.7 423.6,720.9 424.4,720.8 425.2,720.9 426,721 426.7,721.1 427.5,721.1 428.3,721.2 429.1,721.3 429.9,721.2 430.7,721.3 431.5,721.4 432.3,721.4 433.1,721.3 433.9,721.4 434.7,721.5 435.4,721.4 436.2,721.4 437,721.5 437.8,721.5 438.6,721.5 439.4,721.5 440.2,721.6 441,721.5 441.8,721.6 442.6,721.6 443.4,721.6 444.1,721.6 444.9,721.6 445.7,721.7 446.5,721.6 447.3,721.6 448.1,721.7 448.9,721.7 449.7,721.6 450.5,721.7 451.3,721.8 452.1,721.7 452.8,721.7 453.6,721.8 454.4,721.7 455.2,721.7 456,721.7 456.8,721.8 457.6,721.7 458.4,721.7 459.2,721.8 460,721.8 460.8,721.7 461.5,721.8 462.3,721.8 463.1,721.8 463.9,721.8 464.7,721.9 465.5,721.8 466.3,721.8 467.1,721.8 467.9,721.9 468.7,721.8 469.5,721.8 470.3,721.9 471,721.8 471.8,721.8 472.6,721.9 473.4,721.9 474.2,721.8 475,721.8 475.8,721.9 476.6,721.9 477.4,721.8 478.2,721.9 479,721.9 479.7,721.8 480.5,721.8 481.3,721.9 482.1,721.9 482.9,721.8 483.7,721.9 484.5,721.9 485.3,721.9 486.1,721.9 486.9,722 487.7,721.9 488.4,721.9 489.2,721.9 490,721.9 490.8,721.9 491.6,721.9 492.4,722 493.2,721.9 494,721.9 494.8,721.9 495.6,722 496.4,721.9 497.1,721.9 497.9,722 498.7,721.9 499.5,721.9 500.3,721.9 501.1,722 501.9,721.9 502.7,721.9 503.5,722 504.3,721.9 505.1,721.9 505.8,721.9 506.6,722 507.4,721.9 508.2,721.9 509,722 509.8,721.9 510.6,721.9 511.4,722 512.2,722 513,721.9 513.8,721.9 514.5,722 515.3,721.9 516.1,721.9 516.9,722 517.7,722 518.5,721.9 519.3,721.9 520.1,722 520.9,721.9 521.7,721.9 522.5,722 523.2,722 524,721.9 524.8,721.9 525.6,722 526.4,721.9 527.2,721.9 528,722 528.8,722 529.6,721.9 530.4,721.9 531.2,722 531.9,721.9 532.7,721.9 533.5,722 534.3,722 535.1,721.9 535.9,721.9 536.7,722 537.5,721.9 538.3,721.9 539.1,722 539.9,722 540.6,721.9 541.4,721.9 542.2,722 543,721.9 543.8,721.9 544.6,722 545.4,722 546.2,721.9 547,721.9 547.8,722 548.6,721.9 549.4,721.9 550.1,721.9 550.9,721.9 551.7,721.9 552.5,721.9 553.3,722 554.1,721.9 554.9,721.8 555.7,721.9 556.5,721.9 557.3,721.8 558.1,721.8 558.8,721.9 559.6,721.8 560.4,721.8 561.2,721.8 562,721.8 562.8,721.7 563.6,721.7 564.4,721.8 565.2,721.6 566,721.6 566.8,721.6 567.5,721.6 568.3,721.4 569.1,721.4 569.9,721.4 570.7,721.2 571.5,721.1 572.3,721.1 573.1,721 573.9,720.8 574.7,720.6 575.5,720.5 576.2,720.2 577,719.9 577.8,719.6 578.6,719.2 579.4,718.6 580.2,718.2 581,717.6 581.8,716.9 582.6,716.1 583.4,715.4 584.2,714.6 584.9,713.7 585.7,712.9 586.5,712.2 587.3,711.5 588.1,710.9 588.9,710.6 589.7,710.5 590.5,710.4 591.3,710.7 592.1,711 592.9,711.4 593.6,711.9 594.4,712.6 595.2,713.2 596,713.8 596.8,714.4 597.6,715.1 598.4,715.6 599.2,716.1 600,716.7 600.8,717 601.6,717.2 602.3,717.5 603.1,717.7 603.9,717.7 604.7,717.7 605.5,717.7 606.3,717.6 607.1,717.5 607.9,717.5 608.7,717.6 609.5,717.6 610.3,717.8 611,718 611.8,718.1 612.6,718.2 613.4,718.5 614.2,718.7 615,718.8 615.8,719 616.6,719.3 617.4,719.4 618.2,719.6 619,719.8 619.7,720 620.5,720.1 621.3,720.3 622.1,720.5 622.9,720.6 623.7,720.7 624.5,720.8 625.3,721 626.1,721 626.9,721.1 627.7,721.2 628.5,721.2 629.2,721.3 630,721.4 630.8,721.4 631.6,721.4 632.4,721.5 633.2,721.6 634,721.6 634.8,721.5 635.6,721.6 636.4,721.7 637.2,721.6 637.9,721.7 638.7,721.8 639.5,721.7 640.3,721.7 641.1,721.8 641.9,721.8 642.7,721.8 643.5,721.8 644.3,721.9 645.1,721.8 645.9,721.8 646.6,721.9 647.4,721.9 648.2,721.8 649,721.9 649.8,722 650.6,721.9 651.4,721.9 652.2,721.9 653,722 653.8,721.9 654.6,721.9 655.3,722 656.1,721.9 656.9,721.9 657.7,722 658.5,722 659.3,721.9 660.1,721.9 660.9,722 661.7,722 662.5,721.9 663.3,722 664,722 664.8,721.9 665.6,722 666.4,722.1 667.2,722 668,722 668.8,722 669.6,722 670.4,722 671.2,722 672,722.1 672.7,722 673.5,722 674.3,722 675.1,722 675.9,722 676.7,722 677.5,722.1 678.3,722 678.3,722.1Z" fill="#00ff00" stroke="#00ff00" stroke-width="1.5" stroke-linejoin="round"/>
<path d="M163.1,735.5 163.1,725.8 163.9,727.3 164.7,730.5 165.5,733.3 166.3,734.7 167.1,735.1 167.8,735.2 168.6,735.3 169.4,735.2 170.2,735.2 171,735.3 171.8,735.2 172.6,735.2 173.4,735.2 174.2,735.3 175,735.2 175.8,735.2 176.5,735.2 177.3,735.2 178.1,735.1 178.9,735.2 179.7,735.2 180.5,735.1 181.3,735.1 182.1,735.2 182.9,735.1 183.7,735 184.5,735 185.2,735 186,734.9 186.8,734.9 187.6,734.9 188.4,734.8 189.2,734.6 190,734.6 190.8,734.5 191.6,734.3 192.4,734.1 193.2,733.9 193.9,733.5 194.7,733 195.5,732.5 196.3,731.6 197.1,730.3 197.9,728.5 198.7,726.2 199.5,722.9 200.3,718.6 201.1,713.2 201.9,706.7 202.6,698.8 203.4,689.9 204.2,680.3 205,670.3 205.8,660.6 206.6,651.8 207.4,644.6 208.2,639.5 209,637.1 209.8,637.6 210.6,640.2 211.3,645 212.1,651.6 212.9,659.3 213.7,667.7 214.5,676.4 215.3,684.9 216.1,692.6 216.9,699.4 217.7,705.2 218.5,709.9 219.3,713.3 220.1,715.6 220.8,717 221.6,717.3 222.4,716.9 223.2,715.9 224,714.4 224.8,712.3 225.6,710 226.4,707.5 227.2,704.8 228,702.1 228.8,699.5 229.5,697.1 230.3,694.8 231.1,692.9 231.9,691.6 232.7,690.5 233.5,690.1 234.3,690.2 235.1,691.1 235.9,692.4 236.7,694.5 237.5,697 238.2,699.8 239,702.8 239.8,706 240.6,709.2 241.4,712.3 242.2,715.3 243,718.1 243.8,720.5 244.6,722.7 245.4,724.7 246.2,726.4 246.9,727.8 247.7,729 248.5,730 249.3,730.7 250.1,731.4 250.9,731.9 251.7,732.4 252.5,732.7 253.3,733 254.1,733.3 254.9,733.4 255.6,733.6 256.4,733.8 257.2,733.9 258,734 258.8,734.1 259.6,734.3 260.4,734.3 261.2,734.4 262,734.5 262.8,734.6 263.6,734.6 264.3,734.7 265.1,734.8 265.9,734.8 266.7,734.8 267.5,734.9 268.3,734.9 269.1,734.9 269.9,735 270.7,735.1 271.5,735 272.3,735 273,735.1 273.8,735.1 274.6,735 275.4,735.1 276.2,735.2 277,735.1 277.8,735.1 278.6,735.2 279.4,735.2 280.2,735.1 281,735.1 281.7,735.2 282.5,735.1 283.3,735.1 284.1,735.2 284.9,735.2 285.7,735.1 286.5,735.1 287.3,735.2 288.1,735.1 288.9,735.1 289.7,735.2 290.4,735.2 291.2,735.1 292,735.1 292.8,735.2 293.6,735.1 294.4,735.1 295.2,735.2 296,735.1 296.8,735.1 297.6,735.1 298.4,735.2 299.2,735.1 299.9,735.1 300.7,735.1 301.5,735.1 302.3,735 303.1,735.1 303.9,735.1 304.7,735 305.5,735 306.3,735.1 307.1,735 307.9,735 308.6,735 309.4,735.1 310.2,735 311,734.9 311.8,735 312.6,735 313.4,734.9 314.2,734.9 315,734.9 315.8,734.8 316.6,734.8 317.3,734.9 318.1,734.8 318.9,734.7 319.7,734.7 320.5,734.7 321.3,734.6 322.1,734.5 322.9,734.6 323.7,734.5 324.5,734.3 325.3,734.3 326,734.3 326.8,734.1 327.6,734 328.4,733.9 329.2,733.7 330,733.6 330.8,733.4 331.6,733.3 332.4,733 333.2,732.8 334,732.6 334.7,732.3 335.5,731.8 336.3,731.3 337.1,730.7 337.9,729.7 338.7,728.4 339.5,726.7 340.3,724.2 341.1,720.8 341.9,716.4 342.7,710.6 343.4,703 344.2,693.8 345,682.7 345.8,669.6 346.6,654.8 347.4,638.7 348.2,621.8 349,604.7 349.8,588.4 350.6,573.8 351.4,561.5 352.1,552.5 352.9,547.4 353.7,545.9 354.5,546.7 355.3,549.6 356.1,554.2 356.9,560.1 357.7,566.8 358.5,573.9 359.3,580.8 360.1,587.2 360.8,592.9 361.6,597.6 362.4,601.2 363.2,603.8 364,605.8 364.8,607.3 365.6,608.6 366.4,610.3 367.2,612.9 368,616.4 368.8,620.6 369.5,625.3 370.3,630.5 371.1,636.1 371.9,642.1 372.7,648.4 373.5,654.8 374.3,661.2 375.1,667.6 375.9,673.8 376.7,679.6 377.5,685.2 378.3,690.5 379,695.2 379.8,699.6 380.6,703.6 381.4,707.1 382.2,710.2 383,712.9 383.8,715.4 384.6,717.4 385.4,719.2 386.2,720.8 387,722.2 387.7,723.3 388.5,724.4 389.3,725.4 390.1,726.2 390.9,726.9 391.7,727.6 392.5,728.2 393.3,728.7 394.1,729.2 394.9,729.8 395.7,730.1 396.4,730.5 397.2,730.9 398,731.3 398.8,731.5 399.6,731.9 400.4,732.2 401.2,732.4 402,732.6 402.8,732.9 403.6,733.1 404.4,733.2 405.1,733.4 405.9,733.6 406.7,733.6 407.5,733.7 408.3,733.9 409.1,734 409.9,734.1 410.7,734.2 411.5,734.3 412.3,734.3 413.1,734.3 413.8,734.5 414.6,734.5 415.4,734.5 416.2,734.6 417,734.7 417.8,734.6 418.6,734.7 419.4,734.8 420.2,734.8 421,734.7 421.8,734.8 422.5,734.9 423.3,734.8 424.1,734.8 424.9,734.9 425.7,734.9 426.5,734.9 427.3,734.9 428.1,735 428.9,734.9 429.7,734.9 430.5,735 431.2,735 432,735 432.8,735 433.6,735.1 434.4,735 435.2,735 436,735.1 436.8,735.1 437.6,735 438.4,735.1 439.2,735.1 439.9,735.1 440.7,735.1 441.5,735.1 442.3,735.1 443.1,735.1 443.9,735.1 444.7,735.2 445.5,735.1 446.3,735.1 447.1,735.2 447.9,735.2 448.6,735.1 449.4,735.1 450.2,735.2 451,735.1 451.8,735.1 452.6,735.2 453.4,735.2 454.2,735.1 455,735.2 455.8,735.2 456.6,735.2 457.4,735.2 458.1,735.2 458.9,735.2 459.7,735.2 460.5,735.2 461.3,735.3 462.1,735.2 462.9,735.2 463.7,735.3 464.5,735.2 465.3,735.2 466.1,735.2 466.8,735.3 467.6,735.2 468.4,735.2 469.2,735.3 470,735.2 470.8,735.2 471.6,735.2 472.4,735.3 473.2,735.2 474,735.2 474.8,735.3 475.5,735.3 476.3,735.2 477.1,735.3 477.9,735.3 478.7,735.2 479.5,735.2 480.3,735.3 481.1,735.3 481.9,735.2 482.7,735.3 483.5,735.3 484.2,735.2 485,735.2 485.8,735.3 486.6,735.3 487.4,735.2 488.2,735.3 489,735.3 489.8,735.2 490.6,735.3 491.4,735.3 492.2,735.3 492.9,735.2 493.7,735.3 494.5,735.3 495.3,735.3 496.1,735.3 496.9,735.3 497.7,735.3 498.5,735.2 499.3,735.3 500.1,735.3 500.9,735.3 501.6,735.3 502.4,735.4 503.2,735.3 504,735.3 504.8,735.3 505.6,735.3 506.4,735.3 507.2,735.3 508,735.4 508.8,735.3 509.6,735.3 510.3,735.3 511.1,735.3 511.9,735.3 512.7,735.3 513.5,735.4 514.3,735.3 515.1,735.3 515.9,735.3 516.7,735.3 517.5,735.3 518.3,735.3 519,735.4 519.8,735.3 520.6,735.3 521.4,735.3 522.2,735.3 523,735.3 523.8,735.3 524.6,735.4 525.4,735.3 526.2,735.2 527,735.3 527.7,735.3 528.5,735.3 529.3,735.3 530.1,735.4 530.9,735.3 531.7,735.2 532.5,735.3 533.3,735.3 534.1,735.2 534.9,735.3 535.7,735.3 536.5,735.3 537.2,735.2 538,735.3 538.8,735.3 539.6,735.2 540.4,735.2 541.2,735.3 542,735.2 542.8,735.2 543.6,735.2 544.4,735.2 545.2,735.2 545.9,735.2 546.7,735.2 547.5,735.1 548.3,735.1 549.1,735.1 549.9,735.1 550.7,735 551.5,735 552.3,735.1 553.1,734.9 553.9,734.9 554.6,734.9 555.4,734.8 556.2,734.7 557,734.6 557.8,734.7 558.6,734.5 559.4,734.3 560.2,734.3 561,734.1 561.8,733.9 562.6,733.7 563.3,733.5 564.1,733.1 564.9,732.7 565.7,732.4 566.5,731.9 567.3,731.3 568.1,730.7 568.9,730 569.7,729.2 570.5,728.3 571.3,727.5 572,726.7 572.8,725.7 573.6,725 574.4,724.4 575.2,723.7 576,723.3 576.8,723.2 577.6,723.2 578.4,723.4 579.2,723.7 580,724.3 580.7,724.7 581.5,725.3 582.3,726.1 583.1,726.7 583.9,727.4 584.7,728.1 585.5,728.8 586.3,729.2 587.1,729.7 587.9,730.2 588.7,730.5 589.4,730.7 590.2,730.8 591,731 591.8,730.9 592.6,730.9 593.4,730.9 594.2,730.9 595,730.8 595.8,730.9 596.6,731.1 597.4,731.1 598.1,731.3 598.9,731.5 599.7,731.6 600.5,731.8 601.3,732 602.1,732.3 602.9,732.4 603.7,732.6 604.5,732.8 605.3,733 606.1,733.1 606.8,733.3 607.6,733.6 608.4,733.6 609.2,733.8 610,734 610.8,734.1 611.6,734.1 612.4,734.3 613.2,734.4 614,734.4 614.8,734.5 615.6,734.6 616.3,734.7 617.1,734.7 617.9,734.7 618.7,734.9 619.5,734.8 620.3,734.8 621.1,734.9 621.9,734.9 622.7,734.9 623.5,735 624.3,735.1 625,735 625.8,735 626.6,735.1 627.4,735.1 628.2,735.1 629,735.1 629.8,735.2 630.6,735.1 631.4,735.1 632.2,735.2 633,735.2 633.7,735.2 634.5,735.2 635.3,735.3 636.1,735.2 636.9,735.2 637.7,735.3 638.5,735.3 639.3,735.2 640.1,735.3 640.9,735.3 641.7,735.3 642.4,735.3 643.2,735.4 644,735.3 644.8,735.3 645.6,735.3 646.4,735.4 647.2,735.3 648,735.3 648.8,735.4 649.6,735.3 650.4,735.3 651.1,735.3 651.9,735.4 652.7,735.3 653.5,735.3 654.3,735.4 655.1,735.3 655.9,735.3 656.7,735.4 657.5,735.4 658.3,735.3 659.1,735.3 659.8,735.4 660.6,735.3 661.4,735.3 662.2,735.4 663,735.4 663.8,735.3 664.6,735.3 665.4,735.4 665.4,735.5Z" fill="#0814ff" stroke="#0814ff" stroke-width="1.5" stroke-linejoin="round"/>
<path d="M150.2,748.9 150.2,741.6 151,742.8 151.8,745.1 152.6,747.1 153.4,748.2 154.2,748.6 154.9,748.6 155.7,748.6 156.5,748.7 157.3,748.6 158.1,748.6 158.9,748.6 159.7,748.6 160.5,748.5 161.3,748.6 162.1,748.6 162.9,748.5 163.6,748.5 164.4,748.6 165.2,748.6 166,748.5 166.8,748.5 167.6,748.6 168.4,748.5 169.2,748.4 170,748.5 170.8,748.4 171.6,748.4 172.3,748.4 173.1,748.4 173.9,748.2 174.7,748.2 175.5,748.2 176.3,748.1 177.1,747.9 177.9,747.8 178.7,747.8 179.5,747.5 180.3,747.2 181,747 181.8,746.5 182.6,745.8 183.4,745 184.2,743.8 185,742 185.8,739.6 186.6,736.5 187.4,732.4 188.2,727.2 189,721 189.7,713.7 190.5,705.2 191.3,696.1 192.1,686.8 192.9,677.5 193.7,669.1 194.5,662.1 195.3,657.2 196.1,654.5 196.9,654.5 197.7,656.8 198.4,661 199.2,666.8 200,674 200.8,681.9 201.6,690 202.4,698.1 203.2,705.7 204,712.4 204.8,718.1 205.6,722.8 206.4,726.4 207.2,728.8 207.9,730.3 208.7,730.9 209.5,730.7 210.3,729.8 211.1,728.5 211.9,726.7 212.7,724.4 213.5,722 214.3,719.6 215.1,716.9 215.9,714.4 216.6,712 217.4,709.9 218.2,708 219,706.6 219.8,705.7 220.6,705.1 221.4,705.2 222.2,705.9 223,707.3 223.8,709 224.6,711.3 225.3,714 226.1,716.8 226.9,719.8 227.7,722.9 228.5,725.9 229.3,728.7 230.1,731.4 230.9,733.9 231.7,736 232.5,737.9 233.3,739.6 234,741.1 234.8,742.2 235.6,743.2 236.4,744.1 237.2,744.7 238,745.2 238.8,745.7 239.6,746.1 240.4,746.3 241.2,746.6 242,746.9 242.7,747 243.5,747.1 244.3,747.3 245.1,747.4 245.9,747.5 246.7,747.6 247.5,747.8 248.3,747.8 249.1,747.8 249.9,747.9 250.7,748 251.4,748 252.2,748.1 253,748.2 253.8,748.2 254.6,748.2 255.4,748.3 256.2,748.3 257,748.3 257.8,748.3 258.6,748.4 259.4,748.4 260.1,748.4 260.9,748.4 261.7,748.5 262.5,748.4 263.3,748.4 264.1,748.5 264.9,748.5 265.7,748.4 266.5,748.5 267.3,748.5 268.1,748.5 268.8,748.5 269.6,748.6 270.4,748.5 271.2,748.5 272,748.5 272.8,748.5 273.6,748.5 274.4,748.5 275.2,748.6 276,748.5 276.8,748.5 277.5,748.5 278.3,748.5 279.1,748.5 279.9,748.5 280.7,748.6 281.5,748.5 282.3,748.4 283.1,748.5 283.9,748.5 284.7,748.4 285.5,748.5 286.3,748.5 287,748.4 287.8,748.4 288.6,748.5 289.4,748.5 290.2,748.4 291,748.4 291.8,748.5 292.6,748.4 293.4,748.4 294.2,748.4 295,748.4 295.7,748.3 296.5,748.4 297.3,748.4 298.1,748.3 298.9,748.3 299.7,748.3 300.5,748.3 301.3,748.2 302.1,748.3 302.9,748.3 303.7,748.2 304.4,748.2 305.2,748.2 306,748.2 306.8,748.1 307.6,748 308.4,748.1 309.2,747.9 310,747.9 310.8,747.9 311.6,747.8 312.4,747.7 313.1,747.6 313.9,747.6 314.7,747.4 315.5,747.3 316.3,747.2 317.1,747.1 317.9,746.9 318.7,746.7 319.5,746.6 320.3,746.3 321.1,746 321.8,745.8 322.6,745.4 323.4,744.8 324.2,744.2 325,743.3 325.8,742 326.6,740.2 327.4,737.9 328.2,734.6 329,730.2 329.8,724.7 330.5,717.7 331.3,708.9 332.1,698.4 332.9,686.3 333.7,672.5 334.5,657.5 335.3,641.9 336.1,626.2 336.9,611 337.7,597.4 338.5,586.1 339.2,577.6 340,572.6 340.8,570.9 341.6,571.6 342.4,574 343.2,578.1 344,583.5 344.8,589.5 345.6,595.9 346.4,602.3 347.2,608.2 347.9,613.3 348.7,617.5 349.5,620.9 350.3,623.3 351.1,625 351.9,626.4 352.7,627.8 353.5,629.4 354.3,631.9 355.1,635.5 355.9,639.5 356.6,644 357.4,649.1 358.2,654.6 359,660.3 359.8,666.4 360.6,672.6 361.4,678.7 362.2,684.7 363,690.7 363.8,696.3 364.6,701.6 365.4,706.5 366.1,711.1 366.9,715.2 367.7,718.9 368.5,722.2 369.3,725.2 370.1,727.7 370.9,729.9 371.7,731.9 372.5,733.6 373.3,735 374.1,736.3 374.8,737.5 375.6,738.4 376.4,739.3 377.2,740.1 378,740.7 378.8,741.3 379.6,742 380.4,742.5 381.2,742.9 382,743.4 382.8,743.9 383.5,744.2 384.3,744.5 385.1,744.9 385.9,745.2 386.7,745.4 387.5,745.7 388.3,746 389.1,746.1 389.9,746.3 390.7,746.5 391.5,746.7 392.2,746.8 393,747 393.8,747.2 394.6,747.2 395.4,747.3 396.2,747.4 397,747.6 397.8,747.6 398.6,747.7 399.4,747.8 400.2,747.8 400.9,747.8 401.7,747.9 402.5,748 403.3,748 404.1,748 404.9,748.1 405.7,748.1 406.5,748.1 407.3,748.2 408.1,748.2 408.9,748.2 409.6,748.2 410.4,748.3 411.2,748.2 412,748.2 412.8,748.3 413.6,748.3 414.4,748.3 415.2,748.3 416,748.4 416.8,748.3 417.6,748.3 418.3,748.4 419.1,748.4 419.9,748.3 420.7,748.4 421.5,748.5 422.3,748.4 423.1,748.4 423.9,748.4 424.7,748.5 425.5,748.4 426.3,748.4 427,748.5 427.8,748.4 428.6,748.4 429.4,748.5 430.2,748.5 431,748.4 431.8,748.5 432.6,748.6 433.4,748.5 434.2,748.5 435,748.5 435.7,748.5 436.5,748.5 437.3,748.5 438.1,748.6 438.9,748.5 439.7,748.5 440.5,748.6 441.3,748.6 442.1,748.5 442.9,748.5 443.7,748.6 444.5,748.5 445.2,748.5 446,748.6 446.8,748.6 447.6,748.5 448.4,748.6 449.2,748.6 450,748.6 450.8,748.5 451.6,748.6 452.4,748.6 453.2,748.5 453.9,748.6 454.7,748.7 455.5,748.6 456.3,748.6 457.1,748.6 457.9,748.6 458.7,748.6 459.5,748.6 460.3,748.7 461.1,748.6 461.9,748.6 462.6,748.6 463.4,748.6 464.2,748.6 465,748.6 465.8,748.7 466.6,748.6 467.4,748.6 468.2,748.7 469,748.6 469.8,748.6 470.6,748.6 471.3,748.7 472.1,748.6 472.9,748.6 473.7,748.7 474.5,748.6 475.3,748.6 476.1,748.6 476.9,748.7 477.7,748.6 478.5,748.6 479.3,748.7 480,748.7 480.8,748.6 481.6,748.6 482.4,748.7 483.2,748.6 484,748.6 484.8,748.7 485.6,748.7 486.4,748.6 487.2,748.6 488,748.7 488.7,748.6 489.5,748.6 490.3,748.7 491.1,748.7 491.9,748.6 492.7,748.7 493.5,748.7 494.3,748.6 495.1,748.6 495.9,748.7 496.7,748.7 497.4,748.6 498.2,748.7 499,748.7 499.8,748.6 500.6,748.6 501.4,748.7 502.2,748.7 503,748.6 503.8,748.7 504.6,748.7 505.4,748.6 506.1,748.6 506.9,748.7 507.7,748.7 508.5,748.6 509.3,748.7 510.1,748.7 510.9,748.6 511.7,748.6 512.5,748.7 513.3,748.7 514.1,748.6 514.8,748.7 515.6,748.7 516.4,748.6 517.2,748.6 518,748.7 518.8,748.6 519.6,748.6 520.4,748.6 521.2,748.7 522,748.6 522.8,748.6 523.6,748.7 524.3,748.6 525.1,748.6 525.9,748.6 526.7,748.7 527.5,748.6 528.3,748.6 529.1,748.7 529.9,748.6 530.7,748.5 531.5,748.6 532.3,748.6 533,748.5 533.8,748.5 534.6,748.6 535.4,748.5 536.2,748.5 537,748.5 537.8,748.5 538.6,748.4 539.4,748.4 540.2,748.4 541,748.3 541.7,748.2 542.5,748.2 543.3,748.2 544.1,748.1 544.9,748 545.7,748 546.5,747.8 547.3,747.7 548.1,747.6 548.9,747.5 549.7,747.2 550.4,747 551.2,746.8 552,746.4 552.8,746.1 553.6,745.7 554.4,745.2 555.2,744.6 556,744 556.8,743.4 557.6,742.6 558.4,741.8 559.1,741.1 559.9,740.4 560.7,739.6 561.5,739 562.3,738.7 563.1,738.2 563.9,738.1 564.7,738.2 565.5,738.3 566.3,738.6 567.1,739 567.8,739.5 568.6,740 569.4,740.6 570.2,741.2 571,741.8 571.8,742.3 572.6,742.9 573.4,743.5 574.2,743.8 575,744.1 575.8,744.5 576.5,744.7 577.3,744.7 578.1,744.8 578.9,745 579.7,744.9 580.5,744.8 581.3,744.8 582.1,744.8 582.9,744.8 583.7,744.9 584.5,745.1 585.2,745.2 586,745.3 586.8,745.5 587.6,745.7 588.4,745.8 589.2,746 590,746.2 590.8,746.3 591.6,746.4 592.4,746.7 593.2,746.8 593.9,746.9 594.7,747.1 595.5,747.3 596.3,747.3 597.1,747.4 597.9,747.6 598.7,747.7 599.5,747.7 600.3,747.8 601.1,748 601.9,748 602.7,748 603.4,748.1 604.2,748.2 605,748.1 605.8,748.2 606.6,748.3 607.4,748.3 608.2,748.3 609,748.4 609.8,748.4 610.6,748.4 611.4,748.4 612.1,748.5 612.9,748.4 613.7,748.4 614.5,748.5 615.3,748.5 616.1,748.5 616.9,748.5 617.7,748.6 618.5,748.5 619.3,748.5 620.1,748.6 620.8,748.6 621.6,748.6 622.4,748.6 623.2,748.7 624,748.6 624.8,748.6 625.6,748.7 626.4,748.6 627.2,748.6 628,748.6 628.8,748.7 629.5,748.6 630.3,748.6 631.1,748.7 631.9,748.7 632.7,748.6 633.5,748.7 634.3,748.7 635.1,748.7 635.9,748.7 636.7,748.7 637.5,748.7 638.2,748.6 639,748.7 639.8,748.8 640.6,748.7 641.4,748.7 642.2,748.7 643,748.7 643.8,748.7 644.6,748.7 645.4,748.8 646.2,748.7 646.9,748.7 647.7,748.8 648.5,748.7 649.3,748.7 650.1,748.7 650.9,748.8 651.7,748.7 652.5,748.7 652.5,748.9Z" fill="#10ffaa" stroke="#10ffaa" stroke-width="1.5" stroke-linejoin="round"/>
<path d="M137.3,762.2 137.3,751.9 138.1,753.6 138.9,757 139.7,759.9 140.5,761.3 141.3,761.9 142,762 142.8,761.9 143.6,761.9 144.4,762 145.2,761.9 146,761.9 146.8,762 147.6,762 148.4,761.9 149.2,761.9 150,762 150.7,761.9 151.5,761.8 152.3,761.9 153.1,761.9 153.9,761.8 154.7,761.8 155.5,761.9 156.3,761.8 157.1,761.7 157.9,761.8 158.7,761.8 159.4,761.7 160.2,761.6 161,761.7 161.8,761.5 162.6,761.4 163.4,761.4 164.2,761.3 165,761.1 165.8,761 166.6,760.9 167.4,760.5 168.1,760.2 168.9,759.7 169.7,759.1 170.5,758 171.3,756.7 172.1,755 172.9,752.4 173.7,749.2 174.5,745 175.3,739.7 176.1,733.2 176.8,725.7 177.6,717.3 178.4,708 179.2,698.4 180,689.1 180.8,680.4 181.6,673.1 182.4,667.7 183.2,664.8 184,664.4 184.8,666.3 185.5,670.3 186.3,676 187.1,683 187.9,691 188.7,699.4 189.5,707.6 190.3,715.4 191.1,722.6 191.9,728.7 192.7,733.7 193.5,737.7 194.3,740.6 195,742.3 195.8,743.2 196.6,743.2 197.4,742.5 198.2,741.2 199,739.5 199.8,737.4 200.6,734.9 201.4,732.3 202.2,729.8 203,727.2 203.7,724.7 204.5,722.5 205.3,720.6 206.1,719 206.9,718 207.7,717.5 208.5,717.5 209.3,718.1 210.1,719.4 210.9,721.2 211.7,723.4 212.4,726 213.2,728.9 214,731.9 214.8,734.9 215.6,738 216.4,741 217.2,743.7 218,746.2 218.8,748.6 219.6,750.5 220.4,752.3 221.1,753.8 221.9,755.1 222.7,756.1 223.5,757 224.3,757.8 225.1,758.4 225.9,758.8 226.7,759.2 227.5,759.6 228.3,759.8 229.1,760 229.8,760.3 230.6,760.4 231.4,760.5 232.2,760.7 233,760.9 233.8,760.9 234.6,761 235.4,761.2 236.2,761.2 237,761.2 237.8,761.3 238.5,761.4 239.3,761.4 240.1,761.5 240.9,761.6 241.7,761.6 242.5,761.6 243.3,761.6 244.1,761.7 244.9,761.7 245.7,761.7 246.5,761.8 247.2,761.7 248,761.7 248.8,761.8 249.6,761.8 250.4,761.8 251.2,761.8 252,761.9 252.8,761.8 253.6,761.8 254.4,761.8 255.2,761.9 255.9,761.8 256.7,761.8 257.5,761.9 258.3,761.8 259.1,761.8 259.9,761.9 260.7,761.9 261.5,761.8 262.3,761.8 263.1,761.9 263.9,761.8 264.6,761.8 265.4,761.9 266.2,761.9 267,761.8 267.8,761.8 268.6,761.9 269.4,761.8 270.2,761.8 271,761.8 271.8,761.9 272.6,761.8 273.4,761.8 274.1,761.9 274.9,761.8 275.7,761.7 276.5,761.8 277.3,761.8 278.1,761.7 278.9,761.7 279.7,761.8 280.5,761.7 281.3,761.7 282.1,761.7 282.8,761.8 283.6,761.7 284.4,761.7 285.2,761.8 286,761.7 286.8,761.6 287.6,761.7 288.4,761.7 289.2,761.6 290,761.6 290.8,761.6 291.5,761.5 292.3,761.5 293.1,761.5 293.9,761.5 294.7,761.4 295.5,761.3 296.3,761.4 297.1,761.2 297.9,761.1 298.7,761.1 299.5,761.1 300.2,760.9 301,760.9 301.8,760.8 302.6,760.6 303.4,760.5 304.2,760.4 305,760.3 305.8,760 306.6,759.9 307.4,759.7 308.2,759.4 308.9,759 309.7,758.7 310.5,758.2 311.3,757.4 312.1,756.5 312.9,755.2 313.7,753.3 314.5,750.9 315.3,747.6 316.1,743.3 316.9,737.6 317.6,730.6 318.4,722.1 319.2,711.7 320,699.7 320.8,686.4 321.6,671.8 322.4,656.5 323.2,641.3 324,626.7 324.8,613.3 325.6,602.2 326.3,593.9 327.1,588.7 327.9,586.7 328.7,587 329.5,589.2 330.3,592.8 331.1,597.6 331.9,603.2 332.7,609.1 333.5,614.9 334.3,620.2 335,624.9 335.8,628.6 336.6,631.4 337.4,633.4 338.2,634.7 339,635.7 339.8,636.8 340.6,638.5 341.4,640.9 342.2,644.4 343,648.7 343.7,653.4 344.5,658.7 345.3,664.4 346.1,670.6 346.9,676.8 347.7,683.3 348.5,689.8 349.3,696.1 350.1,702.2 350.9,708.1 351.7,713.7 352.5,718.7 353.2,723.4 354,727.8 354.8,731.5 355.6,734.9 356.4,737.9 357.2,740.6 358,742.8 358.8,744.8 359.6,746.6 360.4,748 361.2,749.3 361.9,750.5 362.7,751.5 363.5,752.3 364.3,753.1 365.1,753.9 365.9,754.5 366.7,755 367.5,755.6 368.3,756.2 369.1,756.5 369.9,757 370.6,757.4 371.4,757.7 372.2,758 373,758.4 373.8,758.7 374.6,758.9 375.4,759.2 376.2,759.5 377,759.6 377.8,759.8 378.6,760 379.3,760.2 380.1,760.3 380.9,760.4 381.7,760.6 382.5,760.6 383.3,760.7 384.1,760.8 384.9,761 385.7,761 386.5,761 387.3,761.2 388,761.2 388.8,761.2 389.6,761.3 390.4,761.4 391.2,761.3 392,761.4 392.8,761.5 393.6,761.5 394.4,761.4 395.2,761.5 396,761.6 396.7,761.5 397.5,761.5 398.3,761.6 399.1,761.6 399.9,761.6 400.7,761.6 401.5,761.7 402.3,761.6 403.1,761.6 403.9,761.7 404.7,761.7 405.4,761.7 406.2,761.7 407,761.8 407.8,761.7 408.6,761.7 409.4,761.8 410.2,761.8 411,761.7 411.8,761.8 412.6,761.8 413.4,761.8 414.1,761.8 414.9,761.9 415.7,761.8 416.5,761.8 417.3,761.8 418.1,761.9 418.9,761.8 419.7,761.8 420.5,761.9 421.3,761.8 422.1,761.8 422.8,761.9 423.6,761.9 424.4,761.8 425.2,761.8 426,761.9 426.8,761.9 427.6,761.8 428.4,761.9 429.2,761.9 430,761.9 430.8,761.9 431.6,762 432.3,761.9 433.1,761.9 433.9,761.9 434.7,761.9 435.5,761.9 436.3,761.9 437.1,762 437.9,761.9 438.7,761.9 439.5,762 440.3,762 441,761.9 441.8,761.9 442.6,762 443.4,761.9 444.2,761.9 445,762 445.8,762 446.6,761.9 447.4,761.9 448.2,762 449,761.9 449.7,761.9 450.5,762 451.3,762 452.1,761.9 452.9,761.9 453.7,762 454.5,762 455.3,761.9 456.1,762 456.9,762 457.7,761.9 458.4,762 459.2,762.1 460,762 460.8,761.9 461.6,762 462.4,762 463.2,761.9 464,762 464.8,762.1 465.6,762 466.4,762 467.1,762 467.9,762 468.7,762 469.5,762 470.3,762.1 471.1,762 471.9,762 472.7,762 473.5,762 474.3,762 475.1,762 475.8,762.1 476.6,762 477.4,762 478.2,762 479,762 479.8,762 480.6,762 481.4,762.1 482.2,762 483,762 483.8,762 484.5,762 485.3,762 486.1,762 486.9,762.1 487.7,762 488.5,762 489.3,762 490.1,762 490.9,762 491.7,762 492.5,762.1 493.2,762 494,762 494.8,762 495.6,762 496.4,762 497.2,762 498,762.1 498.8,762 499.6,762 500.4,762 501.2,762 501.9,762 502.7,762 503.5,762.1 504.3,762 505.1,762 505.9,762 506.7,762 507.5,761.9 508.3,762 509.1,762 509.9,761.9 510.7,761.9 511.4,762 512.2,762 513,761.9 513.8,762 514.6,762 515.4,761.9 516.2,761.9 517,762 517.8,761.9 518.6,761.9 519.4,761.9 520.1,761.9 520.9,761.8 521.7,761.8 522.5,761.9 523.3,761.8 524.1,761.8 524.9,761.8 525.7,761.8 526.5,761.7 527.3,761.6 528.1,761.7 528.8,761.6 529.6,761.5 530.4,761.5 531.2,761.4 532,761.3 532.8,761.2 533.6,761.2 534.4,761 535.2,760.8 536,760.7 536.8,760.5 537.5,760.2 538.3,759.9 539.1,759.6 539.9,759.1 540.7,758.6 541.5,758.1 542.3,757.6 543.1,756.8 543.9,756 544.7,755.3 545.5,754.4 546.2,753.5 547,752.8 547.8,752 548.6,751.3 549.4,750.7 550.2,750.5 551,750.2 551.8,750.2 552.6,750.5 553.4,750.8 554.2,751.2 554.9,751.7 555.7,752.4 556.5,753 557.3,753.6 558.1,754.4 558.9,755 559.7,755.6 560.5,756.1 561.3,756.7 562.1,757 562.9,757.3 563.6,757.6 564.4,757.8 565.2,757.8 566,757.8 566.8,757.9 567.6,757.8 568.4,757.8 569.2,757.8 570,757.9 570.8,757.9 571.6,758.1 572.3,758.3 573.1,758.4 573.9,758.5 574.7,758.7 575.5,758.9 576.3,759.1 577.1,759.3 577.9,759.5 578.7,759.6 579.5,759.8 580.3,760 581,760.2 581.8,760.3 582.6,760.4 583.4,760.7 584.2,760.7 585,760.8 585.8,761 586.6,761.1 587.4,761.1 588.2,761.2 589,761.3 589.8,761.3 590.5,761.4 591.3,761.5 592.1,761.5 592.9,761.5 593.7,761.5 594.5,761.7 595.3,761.6 596.1,761.6 596.9,761.7 597.7,761.7 598.5,761.7 599.2,761.7 600,761.9 600.8,761.8 601.6,761.8 602.4,761.9 603.2,761.9 604,761.8 604.8,761.9 605.6,762 606.4,761.9 607.2,761.9 607.9,761.9 608.7,762 609.5,761.9 610.3,761.9 611.1,762 611.9,761.9 612.7,761.9 613.5,762 614.3,762 615.1,761.9 615.9,762 616.6,762.1 617.4,762 618.2,762 619,762 619.8,762 620.6,762 621.4,762 622.2,762.1 623,762 623.8,762 624.6,762.1 625.3,762.1 626.1,762 626.9,762 627.7,762.1 628.5,762 629.3,762 630.1,762.1 630.9,762.1 631.7,762 632.5,762 633.3,762.1 634,762 634.8,762 635.6,762.1 636.4,762.1 637.2,762 638,762.1 638.8,762.1 639.6,762 639.6,762.2Z" fill="#ae26fa" stroke="#ae26fa" stroke-width="1.5" stroke-linejoin="round"/>
<path d="M124.4,775.5 124.4,766.7 125.2,768 126,771 126.8,773.6 127.6,774.8 128.4,775.2 129.1,775.3 129.9,775.4 130.7,775.3 131.5,775.3 132.3,775.4 133.1,775.3 133.9,775.3 134.7,775.3 135.5,775.3 136.3,775.3 137.1,775.3 137.8,775.3 138.6,775.3 139.4,775.2 140.2,775.3 141,775.3 141.8,775.2 142.6,775.2 143.4,775.3 144.2,775.2 145,775.1 145.8,775.1 146.5,775.1 147.3,775 148.1,775 148.9,775 149.7,774.9 150.5,774.8 151.3,774.8 152.1,774.7 152.9,774.5 153.7,774.3 154.5,774.2 155.2,773.8 156,773.3 156.8,772.8 157.6,772 158.4,770.8 159.2,769.2 160,767.2 160.8,764.3 161.6,760.7 162.4,756.3 163.2,750.9 163.9,744.5 164.7,737.4 165.5,729.8 166.3,721.7 167.1,713.8 167.9,706.6 168.7,700.4 169.5,695.7 170.3,692.9 171.1,692.4 171.9,693.6 172.6,696.6 173.4,701.2 174.2,707 175,713.4 175.8,720.4 176.6,727.4 177.4,734 178.2,740.1 179,745.6 179.8,750.1 180.6,753.6 181.4,756.2 182.1,758 182.9,758.9 183.7,759 184.5,758.6 185.3,757.7 186.1,756.2 186.9,754.5 187.7,752.6 188.5,750.4 189.3,748.2 190.1,746 190.8,743.9 191.6,742 192.4,740.4 193.2,739.1 194,738.1 194.8,737.6 195.6,737.6 196.4,738.1 197.2,739 198,740.5 198.8,742.4 199.5,744.4 200.3,746.8 201.1,749.4 201.9,751.9 202.7,754.4 203.5,756.9 204.3,759.4 205.1,761.4 205.9,763.4 206.7,765.2 207.5,766.7 208.2,768 209,769.2 209.8,770.2 210.6,770.9 211.4,771.6 212.2,772.2 213,772.6 213.8,772.9 214.6,773.2 215.4,773.5 216.2,773.6 216.9,773.8 217.7,774 218.5,774.1 219.3,774.2 220.1,774.3 220.9,774.5 221.7,774.5 222.5,774.5 223.3,774.7 224.1,774.7 224.9,774.7 225.6,774.8 226.4,774.9 227.2,774.9 228,774.9 228.8,775 229.6,775 230.4,775 231.2,775.1 232,775.1 232.8,775.1 233.6,775.1 234.3,775.2 235.1,775.2 235.9,775.1 236.7,775.2 237.5,775.2 238.3,775.2 239.1,775.2 239.9,775.2 240.7,775.2 241.5,775.2 242.3,775.2 243,775.3 243.8,775.2 244.6,775.2 245.4,775.3 246.2,775.2 247,775.2 247.8,775.2 248.6,775.3 249.4,775.2 250.2,775.2 251,775.3 251.7,775.2 252.5,775.2 253.3,775.2 254.1,775.3 254.9,775.2 255.7,775.2 256.5,775.2 257.3,775.2 258.1,775.1 258.9,775.2 259.7,775.2 260.5,775.1 261.2,775.1 262,775.2 262.8,775.2 263.6,775.1 264.4,775.2 265.2,775.2 266,775.1 266.8,775.1 267.6,775.2 268.4,775.1 269.2,775.1 269.9,775.1 270.7,775.1 271.5,775 272.3,775 273.1,775.1 273.9,775 274.7,775 275.5,775 276.3,775 277.1,774.9 277.9,774.9 278.6,775 279.4,774.9 280.2,774.8 281,774.8 281.8,774.8 282.6,774.7 283.4,774.7 284.2,774.7 285,774.6 285.8,774.5 286.6,774.4 287.3,774.4 288.1,774.2 288.9,774.1 289.7,774.1 290.5,773.9 291.3,773.8 292.1,773.7 292.9,773.5 293.7,773.3 294.5,773 295.3,772.9 296,772.5 296.8,772 297.6,771.5 298.4,770.8 299.2,769.7 300,768.4 300.8,766.6 301.6,764 302.4,760.5 303.2,756.2 304,750.6 304.7,743.4 305.5,734.8 306.3,724.7 307.1,712.8 307.9,699.6 308.7,685.4 309.5,670.4 310.3,655.4 311.1,641.1 311.9,628.2 312.7,617.2 313.4,608.9 314.2,603.7 315,601.7 315.8,601.8 316.6,603.9 317.4,607.6 318.2,612.4 319,618 319.8,624.1 320.6,630 321.4,635.5 322.1,640.5 322.9,644.6 323.7,647.7 324.5,650 325.3,651.9 326.1,653.3 326.9,654.7 327.7,656.6 328.5,659.4 329.3,663 330.1,667.3 330.8,672.1 331.6,677.3 332.4,682.8 333.2,688.8 334,695 334.8,701.1 335.6,707.3 336.4,713.4 337.2,719.3 338,724.8 338.8,730 339.6,735 340.3,739.3 341.1,743.3 341.9,746.9 342.7,750.1 343.5,752.8 344.3,755.3 345.1,757.5 345.9,759.3 346.7,760.9 347.5,762.3 348.3,763.5 349,764.5 349.8,765.5 350.6,766.4 351.4,767 352.2,767.7 353,768.3 353.8,768.9 354.6,769.3 355.4,769.8 356.2,770.3 357,770.6 357.7,771 358.5,771.4 359.3,771.7 360.1,771.9 360.9,772.2 361.7,772.5 362.5,772.7 363.3,772.9 364.1,773.2 364.9,773.3 365.7,773.4 366.4,773.6 367.2,773.8 368,773.8 368.8,773.9 369.6,774.1 370.4,774.2 371.2,774.2 372,774.3 372.8,774.5 373.6,774.5 374.4,774.5 375.1,774.6 375.9,774.6 376.7,774.6 377.5,774.7 378.3,774.8 379.1,774.8 379.9,774.8 380.7,774.9 381.5,774.9 382.3,774.8 383.1,774.9 383.8,775 384.6,774.9 385.4,774.9 386.2,775 387,775 387.8,775 388.6,775 389.4,775.1 390.2,775 391,775 391.8,775.1 392.5,775.1 393.3,775 394.1,775.1 394.9,775.2 395.7,775.1 396.5,775.1 397.3,775.2 398.1,775.1 398.9,775.1 399.7,775.2 400.5,775.2 401.2,775.1 402,775.1 402.8,775.2 403.6,775.2 404.4,775.1 405.2,775.2 406,775.2 406.8,775.2 407.6,775.2 408.4,775.3 409.2,775.2 409.9,775.2 410.7,775.2 411.5,775.3 412.3,775.2 413.1,775.2 413.9,775.3 414.7,775.2 415.5,775.2 416.3,775.3 417.1,775.3 417.9,775.2 418.7,775.2 419.4,775.3 420.2,775.3 421,775.2 421.8,775.3 422.6,775.3 423.4,775.2 424.2,775.3 425,775.3 425.8,775.3 426.6,775.2 427.4,775.3 428.1,775.3 428.9,775.3 429.7,775.3 430.5,775.4 431.3,775.3 432.1,775.3 432.9,775.3 433.7,775.4 434.5,775.3 435.3,775.3 436.1,775.4 436.8,775.3 437.6,775.3 438.4,775.3 439.2,775.4 440,775.3 440.8,775.3 441.6,775.4 442.4,775.3 443.2,775.3 444,775.3 444.8,775.4 445.5,775.3 446.3,775.3 447.1,775.4 447.9,775.3 448.7,775.3 449.5,775.4 450.3,775.4 451.1,775.3 451.9,775.3 452.7,775.4 453.5,775.3 454.2,775.3 455,775.4 455.8,775.4 456.6,775.3 457.4,775.3 458.2,775.4 459,775.3 459.8,775.3 460.6,775.4 461.4,775.4 462.2,775.3 462.9,775.3 463.7,775.4 464.5,775.3 465.3,775.3 466.1,775.4 466.9,775.4 467.7,775.3 468.5,775.3 469.3,775.4 470.1,775.3 470.9,775.3 471.6,775.4 472.4,775.4 473.2,775.3 474,775.3 474.8,775.4 475.6,775.3 476.4,775.3 477.2,775.4 478,775.4 478.8,775.3 479.6,775.3 480.3,775.4 481.1,775.3 481.9,775.3 482.7,775.4 483.5,775.4 484.3,775.3 485.1,775.3 485.9,775.4 486.7,775.3 487.5,775.3 488.3,775.4 489,775.4 489.8,775.3 490.6,775.3 491.4,775.4 492.2,775.3 493,775.3 493.8,775.4 494.6,775.4 495.4,775.3 496.2,775.3 497,775.4 497.8,775.3 498.5,775.3 499.3,775.4 500.1,775.3 500.9,775.3 501.7,775.3 502.5,775.4 503.3,775.3 504.1,775.3 504.9,775.3 505.7,775.3 506.5,775.2 507.2,775.3 508,775.3 508.8,775.2 509.6,775.2 510.4,775.2 511.2,775.2 512,775.1 512.8,775.1 513.6,775.2 514.4,775 515.2,775 515.9,775 516.7,774.9 517.5,774.8 518.3,774.8 519.1,774.8 519.9,774.6 520.7,774.5 521.5,774.4 522.3,774.3 523.1,774.1 523.9,773.9 524.6,773.7 525.4,773.4 526.2,773.1 527,772.8 527.8,772.3 528.6,771.7 529.4,771.2 530.2,770.6 531,769.8 531.8,769.1 532.6,768.4 533.3,767.6 534.1,766.8 534.9,766.1 535.7,765.5 536.5,764.9 537.3,764.6 538.1,764.5 538.9,764.5 539.7,764.6 540.5,765 541.3,765.4 542,765.9 542.8,766.4 543.6,767.1 544.4,767.7 545.2,768.3 546,768.9 546.8,769.5 547.6,769.9 548.4,770.4 549.2,770.8 550,771.1 550.7,771.3 551.5,771.5 552.3,771.7 553.1,771.6 553.9,771.6 554.7,771.7 555.5,771.6 556.3,771.6 557.1,771.7 557.9,771.8 558.7,771.9 559.4,772 560.2,772.2 561,772.3 561.8,772.4 562.6,772.6 563.4,772.9 564.2,772.9 565,773.1 565.8,773.4 566.6,773.5 567.4,773.6 568.1,773.8 568.9,773.9 569.7,774 570.5,774.1 571.3,774.3 572.1,774.3 572.9,774.4 573.7,774.5 574.5,774.6 575.3,774.6 576.1,774.7 576.9,774.8 577.6,774.8 578.4,774.8 579.2,774.9 580,775 580.8,774.9 581.6,775 582.4,775.1 583.2,775.1 584,775 584.8,775.1 585.6,775.2 586.3,775.1 587.1,775.1 587.9,775.2 588.7,775.2 589.5,775.2 590.3,775.2 591.1,775.3 591.9,775.2 592.7,775.2 593.5,775.3 594.3,775.3 595,775.2 595.8,775.3 596.6,775.3 597.4,775.3 598.2,775.3 599,775.4 599.8,775.3 600.6,775.3 601.4,775.4 602.2,775.4 603,775.3 603.7,775.3 604.5,775.4 605.3,775.4 606.1,775.3 606.9,775.4 607.7,775.4 608.5,775.3 609.3,775.4 610.1,775.5 610.9,775.4 611.7,775.4 612.4,775.4 613.2,775.4 614,775.4 614.8,775.4 615.6,775.5 616.4,775.4 617.2,775.4 618,775.4 618.8,775.4 619.6,775.4 620.4,775.4 621.1,775.5 621.9,775.4 622.7,775.4 623.5,775.4 624.3,775.4 625.1,775.4 625.9,775.4 626.7,775.5 626.7,775.5Z" fill="#385010" stroke="#385010" stroke-width="1.5" stroke-linejoin="round"/>
<path d="M111.5,788.9 111.5,786.7 112.3,787.1 113.1,787.7 113.9,788.2 114.7,788.6 115.5,788.7 116.2,788.6 117,788.7 117.8,788.7 118.6,788.6 119.4,788.6 120.2,788.7 121,788.7 121.8,788.6 122.6,788.6 123.4,788.7 124.2,788.6 124.9,788.6 125.7,788.7 126.5,788.6 127.3,788.6 128.1,788.6 128.9,788.6 129.7,788.5 130.5,788.5 131.3,788.6 132.1,788.5 132.9,788.4 133.6,788.5 134.4,788.5 135.2,788.4 136,788.3 136.8,788.3 137.6,788.2 138.4,788.1 139.2,788 140,787.9 140.8,787.7 141.6,787.5 142.3,787.2 143.1,786.8 143.9,786.1 144.7,785.3 145.5,784.2 146.3,782.6 147.1,780.5 147.9,777.9 148.7,774.4 149.5,770.1 150.3,765 151,759.1 151.8,752.2 152.6,745 153.4,737.5 154.2,729.9 155,722.9 155.8,717 156.6,712.4 157.4,709.4 158.2,708.6 159,709.6 159.7,712.2 160.5,716.2 161.3,721.5 162.1,727.6 162.9,734.1 163.7,740.7 164.5,747.3 165.3,753.1 166.1,758.4 166.9,762.9 167.7,766.6 168.5,769.2 169.2,771.1 170,772.2 170.8,772.5 171.6,772.1 172.4,771.3 173.2,770.1 174,768.3 174.8,766.5 175.6,764.5 176.4,762.3 177.2,760.1 177.9,758.1 178.7,756.3 179.5,754.6 180.3,753.3 181.1,752.4 181.9,751.8 182.7,751.7 183.5,752.1 184.3,753 185.1,754.3 185.9,756 186.6,758.2 187.4,760.3 188.2,762.7 189,765.3 189.8,767.8 190.6,770.1 191.4,772.4 192.2,774.7 193,776.5 193.8,778.3 194.6,779.9 195.3,781.2 196.1,782.3 196.9,783.3 197.7,784.2 198.5,784.8 199.3,785.4 200.1,785.9 200.9,786.3 201.7,786.5 202.5,786.8 203.3,787.1 204,787.2 204.8,787.3 205.6,787.5 206.4,787.6 207.2,787.6 208,787.8 208.8,787.9 209.6,787.9 210.4,788 211.2,788.1 212,788.1 212.7,788.1 213.5,788.2 214.3,788.3 215.1,788.3 215.9,788.3 216.7,788.4 217.5,788.4 218.3,788.4 219.1,788.4 219.9,788.5 220.7,788.5 221.4,788.5 222.2,788.5 223,788.5 223.8,788.5 224.6,788.5 225.4,788.6 226.2,788.5 227,788.5 227.8,788.6 228.6,788.6 229.4,788.5 230.1,788.6 230.9,788.6 231.7,788.5 232.5,788.5 233.3,788.6 234.1,788.6 234.9,788.5 235.7,788.6 236.5,788.6 237.3,788.5 238.1,788.5 238.8,788.6 239.6,788.6 240.4,788.5 241.2,788.5 242,788.6 242.8,788.5 243.6,788.5 244.4,788.6 245.2,788.5 246,788.5 246.8,788.5 247.6,788.6 248.3,788.5 249.1,788.5 249.9,788.6 250.7,788.5 251.5,788.5 252.3,788.5 253.1,788.5 253.9,788.5 254.7,788.4 255.5,788.5 256.3,788.5 257,788.4 257.8,788.4 258.6,788.5 259.4,788.4 260.2,788.4 261,788.4 261.8,788.4 262.6,788.3 263.4,788.3 264.2,788.4 265,788.3 265.7,788.2 266.5,788.3 267.3,788.2 268.1,788.1 268.9,788.1 269.7,788.1 270.5,788 271.3,788 272.1,788 272.9,787.9 273.7,787.8 274.4,787.7 275.2,787.7 276,787.5 276.8,787.4 277.6,787.4 278.4,787.2 279.2,787 280,786.9 280.8,786.7 281.6,786.4 282.4,786.1 283.1,785.9 283.9,785.4 284.7,784.8 285.5,784.1 286.3,783.1 287.1,781.6 287.9,779.6 288.7,777.1 289.5,773.6 290.3,769.2 291.1,763.6 291.8,756.6 292.6,748 293.4,737.9 294.2,726.4 295,713.4 295.8,699.5 296.6,685 297.4,670.5 298.2,656.5 299,643.9 299.8,633.2 300.5,625 301.3,619.7 302.1,617.6 302.9,617.6 303.7,619.4 304.5,622.8 305.3,627.5 306.1,632.9 306.9,638.7 307.7,644.5 308.5,649.9 309.2,654.6 310,658.6 310.8,661.9 311.6,664.2 312.4,665.9 313.2,667.4 314,669 314.8,670.9 315.6,673.8 316.4,677.7 317.2,681.9 317.9,686.7 318.7,692.1 319.5,697.7 320.3,703.6 321.1,709.8 321.9,716 322.7,722.1 323.5,728.1 324.3,734 325.1,739.5 325.9,744.6 326.7,749.3 327.4,753.8 328.2,757.6 329,761 329.8,764.2 330.6,766.9 331.4,769.2 332.2,771.3 333,773.2 333.8,774.6 334.6,775.9 335.4,777.2 336.1,778.2 336.9,779 337.7,779.8 338.5,780.7 339.3,781.2 340.1,781.8 340.9,782.4 341.7,782.9 342.5,783.2 343.3,783.7 344.1,784.2 344.8,784.4 345.6,784.7 346.4,785.1 347.2,785.4 348,785.6 348.8,785.9 349.6,786.2 350.4,786.3 351.2,786.5 352,786.7 352.8,786.9 353.5,787 354.3,787.1 355.1,787.3 355.9,787.3 356.7,787.4 357.5,787.6 358.3,787.7 359.1,787.7 359.9,787.8 360.7,787.9 361.5,787.9 362.2,787.9 363,788 363.8,788.1 364.6,788 365.4,788.1 366.2,788.2 367,788.2 367.8,788.2 368.6,788.3 369.4,788.3 370.2,788.2 370.9,788.3 371.7,788.4 372.5,788.3 373.3,788.3 374.1,788.4 374.9,788.4 375.7,788.3 376.5,788.4 377.3,788.5 378.1,788.4 378.9,788.4 379.6,788.5 380.4,788.5 381.2,788.4 382,788.5 382.8,788.5 383.6,788.5 384.4,788.5 385.2,788.5 386,788.5 386.8,788.5 387.6,788.5 388.3,788.6 389.1,788.5 389.9,788.5 390.7,788.6 391.5,788.6 392.3,788.5 393.1,788.5 393.9,788.6 394.7,788.5 395.5,788.5 396.3,788.6 397,788.6 397.8,788.5 398.6,788.6 399.4,788.6 400.2,788.6 401,788.6 401.8,788.6 402.6,788.6 403.4,788.6 404.2,788.6 405,788.7 405.8,788.6 406.5,788.6 407.3,788.7 408.1,788.6 408.9,788.6 409.7,788.6 410.5,788.7 411.3,788.6 412.1,788.6 412.9,788.7 413.7,788.7 414.5,788.6 415.2,788.7 416,788.7 416.8,788.6 417.6,788.6 418.4,788.7 419.2,788.7 420,788.6 420.8,788.7 421.6,788.7 422.4,788.6 423.2,788.6 423.9,788.7 424.7,788.7 425.5,788.6 426.3,788.7 427.1,788.7 427.9,788.6 428.7,788.7 429.5,788.7 430.3,788.7 431.1,788.6 431.9,788.7 432.6,788.7 433.4,788.7 434.2,788.7 435,788.7 435.8,788.7 436.6,788.7 437.4,788.7 438.2,788.7 439,788.7 439.8,788.7 440.6,788.8 441.3,788.7 442.1,788.7 442.9,788.7 443.7,788.7 444.5,788.7 445.3,788.7 446.1,788.8 446.9,788.7 447.7,788.7 448.5,788.7 449.3,788.7 450,788.7 450.8,788.7 451.6,788.8 452.4,788.7 453.2,788.7 454,788.7 454.8,788.7 455.6,788.7 456.4,788.7 457.2,788.8 458,788.7 458.7,788.7 459.5,788.7 460.3,788.7 461.1,788.7 461.9,788.7 462.7,788.8 463.5,788.7 464.3,788.7 465.1,788.7 465.9,788.7 466.7,788.7 467.4,788.7 468.2,788.8 469,788.7 469.8,788.7 470.6,788.7 471.4,788.7 472.2,788.7 473,788.7 473.8,788.8 474.6,788.7 475.4,788.7 476.1,788.7 476.9,788.7 477.7,788.7 478.5,788.7 479.3,788.8 480.1,788.7 480.9,788.7 481.7,788.7 482.5,788.7 483.3,788.6 484.1,788.7 484.9,788.8 485.6,788.7 486.4,788.6 487.2,788.7 488,788.7 488.8,788.6 489.6,788.6 490.4,788.7 491.2,788.6 492,788.6 492.8,788.7 493.6,788.6 494.3,788.6 495.1,788.6 495.9,788.7 496.7,788.5 497.5,788.5 498.3,788.5 499.1,788.5 499.9,788.4 500.7,788.4 501.5,788.5 502.3,788.3 503,788.3 503.8,788.3 504.6,788.2 505.4,788.1 506.2,788 507,788 507.8,787.8 508.6,787.7 509.4,787.6 510.2,787.4 511,787.2 511.7,787 512.5,786.8 513.3,786.4 514.1,785.9 514.9,785.6 515.7,785 516.5,784.4 517.3,783.8 518.1,783.1 518.9,782.3 519.7,781.5 520.4,780.7 521.2,779.9 522,779.1 522.8,778.5 523.6,778.1 524.4,777.6 525.2,777.5 526,777.6 526.8,777.7 527.6,778 528.4,778.4 529.1,779 529.9,779.5 530.7,780.1 531.5,780.8 532.3,781.5 533.1,782 533.9,782.6 534.7,783.2 535.5,783.6 536.3,784 537.1,784.4 537.8,784.6 538.6,784.7 539.4,784.9 540.2,785 541,784.9 541.8,784.9 542.6,785 543.4,785 544.2,785 545,785.1 545.8,785.3 546.5,785.4 547.3,785.5 548.1,785.7 548.9,785.8 549.7,785.9 550.5,786.1 551.3,786.4 552.1,786.5 552.9,786.6 553.7,786.8 554.5,787 555.2,787.1 556,787.2 556.8,787.4 557.6,787.5 558.4,787.6 559.2,787.7 560,787.8 560.8,787.8 561.6,787.9 562.4,788.1 563.2,788 564,788.1 564.7,788.2 565.5,788.2 566.3,788.2 567.1,788.3 567.9,788.4 568.7,788.3 569.5,788.4 570.3,788.5 571.1,788.4 571.9,788.4 572.7,788.5 573.4,788.5 574.2,788.5 575,788.5 575.8,788.6 576.6,788.6 577.4,788.5 578.2,788.6 579,788.6 579.8,788.6 580.6,788.6 581.4,788.7 582.1,788.6 582.9,788.6 583.7,788.7 584.5,788.7 585.3,788.6 586.1,788.6 586.9,788.7 587.7,788.7 588.5,788.7 589.3,788.7 590.1,788.7 590.8,788.7 591.6,788.7 592.4,788.8 593.2,788.7 594,788.7 594.8,788.7 595.6,788.8 596.4,788.7 597.2,788.7 598,788.8 598.8,788.7 599.5,788.7 600.3,788.8 601.1,788.8 601.9,788.7 602.7,788.7 603.5,788.8 604.3,788.7 605.1,788.7 605.9,788.8 606.7,788.8 607.5,788.7 608.2,788.7 609,788.8 609.8,788.8 610.6,788.7 611.4,788.8 612.2,788.8 613,788.7 613.8,788.7 613.8,788.9Z" fill="#000086" stroke="#000086" stroke-width="1.5" stroke-linejoin="round"/>
<path d="M98.6,802.2 98.6,798.5 99.4,799.1 100.2,800.4 101,801.3 101.8,801.8 102.6,802.1 103.3,802.1 104.1,802 104.9,802 105.7,802.1 106.5,802 107.3,802 108.1,802.1 108.9,802.1 109.7,802 110.5,802 111.3,802.1 112,802 112.8,802 113.6,802 114.4,802 115.2,801.9 116,802 116.8,802 117.6,801.9 118.4,801.9 119.2,802 120,801.9 120.7,801.8 121.5,801.9 122.3,801.9 123.1,801.8 123.9,801.7 124.7,801.7 125.5,801.6 126.3,801.5 127.1,801.4 127.9,801.4 128.7,801.1 129.4,800.8 130.2,800.6 131,800 131.8,799.3 132.6,798.5 133.4,797.3 134.2,795.6 135,793.4 135.8,790.8 136.6,787.5 137.4,783.4 138.1,778.9 138.9,773.7 139.7,768.1 140.5,762.2 141.3,756.5 142.1,751.1 142.9,746.3 143.7,742.7 144.5,740.4 145.3,739.4 146.1,739.9 146.8,741.8 147.6,744.8 148.4,748.6 149.2,753.2 150,758.2 150.8,763.3 151.6,768.3 152.4,773.1 153.2,777.2 154,780.8 154.8,783.8 155.6,786.1 156.3,787.6 157.1,788.6 157.9,789 158.7,788.9 159.5,788.2 160.3,787.3 161.1,786.2 161.9,784.6 162.7,783 163.5,781.5 164.3,779.7 165,778.1 165.8,776.6 166.6,775.4 167.4,774.2 168.2,773.5 169,773.1 169.8,772.9 170.6,773.2 171.4,773.9 172.2,774.9 173,776.1 173.7,777.7 174.5,779.5 175.3,781.3 176.1,783.2 176.9,785.2 177.7,787.1 178.5,788.8 179.3,790.5 180.1,792.2 180.9,793.5 181.7,794.7 182.4,795.9 183.2,796.9 184,797.6 184.8,798.3 185.6,798.9 186.4,799.3 187.2,799.7 188,800.1 188.8,800.3 189.6,800.5 190.4,800.7 191.1,800.9 191.9,801 192.7,801 193.5,801.2 194.3,801.3 195.1,801.3 195.9,801.4 196.7,801.5 197.5,801.5 198.3,801.5 199.1,801.6 199.8,801.7 200.6,801.6 201.4,801.7 202.2,801.8 203,801.8 203.8,801.8 204.6,801.8 205.4,801.9 206.2,801.8 207,801.9 207.8,802 208.5,801.9 209.3,801.9 210.1,801.9 210.9,802 211.7,801.9 212.5,801.9 213.3,802 214.1,801.9 214.9,801.9 215.7,802 216.5,802 217.2,801.9 218,801.9 218.8,802 219.6,802 220.4,801.9 221.2,802 222,802 222.8,801.9 223.6,802 224.4,802 225.2,801.9 225.9,801.9 226.7,802 227.5,802 228.3,801.9 229.1,801.9 229.9,802 230.7,801.9 231.5,801.9 232.3,802 233.1,802 233.9,801.9 234.7,801.9 235.4,802 236.2,801.9 237,801.9 237.8,801.9 238.6,801.9 239.4,801.9 240.2,801.9 241,802 241.8,801.9 242.6,801.8 243.4,801.9 244.1,801.9 244.9,801.8 245.7,801.8 246.5,801.9 247.3,801.8 248.1,801.8 248.9,801.8 249.7,801.8 250.5,801.7 251.3,801.8 252.1,801.8 252.8,801.7 253.6,801.7 254.4,801.7 255.2,801.7 256,801.6 256.8,801.6 257.6,801.6 258.4,801.5 259.2,801.4 260,801.4 260.8,801.4 261.5,801.2 262.3,801.2 263.1,801.2 263.9,801 264.7,800.9 265.5,800.9 266.3,800.7 267.1,800.5 267.9,800.4 268.7,800.3 269.5,800 270.2,799.7 271,799.4 271.8,798.9 272.6,798.2 273.4,797.3 274.2,796.2 275,794.5 275.8,792.3 276.6,789.5 277.4,785.8 278.2,781.1 278.9,775.4 279.7,768.5 280.5,760.3 281.3,751 282.1,740.7 282.9,729.5 283.7,717.8 284.5,706.3 285.3,695.2 286.1,685 286.9,676.4 287.6,669.8 288.4,665.5 289.2,663.5 290,663.4 290.8,664.9 291.6,667.4 292.4,671.1 293.2,675.5 294,680.1 294.8,684.6 295.6,689 296.3,693 297.1,696.1 297.9,698.7 298.7,700.8 299.5,702.2 300.3,703.5 301.1,704.9 301.9,706.7 302.7,709 303.5,712.2 304.3,716 305,719.9 305.8,724.2 306.6,728.9 307.4,733.9 308.2,738.8 309,743.8 309.8,748.9 310.6,753.7 311.4,758.4 312.2,762.9 313,767 313.8,770.8 314.5,774.3 315.3,777.5 316.1,780.2 316.9,782.6 317.7,784.8 318.5,786.7 319.3,788.3 320.1,789.7 320.9,791 321.7,792 322.5,792.8 323.2,793.7 324,794.4 324.8,795 325.6,795.6 326.4,796.2 327.2,796.6 328,797 328.8,797.4 329.6,797.8 330.4,798 331.2,798.4 331.9,798.7 332.7,798.9 333.5,799.2 334.3,799.4 335.1,799.7 335.9,799.8 336.7,800 337.5,800.2 338.3,800.3 339.1,800.4 339.9,800.6 340.6,800.8 341.4,800.8 342.2,800.9 343,801.1 343.8,801.1 344.6,801.1 345.4,801.2 346.2,801.3 347,801.3 347.8,801.4 348.6,801.5 349.3,801.5 350.1,801.5 350.9,801.6 351.7,801.6 352.5,801.6 353.3,801.6 354.1,801.7 354.9,801.7 355.7,801.7 356.5,801.7 357.3,801.8 358,801.7 358.8,801.7 359.6,801.9 360.4,801.8 361.2,801.8 362,801.8 362.8,801.9 363.6,801.8 364.4,801.8 365.2,801.9 366,801.8 366.7,801.8 367.5,801.9 368.3,801.9 369.1,801.8 369.9,801.9 370.7,802 371.5,801.9 372.3,801.9 373.1,801.9 373.9,801.9 374.7,801.9 375.4,801.9 376.2,802 377,801.9 377.8,801.9 378.6,802 379.4,802 380.2,801.9 381,801.9 381.8,802 382.6,802 383.4,801.9 384.1,802 384.9,802 385.7,801.9 386.5,802 387.3,802.1 388.1,802 388.9,802 389.7,802 390.5,802 391.3,802 392.1,802 392.9,802.1 393.6,802 394.4,802 395.2,802.1 396,802 396.8,802 397.6,802 398.4,802.1 399.2,802 400,802 400.8,802.1 401.6,802 402.3,802 403.1,802 403.9,802.1 404.7,802 405.5,802 406.3,802.1 407.1,802.1 407.9,802 408.7,802 409.5,802.1 410.3,802 411,802 411.8,802.1 412.6,802.1 413.4,802 414.2,802.1 415,802.1 415.8,802 416.6,802 417.4,802.1 418.2,802.1 419,802 419.7,802.1 420.5,802.1 421.3,802 422.1,802 422.9,802.1 423.7,802.1 424.5,802 425.3,802.1 426.1,802.1 426.9,802 427.7,802 428.4,802.1 429.2,802.1 430,802 430.8,802.1 431.6,802.1 432.4,802 433.2,802 434,802.1 434.8,802.1 435.6,802 436.4,802.1 437.1,802.1 437.9,802 438.7,802 439.5,802.1 440.3,802.1 441.1,802 441.9,802.1 442.7,802.1 443.5,802.1 444.3,802.1 445.1,802.1 445.8,802.1 446.6,802 447.4,802.1 448.2,802.1 449,802.1 449.8,802.1 450.6,802.1 451.4,802.1 452.2,802 453,802.1 453.8,802.1 454.5,802 455.3,802.1 456.1,802.1 456.9,802.1 457.7,802 458.5,802.1 459.3,802.1 460.1,802 460.9,802 461.7,802.1 462.5,802.1 463.2,802 464,802.1 464.8,802.1 465.6,802 466.4,802 467.2,802.1 468,802.1 468.8,802 469.6,802.1 470.4,802.1 471.2,802 472,802 472.7,802.1 473.5,802 474.3,802 475.1,802.1 475.9,802.1 476.7,802 477.5,802 478.3,802.1 479.1,802 479.9,802 480.7,802 481.4,802 482.2,801.9 483,801.9 483.8,802 484.6,801.9 485.4,801.9 486.2,801.9 487,801.9 487.8,801.8 488.6,801.8 489.4,801.8 490.1,801.7 490.9,801.6 491.7,801.7 492.5,801.6 493.3,801.5 494.1,801.4 494.9,801.4 495.7,801.2 496.5,801.1 497.3,801 498.1,800.8 498.8,800.6 499.6,800.3 500.4,800.1 501.2,799.7 502,799.3 502.8,798.9 503.6,798.4 504.4,797.8 505.2,797.2 506,796.6 506.8,795.9 507.5,795.1 508.3,794.5 509.1,793.9 509.9,793.3 510.7,792.8 511.5,792.6 512.3,792.4 513.1,792.4 513.9,792.6 514.7,792.9 515.5,793.2 516.2,793.7 517,794.3 517.8,794.7 518.6,795.2 519.4,795.9 520.2,796.4 521,796.8 521.8,797.3 522.6,797.8 523.4,798.1 524.2,798.3 524.9,798.6 525.7,798.7 526.5,798.8 527.3,798.9 528.1,799 528.9,798.9 529.7,798.9 530.5,798.9 531.3,799 532.1,799 532.9,799.1 533.6,799.3 534.4,799.4 535.2,799.5 536,799.7 536.8,799.8 537.6,799.9 538.4,800 539.2,800.3 540,800.3 540.8,800.4 541.6,800.6 542.3,800.7 543.1,800.8 543.9,800.9 544.7,801.1 545.5,801.1 546.3,801.2 547.1,801.3 547.9,801.4 548.7,801.4 549.5,801.5 550.3,801.6 551.1,801.6 551.8,801.6 552.6,801.7 553.4,801.7 554.2,801.7 555,801.7 555.8,801.8 556.6,801.8 557.4,801.8 558.2,801.9 559,801.9 559.8,801.8 560.5,801.9 561.3,802 562.1,801.9 562.9,801.9 563.7,802 564.5,802 565.3,801.9 566.1,802 566.9,802.1 567.7,802 568.5,802 569.2,802.1 570,802 570.8,802 571.6,802 572.4,802.1 573.2,802 574,802 574.8,802.1 575.6,802.1 576.4,802 577.2,802.1 577.9,802.1 578.7,802.1 579.5,802.1 580.3,802.1 581.1,802.1 581.9,802.1 582.7,802.1 583.5,802.2 584.3,802.1 585.1,802.1 585.9,802.2 586.6,802.1 587.4,802.1 588.2,802.1 589,802.2 589.8,802.1 590.6,802.1 591.4,802.2 592.2,802.1 593,802.1 593.8,802.1 594.6,802.2 595.3,802.1 596.1,802.1 596.9,802.2 597.7,802.1 598.5,802.1 599.3,802.1 600.1,802.2 600.9,802.1 600.9,802.2Z" fill="#4a0606" stroke="#4a0606" stroke-width="1.5" stroke-linejoin="round"/>
<path d="M85.7,815.6 85.7,811.5 86.5,812 87.3,813.4 88.1,814.6 88.9,815.1 89.7,815.3 90.4,815.4 91.2,815.4 92,815.4 92.8,815.4 93.6,815.5 94.4,815.4 95.2,815.3 96,815.4 96.8,815.4 97.6,815.3 98.4,815.4 99.1,815.4 99.9,815.3 100.7,815.3 101.5,815.4 102.3,815.4 103.1,815.3 103.9,815.3 104.7,815.4 105.5,815.3 106.3,815.2 107.1,815.3 107.8,815.2 108.6,815.2 109.4,815.2 110.2,815.2 111,815.1 111.8,815 112.6,815 113.4,814.9 114.2,814.7 115,814.6 115.8,814.5 116.5,814.1 117.3,813.7 118.1,813.3 118.9,812.6 119.7,811.5 120.5,810.3 121.3,808.6 122.1,806.3 122.9,803.5 123.7,800.2 124.5,796 125.2,791.3 126,786 126.8,780.3 127.6,774.3 128.4,768.4 129.2,762.9 130,757.9 130.8,754 131.6,751.4 132.4,750.4 133.2,750.6 133.9,752.3 134.7,755.2 135.5,759 136.3,763.5 137.1,768.6 137.9,773.9 138.7,779 139.5,783.9 140.3,788.4 141.1,792.3 141.9,795.5 142.7,798 143.4,799.9 144.2,801 145,801.6 145.8,801.7 146.6,801.2 147.4,800.3 148.2,799.1 149,797.8 149.8,796.1 150.6,794.5 151.4,792.9 152.1,791.2 152.9,789.6 153.7,788.3 154.5,787.3 155.3,786.3 156.1,785.9 156.9,785.8 157.7,786 158.5,786.6 159.3,787.6 160.1,788.9 160.8,790.3 161.6,792 162.4,794 163.2,795.8 164,797.7 164.8,799.7 165.6,801.6 166.4,803.3 167.2,804.9 168,806.4 168.8,807.7 169.5,808.8 170.3,809.8 171.1,810.7 171.9,811.4 172.7,812 173.5,812.6 174.3,812.9 175.1,813.2 175.9,813.6 176.7,813.8 177.5,813.9 178.2,814.1 179,814.3 179.8,814.4 180.6,814.4 181.4,814.6 182.2,814.7 183,814.7 183.8,814.8 184.6,814.9 185.4,814.9 186.2,814.9 186.9,815 187.7,815.1 188.5,815 189.3,815.1 190.1,815.2 190.9,815.1 191.7,815.1 192.5,815.2 193.3,815.3 194.1,815.2 194.9,815.2 195.6,815.3 196.4,815.3 197.2,815.2 198,815.3 198.8,815.3 199.6,815.3 200.4,815.3 201.2,815.4 202,815.3 202.8,815.3 203.6,815.3 204.3,815.4 205.1,815.3 205.9,815.3 206.7,815.4 207.5,815.3 208.3,815.3 209.1,815.3 209.9,815.4 210.7,815.3 211.5,815.3 212.3,815.4 213,815.3 213.8,815.3 214.6,815.3 215.4,815.3 216.2,815.3 217,815.3 217.8,815.4 218.6,815.3 219.4,815.3 220.2,815.3 221,815.3 221.8,815.3 222.5,815.3 223.3,815.4 224.1,815.3 224.9,815.2 225.7,815.3 226.5,815.3 227.3,815.2 228.1,815.2 228.9,815.3 229.7,815.2 230.5,815.2 231.2,815.3 232,815.3 232.8,815.2 233.6,815.2 234.4,815.3 235.2,815.2 236,815.1 236.8,815.2 237.6,815.2 238.4,815.1 239.2,815.1 239.9,815.2 240.7,815.1 241.5,815 242.3,815.1 243.1,815 243.9,814.9 244.7,814.9 245.5,815 246.3,814.8 247.1,814.8 247.9,814.8 248.6,814.7 249.4,814.6 250.2,814.5 251,814.5 251.8,814.3 252.6,814.2 253.4,814.2 254.2,814 255,813.8 255.8,813.7 256.6,813.5 257.3,813.1 258.1,812.8 258.9,812.3 259.7,811.7 260.5,810.7 261.3,809.5 262.1,808 262.9,805.8 263.7,802.9 264.5,799.4 265.3,794.9 266,789.3 266.8,782.7 267.6,774.9 268.4,766 269.2,756.1 270,745.6 270.8,734.6 271.6,723.6 272.4,713.1 273.2,703.6 274,695.4 274.7,689 275.5,684.9 276.3,683 277.1,682.7 277.9,684 278.7,686.6 279.5,690 280.3,694.2 281.1,698.8 281.9,703.3 282.7,707.6 283.4,711.5 284.2,714.9 285,717.5 285.8,719.6 286.6,721.4 287.4,722.9 288.2,724.4 289,726.3 289.8,728.9 290.6,732 291.4,735.6 292.1,739.5 292.9,743.7 293.7,748 294.5,752.7 295.3,757.4 296.1,762.1 296.9,766.7 297.7,771.3 298.5,775.6 299.3,779.7 300.1,783.5 300.9,787.1 301.6,790.2 302.4,793 303.2,795.6 304,797.8 304.8,799.7 305.6,801.5 306.4,803 307.2,804.2 308,805.3 308.8,806.3 309.6,807.1 310.3,807.7 311.1,808.4 311.9,809.1 312.7,809.5 313.5,809.9 314.3,810.4 315.1,810.8 315.9,811.1 316.7,811.5 317.5,811.8 318.3,812 319,812.3 319.8,812.6 320.6,812.8 321.4,813 322.2,813.2 323,813.4 323.8,813.5 324.6,813.7 325.4,813.9 326.2,814 327,814 327.7,814.2 328.5,814.3 329.3,814.3 330.1,814.4 330.9,814.6 331.7,814.6 332.5,814.6 333.3,814.7 334.1,814.8 334.9,814.8 335.7,814.8 336.4,814.9 337.2,814.9 338,814.9 338.8,815 339.6,815.1 340.4,815 341.2,815 342,815.1 342.8,815.1 343.6,815.1 344.4,815.1 345.1,815.2 345.9,815.1 346.7,815.1 347.5,815.2 348.3,815.2 349.1,815.2 349.9,815.2 350.7,815.2 351.5,815.2 352.3,815.2 353.1,815.3 353.8,815.2 354.6,815.2 355.4,815.3 356.2,815.3 357,815.2 357.8,815.2 358.6,815.3 359.4,815.3 360.2,815.2 361,815.3 361.8,815.3 362.5,815.3 363.3,815.3 364.1,815.4 364.9,815.3 365.7,815.3 366.5,815.3 367.3,815.4 368.1,815.3 368.9,815.3 369.7,815.4 370.5,815.3 371.2,815.3 372,815.4 372.8,815.4 373.6,815.3 374.4,815.3 375.2,815.4 376,815.3 376.8,815.3 377.6,815.4 378.4,815.4 379.2,815.3 380,815.4 380.7,815.4 381.5,815.4 382.3,815.3 383.1,815.4 383.9,815.4 384.7,815.3 385.5,815.4 386.3,815.5 387.1,815.4 387.9,815.4 388.7,815.4 389.4,815.4 390.2,815.4 391,815.4 391.8,815.5 392.6,815.4 393.4,815.4 394.2,815.4 395,815.4 395.8,815.4 396.6,815.4 397.4,815.5 398.1,815.4 398.9,815.4 399.7,815.4 400.5,815.4 401.3,815.4 402.1,815.4 402.9,815.5 403.7,815.4 404.5,815.4 405.3,815.5 406.1,815.4 406.8,815.4 407.6,815.4 408.4,815.5 409.2,815.4 410,815.4 410.8,815.5 411.6,815.4 412.4,815.4 413.2,815.4 414,815.5 414.8,815.4 415.5,815.4 416.3,815.5 417.1,815.5 417.9,815.4 418.7,815.4 419.5,815.5 420.3,815.4 421.1,815.4 421.9,815.5 422.7,815.5 423.5,815.4 424.2,815.4 425,815.5 425.8,815.4 426.6,815.4 427.4,815.5 428.2,815.5 429,815.4 429.8,815.4 430.6,815.5 431.4,815.4 432.2,815.4 432.9,815.5 433.7,815.5 434.5,815.4 435.3,815.4 436.1,815.5 436.9,815.4 437.7,815.4 438.5,815.5 439.3,815.5 440.1,815.4 440.9,815.4 441.6,815.5 442.4,815.4 443.2,815.4 444,815.5 444.8,815.4 445.6,815.4 446.4,815.4 447.2,815.5 448,815.4 448.8,815.4 449.6,815.5 450.3,815.4 451.1,815.4 451.9,815.4 452.7,815.5 453.5,815.4 454.3,815.4 455.1,815.5 455.9,815.4 456.7,815.4 457.5,815.4 458.3,815.5 459.1,815.4 459.8,815.4 460.6,815.5 461.4,815.4 462.2,815.4 463,815.4 463.8,815.5 464.6,815.4 465.4,815.4 466.2,815.4 467,815.4 467.8,815.3 468.5,815.4 469.3,815.4 470.1,815.3 470.9,815.3 471.7,815.4 472.5,815.3 473.3,815.2 474.1,815.3 474.9,815.3 475.7,815.2 476.5,815.2 477.2,815.2 478,815.1 478.8,815 479.6,815 480.4,815 481.2,814.9 482,814.8 482.8,814.8 483.6,814.6 484.4,814.5 485.2,814.4 485.9,814.2 486.7,813.9 487.5,813.7 488.3,813.5 489.1,813.1 489.9,812.7 490.7,812.3 491.5,811.9 492.3,811.3 493.1,810.7 493.9,810.2 494.6,809.6 495.4,809 496.2,808.5 497,808 497.8,807.6 498.6,807.3 499.4,807.3 500.2,807.3 501,807.4 501.8,807.7 502.6,808 503.3,808.3 504.1,808.7 504.9,809.3 505.7,809.7 506.5,810.1 507.3,810.6 508.1,811.1 508.9,811.4 509.7,811.8 510.5,812.2 511.3,812.4 512,812.5 512.8,812.8 513.6,812.9 514.4,812.9 515.2,813 516,813.1 516.8,813 517.6,813 518.4,813.1 519.2,813.2 520,813.2 520.7,813.3 521.5,813.5 522.3,813.5 523.1,813.6 523.9,813.8 524.7,813.9 525.5,813.9 526.3,814 527.1,814.2 527.9,814.2 528.7,814.3 529.4,814.5 530.2,814.6 531,814.6 531.8,814.7 532.6,814.8 533.4,814.8 534.2,814.8 535,814.9 535.8,815 536.6,815 537.4,815 538.2,815.2 538.9,815.1 539.7,815.1 540.5,815.2 541.3,815.2 542.1,815.2 542.9,815.2 543.7,815.3 544.5,815.2 545.3,815.2 546.1,815.3 546.9,815.3 547.6,815.3 548.4,815.3 549.2,815.4 550,815.3 550.8,815.3 551.6,815.4 552.4,815.4 553.2,815.3 554,815.4 554.8,815.5 555.6,815.4 556.3,815.4 557.1,815.4 557.9,815.4 558.7,815.4 559.5,815.4 560.3,815.5 561.1,815.4 561.9,815.4 562.7,815.5 563.5,815.5 564.3,815.4 565,815.4 565.8,815.5 566.6,815.4 567.4,815.4 568.2,815.5 569,815.5 569.8,815.4 570.6,815.5 571.4,815.5 572.2,815.4 573,815.4 573.7,815.5 574.5,815.5 575.3,815.4 576.1,815.5 576.9,815.5 577.7,815.4 578.5,815.4 579.3,815.5 580.1,815.5 580.9,815.4 581.7,815.5 582.4,815.5 583.2,815.5 584,815.4 584.8,815.5 585.6,815.5 586.4,815.4 587.2,815.5 588,815.5 588,815.6Z" fill="#12944c" stroke="#12944c" stroke-width="1.5" stroke-linejoin="round"/>
<path d="M72.8,829 72.8,827.3 73.6,827.6 74.4,828 75.2,828.4 76,828.7 76.8,828.7 77.5,828.7 78.3,828.8 79.1,828.8 79.9,828.7 80.7,828.7 81.5,828.8 82.3,828.7 83.1,828.7 83.9,828.8 84.7,828.8 85.5,828.7 86.2,828.7 87,828.8 87.8,828.7 88.6,828.7 89.4,828.7 90.2,828.7 91,828.6 91.8,828.7 92.6,828.7 93.4,828.6 94.2,828.6 94.9,828.6 95.7,828.6 96.5,828.5 97.3,828.5 98.1,828.6 98.9,828.4 99.7,828.3 100.5,828.3 101.3,828.2 102.1,828 102.9,827.9 103.6,827.7 104.4,827.3 105.2,826.8 106,826.2 106.8,825.4 107.6,824.2 108.4,822.7 109.2,820.8 110,818.3 110.8,815.3 111.6,811.9 112.3,807.8 113.1,803.2 113.9,798.3 114.7,793.3 115.5,788.2 116.3,783.4 117.1,779.2 117.9,775.7 118.7,773.3 119.5,772.2 120.3,772.4 121,773.5 121.8,775.8 122.6,779 123.4,782.8 124.2,787 125,791.5 125.8,796 126.6,800.2 127.4,804.1 128.2,807.6 129,810.5 129.8,812.8 130.5,814.5 131.3,815.7 132.1,816.2 132.9,816.3 133.7,816 134.5,815.3 135.3,814.2 136.1,813.1 136.9,811.8 137.7,810.2 138.5,808.7 139.2,807.3 140,805.9 140.8,804.6 141.6,803.6 142.4,803 143.2,802.4 144,802.2 144.8,802.5 145.6,803 146.4,803.7 147.2,804.8 147.9,806.2 148.7,807.6 149.5,809.2 150.3,811 151.1,812.7 151.9,814.3 152.7,816 153.5,817.7 154.3,819 155.1,820.3 155.9,821.6 156.6,822.6 157.4,823.5 158.2,824.3 159,825.1 159.8,825.5 160.6,826 161.4,826.5 162.2,826.8 163,827 163.8,827.2 164.6,827.5 165.3,827.6 166.1,827.7 166.9,827.9 167.7,827.9 168.5,828 169.3,828.1 170.1,828.2 170.9,828.2 171.7,828.2 172.5,828.3 173.3,828.4 174,828.3 174.8,828.4 175.6,828.5 176.4,828.5 177.2,828.5 178,828.6 178.8,828.6 179.6,828.5 180.4,828.6 181.2,828.7 182,828.6 182.7,828.6 183.5,828.7 184.3,828.6 185.1,828.6 185.9,828.7 186.7,828.7 187.5,828.6 188.3,828.6 189.1,828.7 189.9,828.7 190.7,828.6 191.4,828.7 192.2,828.7 193,828.7 193.8,828.7 194.6,828.7 195.4,828.7 196.2,828.6 197,828.7 197.8,828.7 198.6,828.7 199.4,828.7 200.1,828.7 200.9,828.7 201.7,828.6 202.5,828.7 203.3,828.7 204.1,828.6 204.9,828.6 205.7,828.7 206.5,828.7 207.3,828.6 208.1,828.7 208.9,828.7 209.6,828.6 210.4,828.6 211.2,828.7 212,828.6 212.8,828.6 213.6,828.6 214.4,828.7 215.2,828.6 216,828.6 216.8,828.7 217.6,828.6 218.3,828.6 219.1,828.6 219.9,828.6 220.7,828.5 221.5,828.5 222.3,828.6 223.1,828.5 223.9,828.5 224.7,828.5 225.5,828.5 226.3,828.5 227,828.5 227.8,828.5 228.6,828.4 229.4,828.4 230.2,828.4 231,828.4 231.8,828.3 232.6,828.3 233.4,828.3 234.2,828.2 235,828.1 235.7,828.1 236.5,828.1 237.3,827.9 238.1,827.9 238.9,827.9 239.7,827.7 240.5,827.5 241.3,827.5 242.1,827.3 242.9,827.1 243.7,826.9 244.4,826.7 245.2,826.3 246,825.8 246.8,825.2 247.6,824.3 248.4,823.1 249.2,821.6 250,819.6 250.8,816.9 251.6,813.5 252.4,809.3 253.1,804.1 253.9,797.9 254.7,790.7 255.5,782.6 256.3,773.5 257.1,763.9 257.9,753.9 258.7,743.9 259.5,734.2 260.3,725.5 261.1,718.1 261.8,712.1 262.6,708.1 263.4,706.3 264.2,706 265,706.9 265.8,709.1 266.6,712.2 267.4,715.8 268.2,719.8 269,723.9 269.8,727.7 270.5,731.1 271.3,734 272.1,736.5 272.9,738.2 273.7,739.7 274.5,741.1 275.3,742.5 276.1,744.2 276.9,746.6 277.7,749.8 278.5,753.1 279.2,756.8 280,760.9 280.8,765.2 281.6,769.5 282.4,774.1 283.2,778.7 284,783 284.8,787.3 285.6,791.5 286.4,795.4 287.2,798.9 288,802.2 288.7,805.3 289.5,807.9 290.3,810.2 291.1,812.4 291.9,814.2 292.7,815.7 293.5,817.1 294.3,818.4 295.1,819.3 295.9,820.1 296.7,821 297.4,821.6 298.2,822.2 299,822.7 299.8,823.3 300.6,823.6 301.4,824 302.2,824.5 303,824.8 303.8,825 304.6,825.3 305.4,825.7 306.1,825.8 306.9,826.1 307.7,826.3 308.5,826.5 309.3,826.6 310.1,826.9 310.9,827.1 311.7,827.1 312.5,827.3 313.3,827.5 314.1,827.5 314.8,827.6 315.6,827.7 316.4,827.9 317.2,827.8 318,827.9 318.8,828.1 319.6,828.1 320.4,828.1 321.2,828.2 322,828.3 322.8,828.2 323.5,828.2 324.3,828.4 325.1,828.3 325.9,828.3 326.7,828.4 327.5,828.5 328.3,828.4 329.1,828.4 329.9,828.5 330.7,828.5 331.5,828.5 332.2,828.5 333,828.6 333.8,828.5 334.6,828.5 335.4,828.6 336.2,828.6 337,828.5 337.8,828.6 338.6,828.6 339.4,828.6 340.2,828.6 340.9,828.7 341.7,828.6 342.5,828.6 343.3,828.6 344.1,828.7 344.9,828.6 345.7,828.6 346.5,828.7 347.3,828.7 348.1,828.6 348.9,828.7 349.6,828.7 350.4,828.6 351.2,828.6 352,828.7 352.8,828.7 353.6,828.6 354.4,828.7 355.2,828.7 356,828.7 356.8,828.7 357.6,828.8 358.3,828.7 359.1,828.7 359.9,828.7 360.7,828.8 361.5,828.7 362.3,828.7 363.1,828.8 363.9,828.7 364.7,828.7 365.5,828.7 366.3,828.8 367.1,828.7 367.8,828.7 368.6,828.8 369.4,828.7 370.2,828.7 371,828.8 371.8,828.8 372.6,828.7 373.4,828.7 374.2,828.8 375,828.7 375.8,828.7 376.5,828.8 377.3,828.8 378.1,828.7 378.9,828.7 379.7,828.8 380.5,828.8 381.3,828.7 382.1,828.8 382.9,828.8 383.7,828.7 384.5,828.7 385.2,828.8 386,828.8 386.8,828.7 387.6,828.8 388.4,828.8 389.2,828.7 390,828.8 390.8,828.8 391.6,828.8 392.4,828.7 393.2,828.8 393.9,828.8 394.7,828.7 395.5,828.8 396.3,828.9 397.1,828.8 397.9,828.7 398.7,828.8 399.5,828.8 400.3,828.8 401.1,828.8 401.9,828.9 402.6,828.8 403.4,828.8 404.2,828.8 405,828.8 405.8,828.8 406.6,828.8 407.4,828.9 408.2,828.8 409,828.8 409.8,828.8 410.6,828.8 411.3,828.8 412.1,828.8 412.9,828.9 413.7,828.8 414.5,828.8 415.3,828.8 416.1,828.8 416.9,828.8 417.7,828.8 418.5,828.9 419.3,828.8 420,828.8 420.8,828.8 421.6,828.8 422.4,828.8 423.2,828.8 424,828.9 424.8,828.8 425.6,828.8 426.4,828.8 427.2,828.8 428,828.8 428.7,828.8 429.5,828.9 430.3,828.8 431.1,828.8 431.9,828.8 432.7,828.8 433.5,828.8 434.3,828.8 435.1,828.9 435.9,828.8 436.7,828.8 437.4,828.8 438.2,828.8 439,828.8 439.8,828.8 440.6,828.9 441.4,828.8 442.2,828.8 443,828.8 443.8,828.8 444.6,828.7 445.4,828.8 446.2,828.8 446.9,828.8 447.7,828.7 448.5,828.8 449.3,828.8 450.1,828.7 450.9,828.8 451.7,828.8 452.5,828.7 453.3,828.7 454.1,828.8 454.9,828.8 455.6,828.7 456.4,828.7 457.2,828.8 458,828.7 458.8,828.7 459.6,828.7 460.4,828.7 461.2,828.6 462,828.6 462.8,828.7 463.6,828.6 464.3,828.5 465.1,828.6 465.9,828.5 466.7,828.4 467.5,828.4 468.3,828.4 469.1,828.3 469.9,828.2 470.7,828.2 471.5,828.1 472.3,827.9 473,827.8 473.8,827.7 474.6,827.4 475.4,827.2 476.2,827 477,826.7 477.8,826.3 478.6,825.9 479.4,825.6 480.2,825 481,824.6 481.7,824.2 482.5,823.7 483.3,823.2 484.1,822.9 484.9,822.6 485.7,822.3 486.5,822.3 487.3,822.4 488.1,822.4 488.9,822.6 489.7,822.8 490.4,823.2 491.2,823.5 492,823.8 492.8,824.3 493.6,824.6 494.4,824.9 495.2,825.3 496,825.7 496.8,825.9 497.6,826.2 498.4,826.5 499.1,826.6 499.9,826.7 500.7,826.8 501.5,826.9 502.3,826.9 503.1,826.9 503.9,827 504.7,827 505.5,827 506.3,827.1 507.1,827.2 507.8,827.2 508.6,827.3 509.4,827.4 510.2,827.5 511,827.5 511.8,827.6 512.6,827.7 513.4,827.7 514.2,827.8 515,828 515.8,828 516.5,828 517.3,828.1 518.1,828.2 518.9,828.2 519.7,828.3 520.5,828.4 521.3,828.4 522.1,828.4 522.9,828.5 523.7,828.5 524.5,828.5 525.3,828.5 526,828.6 526.8,828.6 527.6,828.6 528.4,828.6 529.2,828.7 530,828.6 530.8,828.6 531.6,828.7 532.4,828.7 533.2,828.6 534,828.7 534.7,828.7 535.5,828.7 536.3,828.7 537.1,828.8 537.9,828.7 538.7,828.7 539.5,828.8 540.3,828.8 541.1,828.7 541.9,828.7 542.7,828.8 543.4,828.8 544.2,828.7 545,828.8 545.8,828.8 546.6,828.8 547.4,828.8 548.2,828.9 549,828.8 549.8,828.8 550.6,828.8 551.4,828.8 552.1,828.8 552.9,828.8 553.7,828.9 554.5,828.8 555.3,828.8 556.1,828.8 556.9,828.8 557.7,828.8 558.5,828.8 559.3,828.9 560.1,828.8 560.8,828.8 561.6,828.9 562.4,828.9 563.2,828.8 564,828.8 564.8,828.9 565.6,828.8 566.4,828.8 567.2,828.9 568,828.9 568.8,828.8 569.5,828.8 570.3,828.9 571.1,828.8 571.9,828.8 572.7,828.9 573.5,828.9 574.3,828.8 575.1,828.8 575.1,829Z" fill="#ff2a0c" stroke="#ff2a0c" stroke-width="1.5" stroke-linejoin="round"/>
<path d="M59.9,842.3 59.9,836.6 60.7,837.5 61.5,839.4 62.3,841 63.1,841.8 63.9,842.1 64.6,842.1 65.4,842.1 66.2,842.1 67,842.2 67.8,842.1 68.6,842.1 69.4,842.2 70.2,842.1 71,842.1 71.8,842.1 72.6,842.2 73.3,842.1 74.1,842.1 74.9,842.2 75.7,842.1 76.5,842 77.3,842.1 78.1,842.1 78.9,842 79.7,842 80.5,842.1 81.3,842 82,842 82.8,842 83.6,842 84.4,841.9 85.2,841.9 86,841.9 86.8,841.8 87.6,841.7 88.4,841.7 89.2,841.6 90,841.4 90.7,841.2 91.5,841.1 92.3,840.6 93.1,840.1 93.9,839.5 94.7,838.6 95.5,837.4 96.3,835.9 97.1,834.1 97.9,831.8 98.7,829.1 99.4,826.1 100.2,822.7 101,819 101.8,815.2 102.6,811.4 103.4,807.7 104.2,804.5 105,801.9 105.8,800 106.6,798.9 107.4,798.9 108.1,799.8 108.9,801.3 109.7,803.5 110.5,806.3 111.3,809.5 112.1,812.8 112.9,816.2 113.7,819.5 114.5,822.5 115.3,825.2 116.1,827.5 116.9,829.4 117.6,830.7 118.4,831.7 119.2,832.3 120,832.4 120.8,832.2 121.6,831.8 122.4,831.1 123.2,830.2 124,829.2 124.8,828.2 125.6,827 126.3,825.8 127.1,824.9 127.9,823.9 128.7,823.1 129.5,822.5 130.3,822.2 131.1,822 131.9,822.1 132.7,822.5 133.5,823.1 134.3,823.8 135,824.8 135.8,826 136.6,827.1 137.4,828.3 138.2,829.7 139,831 139.8,832.1 140.6,833.4 141.4,834.6 142.2,835.5 143,836.4 143.7,837.3 144.5,838 145.3,838.6 146.1,839.1 146.9,839.7 147.7,839.9 148.5,840.2 149.3,840.6 150.1,840.8 150.9,840.9 151.7,841.1 152.4,841.3 153.2,841.3 154,841.4 154.8,841.5 155.6,841.6 156.4,841.6 157.2,841.6 158,841.8 158.8,841.7 159.6,841.7 160.4,841.8 161.1,841.9 161.9,841.8 162.7,841.9 163.5,842 164.3,841.9 165.1,841.9 165.9,842 166.7,842 167.5,841.9 168.3,842 169.1,842.1 169.8,842 170.6,842 171.4,842.1 172.2,842 173,842 173.8,842 174.6,842.1 175.4,842 176.2,842 177,842.1 177.8,842.1 178.5,842 179.3,842.1 180.1,842.1 180.9,842 181.7,842 182.5,842.1 183.3,842.1 184.1,842 184.9,842.1 185.7,842.1 186.5,842 187.2,842 188,842.1 188.8,842.1 189.6,842 190.4,842 191.2,842.1 192,842 192.8,842 193.6,842.1 194.4,842 195.2,842 196,842 196.7,842.1 197.5,842 198.3,842 199.1,842.1 199.9,842 200.7,842 201.5,842 202.3,842.1 203.1,842 203.9,842 204.7,842 205.4,842 206.2,841.9 207,842 207.8,842 208.6,841.9 209.4,841.9 210.2,842 211,841.9 211.8,841.9 212.6,841.9 213.4,841.9 214.1,841.8 214.9,841.8 215.7,841.9 216.5,841.8 217.3,841.7 218.1,841.7 218.9,841.8 219.7,841.6 220.5,841.6 221.3,841.6 222.1,841.5 222.8,841.5 223.6,841.4 224.4,841.4 225.2,841.3 226,841.2 226.8,841.2 227.6,841 228.4,840.8 229.2,840.8 230,840.6 230.8,840.3 231.5,840.1 232.3,839.8 233.1,839.2 233.9,838.6 234.7,837.7 235.5,836.6 236.3,835 237.1,833 237.9,830.5 238.7,827.2 239.5,823 240.2,818.1 241,812.3 241.8,805.3 242.6,797.6 243.4,789.2 244.2,780 245,770.5 245.8,761.2 246.6,752.2 247.4,743.8 248.2,736.8 248.9,731.3 249.7,727.4 250.5,725.4 251.3,725.1 252.1,726 252.9,728 253.7,730.9 254.5,734.5 255.3,738.3 256.1,742.1 256.9,745.9 257.6,749.4 258.4,752.2 259.2,754.7 260,756.7 260.8,758.2 261.6,759.7 262.4,761.3 263.2,763.1 264,765.5 264.8,768.6 265.6,772 266.3,775.5 267.1,779.3 267.9,783.4 268.7,787.6 269.5,791.8 270.3,796 271.1,800.3 271.9,804.2 272.7,808 273.5,811.6 274.3,815 275.1,817.9 275.8,820.7 276.6,823.2 277.4,825.3 278.2,827.2 279,828.9 279.8,830.3 280.6,831.5 281.4,832.6 282.2,833.6 283,834.3 283.8,834.9 284.5,835.6 285.3,836.2 286.1,836.6 286.9,837 287.7,837.5 288.5,837.8 289.3,838.1 290.1,838.5 290.9,838.8 291.7,839 292.5,839.2 293.2,839.5 294,839.7 294.8,839.8 295.6,840.1 296.4,840.2 297.2,840.3 298,840.5 298.8,840.7 299.6,840.8 300.4,840.8 301.2,841 301.9,841.1 302.7,841.1 303.5,841.2 304.3,841.4 305.1,841.4 305.9,841.4 306.7,841.5 307.5,841.5 308.3,841.5 309.1,841.6 309.9,841.7 310.6,841.7 311.4,841.7 312.2,841.8 313,841.8 313.8,841.7 314.6,841.8 315.4,841.9 316.2,841.8 317,841.8 317.8,841.9 318.6,841.9 319.3,841.9 320.1,841.9 320.9,842 321.7,841.9 322.5,841.9 323.3,842 324.1,842 324.9,841.9 325.7,842 326.5,842 327.3,842 328,841.9 328.8,842 329.6,842 330.4,842 331.2,842 332,842.1 332.8,842 333.6,842 334.4,842.1 335.2,842 336,842 336.7,842 337.5,842.1 338.3,842 339.1,842 339.9,842.1 340.7,842.1 341.5,842 342.3,842.1 343.1,842.1 343.9,842 344.7,842 345.4,842.1 346.2,842.1 347,842 347.8,842.1 348.6,842.1 349.4,842.1 350.2,842.1 351,842.1 351.8,842.1 352.6,842 353.4,842.1 354.2,842.1 354.9,842.1 355.7,842.1 356.5,842.2 357.3,842.1 358.1,842.1 358.9,842.1 359.7,842.2 360.5,842.1 361.3,842.1 362.1,842.2 362.9,842.1 363.6,842.1 364.4,842.1 365.2,842.2 366,842.1 366.8,842.1 367.6,842.2 368.4,842.1 369.2,842.1 370,842.1 370.8,842.2 371.6,842.1 372.3,842.1 373.1,842.2 373.9,842.1 374.7,842.1 375.5,842.1 376.3,842.2 377.1,842.1 377.9,842.1 378.7,842.2 379.5,842.1 380.3,842.1 381,842.1 381.8,842.2 382.6,842.1 383.4,842.1 384.2,842.2 385,842.1 385.8,842.1 386.6,842.2 387.4,842.2 388.2,842.1 389,842.1 389.7,842.2 390.5,842.1 391.3,842.1 392.1,842.2 392.9,842.2 393.7,842.1 394.5,842.1 395.3,842.2 396.1,842.1 396.9,842.1 397.7,842.2 398.4,842.2 399.2,842.1 400,842.1 400.8,842.2 401.6,842.1 402.4,842.1 403.2,842.2 404,842.2 404.8,842.1 405.6,842.1 406.4,842.2 407.1,842.1 407.9,842.1 408.7,842.2 409.5,842.2 410.3,842.1 411.1,842.1 411.9,842.2 412.7,842.1 413.5,842.1 414.3,842.2 415.1,842.2 415.8,842.1 416.6,842.1 417.4,842.2 418.2,842.1 419,842.1 419.8,842.2 420.6,842.2 421.4,842.1 422.2,842.1 423,842.2 423.8,842.1 424.5,842.1 425.3,842.2 426.1,842.2 426.9,842.1 427.7,842.1 428.5,842.2 429.3,842.1 430.1,842.1 430.9,842.2 431.7,842.2 432.5,842.1 433.3,842.1 434,842.2 434.8,842.1 435.6,842.1 436.4,842.2 437.2,842.2 438,842.1 438.8,842.1 439.6,842.2 440.4,842.1 441.2,842.1 442,842.1 442.7,842.1 443.5,842.1 444.3,842.1 445.1,842.2 445.9,842.1 446.7,842 447.5,842.1 448.3,842.1 449.1,842 449.9,842 450.7,842 451.4,841.9 452.2,841.9 453,841.9 453.8,841.9 454.6,841.8 455.4,841.8 456.2,841.8 457,841.6 457.8,841.5 458.6,841.5 459.4,841.4 460.1,841.2 460.9,841.1 461.7,841 462.5,840.7 463.3,840.5 464.1,840.3 464.9,839.9 465.7,839.5 466.5,839.2 467.3,838.9 468.1,838.4 468.8,837.9 469.6,837.6 470.4,837.2 471.2,836.8 472,836.6 472.8,836.5 473.6,836.3 474.4,836.3 475.2,836.5 476,836.6 476.8,836.8 477.5,837.1 478.3,837.4 479.1,837.7 479.9,838 480.7,838.4 481.5,838.7 482.3,839 483.1,839.3 483.9,839.6 484.7,839.8 485.5,840 486.2,840.2 487,840.3 487.8,840.3 488.6,840.4 489.4,840.5 490.2,840.5 491,840.5 491.8,840.6 492.6,840.6 493.4,840.6 494.2,840.7 494.9,840.8 495.7,840.8 496.5,840.9 497.3,841 498.1,841 498.9,841.1 499.7,841.2 500.5,841.3 501.3,841.3 502.1,841.3 502.9,841.5 503.6,841.5 504.4,841.5 505.2,841.6 506,841.7 506.8,841.7 507.6,841.7 508.4,841.8 509.2,841.8 510,841.8 510.8,841.9 511.6,841.9 512.4,841.9 513.1,841.9 513.9,842 514.7,842 515.5,841.9 516.3,842 517.1,842.1 517.9,842 518.7,842 519.5,842.1 520.3,842.1 521.1,842 521.8,842.1 522.6,842.1 523.4,842.1 524.2,842.1 525,842.2 525.8,842.1 526.6,842.1 527.4,842.1 528.2,842.2 529,842.1 529.8,842.1 530.5,842.2 531.3,842.1 532.1,842.1 532.9,842.2 533.7,842.2 534.5,842.1 535.3,842.1 536.1,842.2 536.9,842.2 537.7,842.1 538.5,842.2 539.2,842.2 540,842.1 540.8,842.1 541.6,842.2 542.4,842.2 543.2,842.1 544,842.2 544.8,842.2 545.6,842.1 546.4,842.2 547.2,842.2 547.9,842.2 548.7,842.1 549.5,842.2 550.3,842.2 551.1,842.1 551.9,842.2 552.7,842.3 553.5,842.2 554.3,842.1 555.1,842.2 555.9,842.2 556.6,842.2 557.4,842.2 558.2,842.3 559,842.2 559.8,842.2 560.6,842.2 561.4,842.2 562.2,842.2 562.2,842.3Z" fill="#2412fa" stroke="#2412fa" stroke-width="1.5" stroke-linejoin="round"/>
<path d="M47,855.6 47,849.5 47.8,850.4 48.6,852.5 49.4,854.3 50.2,855.1 51,855.4 51.7,855.5 52.5,855.5 53.3,855.4 54.1,855.5 54.9,855.5 55.7,855.4 56.5,855.4 57.3,855.5 58.1,855.5 58.9,855.4 59.7,855.4 60.4,855.5 61.2,855.4 62,855.4 62.8,855.5 63.6,855.4 64.4,855.4 65.2,855.4 66,855.4 66.8,855.4 67.6,855.3 68.4,855.4 69.1,855.3 69.9,855.3 70.7,855.3 71.5,855.3 72.3,855.2 73.1,855.2 73.9,855.2 74.7,855.1 75.5,854.9 76.3,854.8 77.1,854.7 77.8,854.4 78.6,854.1 79.4,853.7 80.2,853.1 81,852.2 81.8,851.2 82.6,849.9 83.4,848.1 84.2,846 85,843.5 85.8,840.4 86.5,836.8 87.3,832.9 88.1,828.8 88.9,824.3 89.7,819.9 90.5,815.8 91.3,812 92.1,808.8 92.9,806.6 93.7,805.3 94.5,805.1 95.2,805.8 96,807.6 96.8,810 97.6,813.1 98.4,816.7 99.2,820.5 100,824.3 100.8,828.1 101.6,831.8 102.4,834.9 103.2,837.7 104,840 104.7,841.8 105.5,843 106.3,843.8 107.1,844.2 107.9,844.1 108.7,843.6 109.5,843 110.3,842.1 111.1,840.9 111.9,839.7 112.7,838.6 113.4,837.3 114.2,836.1 115,835.1 115.8,834.2 116.6,833.4 117.4,833 118.2,832.9 119,832.9 119.8,833.3 120.6,833.9 121.4,834.8 122.1,835.8 122.9,837 123.7,838.4 124.5,839.7 125.3,841.1 126.1,842.6 126.9,844 127.7,845.3 128.5,846.6 129.3,847.8 130.1,848.8 130.8,849.7 131.6,850.6 132.4,851.3 133.2,851.9 134,852.4 134.8,853 135.6,853.3 136.4,853.6 137.2,853.9 138,854.1 138.8,854.2 139.5,854.4 140.3,854.6 141.1,854.6 141.9,854.7 142.7,854.8 143.5,854.9 144.3,854.9 145.1,855 145.9,855.1 146.7,855 147.5,855.1 148.2,855.2 149,855.2 149.8,855.2 150.6,855.2 151.4,855.3 152.2,855.2 153,855.2 153.8,855.3 154.6,855.3 155.4,855.3 156.2,855.3 156.9,855.4 157.7,855.3 158.5,855.3 159.3,855.4 160.1,855.4 160.9,855.3 161.7,855.4 162.5,855.5 163.3,855.4 164.1,855.4 164.9,855.4 165.6,855.4 166.4,855.4 167.2,855.4 168,855.5 168.8,855.4 169.6,855.4 170.4,855.4 171.2,855.4 172,855.4 172.8,855.4 173.6,855.5 174.3,855.4 175.1,855.4 175.9,855.4 176.7,855.4 177.5,855.4 178.3,855.4 179.1,855.5 179.9,855.4 180.7,855.3 181.5,855.4 182.3,855.4 183.1,855.3 183.8,855.4 184.6,855.4 185.4,855.3 186.2,855.3 187,855.4 187.8,855.4 188.6,855.3 189.4,855.3 190.2,855.4 191,855.3 191.8,855.3 192.5,855.4 193.3,855.3 194.1,855.3 194.9,855.3 195.7,855.4 196.5,855.3 197.3,855.2 198.1,855.3 198.9,855.3 199.7,855.2 200.5,855.2 201.2,855.3 202,855.2 202.8,855.1 203.6,855.2 204.4,855.1 205.2,855.1 206,855.1 206.8,855.1 207.6,855 208.4,854.9 209.2,854.9 209.9,854.9 210.7,854.8 211.5,854.7 212.3,854.7 213.1,854.6 213.9,854.5 214.7,854.4 215.5,854.3 216.3,854.1 217.1,853.9 217.9,853.8 218.6,853.4 219.4,853.1 220.2,852.7 221,852 221.8,851.1 222.6,850 223.4,848.5 224.2,846.4 225,843.9 225.8,840.8 226.6,836.8 227.3,832 228.1,826.4 228.9,819.9 229.7,812.4 230.5,804.3 231.3,795.8 232.1,786.8 232.9,777.9 233.7,769.4 234.5,761.6 235.3,754.8 236,749.4 236.8,745.7 237.6,743.7 238.4,743.1 239.2,743.8 240,745.5 240.8,747.9 241.6,751 242.4,754.4 243.2,757.7 244,760.9 244.7,763.9 245.5,766.4 246.3,768.3 247.1,769.8 247.9,771.1 248.7,772.2 249.5,773.5 250.3,775.3 251.1,777.7 251.9,780.6 252.7,783.9 253.4,787.7 254.2,791.6 255,795.7 255.8,800 256.6,804.4 257.4,808.7 258.2,813 259,817.2 259.8,821 260.6,824.6 261.4,828 262.2,831.2 262.9,833.9 263.7,836.3 264.5,838.6 265.3,840.4 266.1,842.1 266.9,843.6 267.7,844.8 268.5,845.8 269.3,846.7 270.1,847.6 270.9,848.3 271.6,848.8 272.4,849.4 273.2,849.9 274,850.3 274.8,850.7 275.6,851.2 276.4,851.4 277.2,851.7 278,852 278.8,852.3 279.6,852.5 280.3,852.8 281.1,853.1 281.9,853.2 282.7,853.3 283.5,853.6 284.3,853.7 285.1,853.8 285.9,854 286.7,854.2 287.5,854.2 288.3,854.3 289,854.4 289.8,854.5 290.6,854.5 291.4,854.6 292.2,854.8 293,854.8 293.8,854.8 294.6,854.9 295.4,854.9 296.2,854.9 297,855 297.7,855.1 298.5,855 299.3,855 300.1,855.1 300.9,855.2 301.7,855.1 302.5,855.2 303.3,855.3 304.1,855.2 304.9,855.2 305.7,855.3 306.4,855.3 307.2,855.2 308,855.2 308.8,855.3 309.6,855.3 310.4,855.3 311.2,855.3 312,855.3 312.8,855.3 313.6,855.3 314.4,855.4 315.1,855.3 315.9,855.3 316.7,855.4 317.5,855.4 318.3,855.3 319.1,855.3 319.9,855.4 320.7,855.3 321.5,855.3 322.3,855.4 323.1,855.4 323.8,855.3 324.6,855.4 325.4,855.5 326.2,855.4 327,855.4 327.8,855.4 328.6,855.4 329.4,855.4 330.2,855.4 331,855.5 331.8,855.4 332.5,855.4 333.3,855.5 334.1,855.4 334.9,855.4 335.7,855.4 336.5,855.5 337.3,855.4 338.1,855.4 338.9,855.5 339.7,855.5 340.5,855.4 341.3,855.4 342,855.5 342.8,855.4 343.6,855.4 344.4,855.5 345.2,855.5 346,855.4 346.8,855.5 347.6,855.5 348.4,855.4 349.2,855.4 350,855.5 350.7,855.5 351.5,855.4 352.3,855.5 353.1,855.5 353.9,855.4 354.7,855.4 355.5,855.5 356.3,855.5 357.1,855.4 357.9,855.5 358.7,855.5 359.4,855.5 360.2,855.4 361,855.5 361.8,855.5 362.6,855.4 363.4,855.5 364.2,855.5 365,855.5 365.8,855.5 366.6,855.5 367.4,855.5 368.1,855.4 368.9,855.5 369.7,855.5 370.5,855.5 371.3,855.5 372.1,855.5 372.9,855.5 373.7,855.5 374.5,855.5 375.3,855.5 376.1,855.5 376.8,855.5 377.6,855.5 378.4,855.5 379.2,855.5 380,855.5 380.8,855.5 381.6,855.5 382.4,855.5 383.2,855.6 384,855.5 384.8,855.5 385.5,855.5 386.3,855.5 387.1,855.5 387.9,855.5 388.7,855.6 389.5,855.5 390.3,855.5 391.1,855.5 391.9,855.5 392.7,855.5 393.5,855.5 394.2,855.6 395,855.5 395.8,855.5 396.6,855.5 397.4,855.5 398.2,855.5 399,855.5 399.8,855.6 400.6,855.5 401.4,855.5 402.2,855.5 402.9,855.5 403.7,855.5 404.5,855.5 405.3,855.6 406.1,855.5 406.9,855.5 407.7,855.5 408.5,855.5 409.3,855.5 410.1,855.5 410.9,855.6 411.6,855.5 412.4,855.5 413.2,855.5 414,855.5 414.8,855.5 415.6,855.5 416.4,855.6 417.2,855.5 418,855.5 418.8,855.5 419.6,855.5 420.4,855.5 421.1,855.5 421.9,855.6 422.7,855.5 423.5,855.4 424.3,855.5 425.1,855.5 425.9,855.4 426.7,855.4 427.5,855.5 428.3,855.4 429.1,855.4 429.8,855.5 430.6,855.5 431.4,855.4 432.2,855.4 433,855.5 433.8,855.4 434.6,855.3 435.4,855.4 436.2,855.4 437,855.3 437.8,855.3 438.5,855.3 439.3,855.2 440.1,855.2 440.9,855.2 441.7,855.1 442.5,855 443.3,855 444.1,855 444.9,854.8 445.7,854.7 446.5,854.7 447.2,854.5 448,854.3 448.8,854.1 449.6,854 450.4,853.6 451.2,853.3 452,853 452.8,852.6 453.6,852.2 454.4,851.7 455.2,851.4 455.9,850.8 456.7,850.3 457.5,849.9 458.3,849.6 459.1,849.2 459.9,849 460.7,849 461.5,848.9 462.3,849 463.1,849.3 463.9,849.5 464.6,849.8 465.4,850.1 466.2,850.6 467,850.9 467.8,851.2 468.6,851.7 469.4,852 470.2,852.3 471,852.6 471.8,852.9 472.6,853.1 473.3,853.2 474.1,853.4 474.9,853.5 475.7,853.5 476.5,853.6 477.3,853.7 478.1,853.6 478.9,853.6 479.7,853.7 480.5,853.8 481.3,853.8 482,853.9 482.8,854 483.6,854 484.4,854.1 485.2,854.2 486,854.3 486.8,854.3 487.6,854.4 488.4,854.6 489.2,854.6 490,854.6 490.7,854.8 491.5,854.8 492.3,854.8 493.1,854.9 493.9,855 494.7,855 495.5,855 496.3,855.1 497.1,855.2 497.9,855.1 498.7,855.2 499.5,855.3 500.2,855.2 501,855.2 501.8,855.3 502.6,855.3 503.4,855.3 504.2,855.3 505,855.4 505.8,855.3 506.6,855.3 507.4,855.4 508.2,855.4 508.9,855.4 509.7,855.4 510.5,855.5 511.3,855.4 512.1,855.4 512.9,855.5 513.7,855.5 514.5,855.4 515.3,855.5 516.1,855.5 516.9,855.4 517.6,855.4 518.4,855.5 519.2,855.5 520,855.4 520.8,855.5 521.6,855.5 522.4,855.5 523.2,855.5 524,855.6 524.8,855.5 525.6,855.5 526.3,855.5 527.1,855.6 527.9,855.5 528.7,855.5 529.5,855.6 530.3,855.5 531.1,855.5 531.9,855.5 532.7,855.6 533.5,855.5 534.3,855.5 535,855.6 535.8,855.5 536.6,855.5 537.4,855.5 538.2,855.6 539,855.5 539.8,855.5 540.6,855.6 541.4,855.5 542.2,855.5 543,855.5 543.7,855.6 544.5,855.5 545.3,855.5 546.1,855.6 546.9,855.5 547.7,855.5 548.5,855.5 549.3,855.6 549.3,855.6Z" fill="#ccff10" stroke="#ccff10" stroke-width="1.5" stroke-linejoin="round"/>
<path d="M34.1,869 34.1,860.9 34.9,862.1 35.7,864.8 36.5,867.1 37.3,868.4 38.1,868.7 38.8,868.8 39.6,868.8 40.4,868.8 41.2,868.8 42,868.8 42.8,868.9 43.6,868.8 44.4,868.8 45.2,868.8 46,868.8 46.8,868.7 47.5,868.8 48.3,868.8 49.1,868.7 49.9,868.7 50.7,868.8 51.5,868.8 52.3,868.7 53.1,868.7 53.9,868.8 54.7,868.7 55.5,868.6 56.2,868.7 57,868.6 57.8,868.6 58.6,868.6 59.4,868.6 60.2,868.5 61,868.4 61.8,868.4 62.6,868.2 63.4,868 64.2,867.8 64.9,867.6 65.7,867.2 66.5,866.6 67.3,866 68.1,865 68.9,863.8 69.7,862.2 70.5,860.3 71.3,857.7 72.1,854.7 72.9,851.3 73.6,847.3 74.4,842.8 75.2,838 76,833.1 76.8,828 77.6,823.2 78.4,818.9 79.2,815.3 80,812.5 80.8,810.9 81.6,810.5 82.3,811.2 83.1,812.9 83.9,815.6 84.7,819 85.5,822.9 86.3,827.3 87.1,831.7 87.9,836 88.7,840.2 89.5,844 90.3,847.2 91.1,849.9 91.8,852.1 92.6,853.7 93.4,854.6 94.2,855.1 95,855.1 95.8,854.7 96.6,853.8 97.4,852.8 98.2,851.6 99,850.1 99.8,848.6 100.5,847.2 101.3,845.8 102.1,844.5 102.9,843.4 103.7,842.6 104.5,842 105.3,841.8 106.1,841.9 106.9,842.2 107.7,842.9 108.5,843.9 109.2,845.1 110,846.5 110.8,848 111.6,849.7 112.4,851.3 113.2,853 114,854.7 114.8,856.4 115.6,857.8 116.4,859.2 117.2,860.6 117.9,861.7 118.7,862.7 119.5,863.6 120.3,864.4 121.1,865 121.9,865.6 122.7,866.1 123.5,866.5 124.3,866.8 125.1,867.1 125.9,867.3 126.6,867.4 127.4,867.6 128.2,867.8 129,867.9 129.8,867.9 130.6,868.1 131.4,868.2 132.2,868.2 133,868.2 133.8,868.4 134.6,868.4 135.3,868.4 136.1,868.5 136.9,868.5 137.7,868.5 138.5,868.5 139.3,868.6 140.1,868.6 140.9,868.6 141.7,868.6 142.5,868.7 143.3,868.6 144,868.6 144.8,868.7 145.6,868.7 146.4,868.7 147.2,868.7 148,868.7 148.8,868.7 149.6,868.7 150.4,868.8 151.2,868.7 152,868.7 152.7,868.8 153.5,868.8 154.3,868.7 155.1,868.7 155.9,868.8 156.7,868.7 157.5,868.7 158.3,868.8 159.1,868.8 159.9,868.7 160.7,868.7 161.4,868.8 162.2,868.7 163,868.7 163.8,868.8 164.6,868.8 165.4,868.7 166.2,868.7 167,868.8 167.8,868.7 168.6,868.7 169.4,868.7 170.2,868.7 170.9,868.7 171.7,868.7 172.5,868.8 173.3,868.7 174.1,868.7 174.9,868.7 175.7,868.7 176.5,868.7 177.3,868.7 178.1,868.8 178.9,868.7 179.6,868.6 180.4,868.7 181.2,868.7 182,868.6 182.8,868.6 183.6,868.7 184.4,868.6 185.2,868.6 186,868.6 186.8,868.6 187.6,868.5 188.3,868.5 189.1,868.6 189.9,868.5 190.7,868.5 191.5,868.5 192.3,868.5 193.1,868.4 193.9,868.4 194.7,868.4 195.5,868.3 196.3,868.2 197,868.2 197.8,868.2 198.6,868.1 199.4,868 200.2,868 201,867.8 201.8,867.7 202.6,867.7 203.4,867.5 204.2,867.3 205,867.1 205.7,866.9 206.5,866.4 207.3,865.9 208.1,865.3 208.9,864.4 209.7,863.1 210.5,861.6 211.3,859.7 212.1,857 212.9,853.8 213.7,849.9 214.4,845.1 215.2,839.4 216,833 216.8,825.8 217.6,817.8 218.4,809.3 219.2,800.6 220,791.9 220.8,783.5 221.6,775.9 222.4,769.3 223.1,763.9 223.9,760.1 224.7,758.1 225.5,757.5 226.3,758 227.1,759.7 227.9,762.2 228.7,765.1 229.5,768.5 230.3,772 231.1,775.2 231.8,778.1 232.6,780.7 233.4,782.9 234.2,784.5 235,785.9 235.8,787.3 236.6,788.7 237.4,790.6 238.2,793.1 239,796.2 239.8,799.5 240.5,803.2 241.3,807.2 242.1,811.3 242.9,815.5 243.7,819.8 244.5,824.1 245.3,828.2 246.1,832.1 246.9,836 247.7,839.5 248.5,842.7 249.3,845.7 250,848.4 250.8,850.7 251.6,852.7 252.4,854.6 253.2,856.1 254,857.5 254.8,858.7 255.6,859.7 256.4,860.5 257.2,861.3 258,862 258.7,862.5 259.5,863 260.3,863.5 261.1,864 261.9,864.3 262.7,864.6 263.5,865 264.3,865.3 265.1,865.5 265.9,865.8 266.7,866.1 267.4,866.2 268.2,866.4 269,866.7 269.8,866.8 270.6,866.9 271.4,867.1 272.2,867.3 273,867.4 273.8,867.5 274.6,867.7 275.4,867.7 276.1,867.8 276.9,867.9 277.7,868 278.5,868 279.3,868.1 280.1,868.2 280.9,868.2 281.7,868.2 282.5,868.3 283.3,868.4 284.1,868.3 284.8,868.4 285.6,868.5 286.4,868.4 287.2,868.4 288,868.5 288.8,868.6 289.6,868.5 290.4,868.5 291.2,868.6 292,868.6 292.8,868.6 293.5,868.6 294.3,868.6 295.1,868.6 295.9,868.6 296.7,868.7 297.5,868.6 298.3,868.6 299.1,868.7 299.9,868.7 300.7,868.6 301.5,868.7 302.2,868.8 303,868.7 303.8,868.7 304.6,868.7 305.4,868.7 306.2,868.7 307,868.7 307.8,868.8 308.6,868.7 309.4,868.7 310.2,868.8 310.9,868.8 311.7,868.7 312.5,868.7 313.3,868.8 314.1,868.7 314.9,868.7 315.7,868.8 316.5,868.8 317.3,868.7 318.1,868.8 318.9,868.8 319.6,868.8 320.4,868.7 321.2,868.8 322,868.8 322.8,868.7 323.6,868.8 324.4,868.9 325.2,868.8 326,868.8 326.8,868.8 327.6,868.8 328.4,868.8 329.1,868.8 329.9,868.9 330.7,868.8 331.5,868.8 332.3,868.8 333.1,868.8 333.9,868.8 334.7,868.8 335.5,868.9 336.3,868.8 337.1,868.8 337.8,868.8 338.6,868.8 339.4,868.8 340.2,868.8 341,868.9 341.8,868.8 342.6,868.8 343.4,868.9 344.2,868.8 345,868.8 345.8,868.8 346.5,868.9 347.3,868.8 348.1,868.8 348.9,868.9 349.7,868.9 350.5,868.8 351.3,868.8 352.1,868.9 352.9,868.8 353.7,868.8 354.5,868.9 355.2,868.9 356,868.8 356.8,868.8 357.6,868.9 358.4,868.8 359.2,868.8 360,868.9 360.8,868.9 361.6,868.8 362.4,868.8 363.2,868.9 363.9,868.8 364.7,868.8 365.5,868.9 366.3,868.9 367.1,868.8 367.9,868.8 368.7,868.9 369.5,868.8 370.3,868.8 371.1,868.9 371.9,868.9 372.6,868.8 373.4,868.8 374.2,868.9 375,868.8 375.8,868.8 376.6,868.9 377.4,868.9 378.2,868.8 379,868.9 379.8,868.9 380.6,868.8 381.3,868.8 382.1,868.9 382.9,868.9 383.7,868.8 384.5,868.9 385.3,868.9 386.1,868.8 386.9,868.8 387.7,868.9 388.5,868.9 389.3,868.8 390,868.9 390.8,868.9 391.6,868.8 392.4,868.8 393.2,868.9 394,868.9 394.8,868.8 395.6,868.9 396.4,868.9 397.2,868.8 398,868.8 398.7,868.9 399.5,868.9 400.3,868.8 401.1,868.9 401.9,868.9 402.7,868.8 403.5,868.8 404.3,868.9 405.1,868.8 405.9,868.8 406.7,868.8 407.5,868.9 408.2,868.8 409,868.8 409.8,868.9 410.6,868.8 411.4,868.8 412.2,868.8 413,868.9 413.8,868.8 414.6,868.8 415.4,868.9 416.2,868.8 416.9,868.7 417.7,868.8 418.5,868.8 419.3,868.7 420.1,868.7 420.9,868.8 421.7,868.7 422.5,868.7 423.3,868.7 424.1,868.7 424.9,868.6 425.6,868.6 426.4,868.6 427.2,868.5 428,868.5 428.8,868.5 429.6,868.4 430.4,868.3 431.2,868.2 432,868.2 432.8,868.1 433.6,867.9 434.3,867.8 435.1,867.7 435.9,867.4 436.7,867.2 437.5,867 438.3,866.6 439.1,866.2 439.9,865.9 440.7,865.5 441.5,864.9 442.3,864.5 443,864.1 443.8,863.5 444.6,863 445.4,862.7 446.2,862.4 447,862.1 447.8,862.1 448.6,862.2 449.4,862.2 450.2,862.4 451,862.7 451.7,863 452.5,863.3 453.3,863.7 454.1,864.2 454.9,864.5 455.7,864.8 456.5,865.3 457.3,865.6 458.1,865.8 458.9,866.1 459.7,866.4 460.4,866.5 461.2,866.6 462,866.8 462.8,866.9 463.6,866.9 464.4,866.9 465.2,867 466,867 466.8,867 467.6,867.1 468.4,867.2 469.1,867.2 469.9,867.3 470.7,867.5 471.5,867.5 472.3,867.5 473.1,867.7 473.9,867.7 474.7,867.8 475.5,867.9 476.3,868 477.1,868 477.8,868 478.6,868.2 479.4,868.2 480.2,868.2 481,868.3 481.8,868.4 482.6,868.4 483.4,868.4 484.2,868.5 485,868.5 485.8,868.5 486.6,868.6 487.3,868.7 488.1,868.6 488.9,868.6 489.7,868.7 490.5,868.7 491.3,868.6 492.1,868.7 492.9,868.8 493.7,868.7 494.5,868.7 495.3,868.8 496,868.8 496.8,868.7 497.6,868.8 498.4,868.8 499.2,868.8 500,868.8 500.8,868.8 501.6,868.8 502.4,868.8 503.2,868.8 504,868.9 504.7,868.8 505.5,868.8 506.3,868.9 507.1,868.9 507.9,868.8 508.7,868.8 509.5,868.9 510.3,868.8 511.1,868.8 511.9,868.9 512.7,868.9 513.4,868.8 514.2,868.9 515,868.9 515.8,868.8 516.6,868.8 517.4,868.9 518.2,868.9 519,868.8 519.8,868.9 520.6,868.9 521.4,868.8 522.1,868.8 522.9,868.9 523.7,868.9 524.5,868.8 525.3,868.9 526.1,868.9 526.9,868.9 527.7,868.8 528.5,868.9 529.3,868.9 530.1,868.8 530.8,868.9 531.6,868.9 532.4,868.9 533.2,868.9 534,868.9 534.8,868.9 535.6,868.8 536.4,868.9 536.4,869Z" fill="#0aac0a" stroke="#0aac0a" stroke-width="1.5" stroke-linejoin="round"/>
<line x1="12.2" y1="876.3" x2="539.2" y2="876.3" stroke="#000" stroke-width="2" stroke-linecap="butt"/>
<line x1="13" y1="683" x2="13" y2="877" stroke="#000" stroke-width="1.6" stroke-linecap="butt"/>
<path d="M13,876.3L13,881.9M28.9,876.3L28.9,879.7M44.8,876.3L44.8,879.7M60.7,876.3L60.7,879.7M76.6,876.3L76.6,879.7M92.5,876.3L92.5,881.9M108.4,876.3L108.4,879.7M124.3,876.3L124.3,879.7M140.2,876.3L140.2,879.7M156.1,876.3L156.1,879.7M172,876.3L172,881.9M187.9,876.3L187.9,879.7M203.8,876.3L203.8,879.7M219.7,876.3L219.7,879.7M235.6,876.3L235.6,879.7M251.5,876.3L251.5,881.9M267.4,876.3L267.4,879.7M283.3,876.3L283.3,879.7M299.2,876.3L299.2,879.7M315.1,876.3L315.1,879.7M331,876.3L331,881.9M346.9,876.3L346.9,879.7M362.8,876.3L362.8,879.7M378.7,876.3L378.7,879.7M394.6,876.3L394.6,879.7M410.5,876.3L410.5,881.9M426.4,876.3L426.4,879.7M442.3,876.3L442.3,879.7M458.2,876.3L458.2,879.7M474.1,876.3L474.1,879.7M490,876.3L490,881.9M505.9,876.3L505.9,879.7M521.8,876.3L521.8,879.7M537.7,876.3L537.7,879.7" stroke="#000" stroke-width="1.3" fill="none"/>
<text x="13" y="895.2" font-size="13.1" text-anchor="middle" stroke="#000" stroke-width="0.3">800</text>
<text x="92.5" y="895.2" font-size="13.1" text-anchor="middle" stroke="#000" stroke-width="0.3">900</text>
<text x="172" y="895.2" font-size="13.1" text-anchor="middle" stroke="#000" stroke-width="0.3">1000</text>
<text x="251.5" y="895.2" font-size="13.1" text-anchor="middle" stroke="#000" stroke-width="0.3">1100</text>
<text x="331" y="895.2" font-size="13.1" text-anchor="middle" stroke="#000" stroke-width="0.3">1200</text>
<text x="410.5" y="895.2" font-size="13.1" text-anchor="middle" stroke="#000" stroke-width="0.3">1300</text>
<text x="490" y="895.2" font-size="13.1" text-anchor="middle" stroke="#000" stroke-width="0.3">1400</text>
<text x="275.2" y="920" font-size="17.6" text-anchor="middle" stroke="#000" stroke-width="0.45">Wavelength (nm)</text>
<text x="186" y="534" font-size="23" textLength="33" lengthAdjust="spacingAndGlyphs" stroke="#000" stroke-width="0.4">(b)</text>
<text transform="translate(727,617) rotate(-90)" font-size="16.8" text-anchor="middle" stroke="#000" stroke-width="0.25">Intensity (a.u)</text>
<rect x="645.2" y="516.4" width="24.2" height="10.2" fill="#ff0404" stroke="#1a1a1a" stroke-width="1"/>
<text x="673.5" y="525.1" font-size="11.1" stroke="#000" stroke-width="0.35">10K</text>
<rect x="645.2" y="529.3" width="24.2" height="10.2" fill="#00ff00" stroke="#1a1a1a" stroke-width="1"/>
<text x="673.5" y="538" font-size="11.1" stroke="#000" stroke-width="0.35">20K</text>
<rect x="645.2" y="542.1" width="24.2" height="10.2" fill="#0814ff" stroke="#1a1a1a" stroke-width="1"/>
<text x="673.5" y="550.8" font-size="11.1" stroke="#000" stroke-width="0.35">30K</text>
<rect x="645.2" y="555" width="24.2" height="10.2" fill="#10ffaa" stroke="#1a1a1a" stroke-width="1"/>
<text x="673.5" y="563.7" font-size="11.1" stroke="#000" stroke-width="0.35">40K</text>
<rect x="645.2" y="567.9" width="24.2" height="10.2" fill="#ae26fa" stroke="#1a1a1a" stroke-width="1"/>
<text x="673.5" y="576.6" font-size="11.1" stroke="#000" stroke-width="0.35">50K</text>
<rect x="645.2" y="580.8" width="24.2" height="10.2" fill="#385010" stroke="#1a1a1a" stroke-width="1"/>
<text x="673.5" y="589.5" font-size="11.1" stroke="#000" stroke-width="0.35">60K</text>
<rect x="645.2" y="593.6" width="24.2" height="10.2" fill="#000086" stroke="#1a1a1a" stroke-width="1"/>
<text x="673.5" y="602.3" font-size="11.1" stroke="#000" stroke-width="0.35">80K</text>
<rect x="645.2" y="606.5" width="24.2" height="10.2" fill="#4a0606" stroke="#1a1a1a" stroke-width="1"/>
<text x="673.5" y="615.2" font-size="11.1" stroke="#000" stroke-width="0.35">100K</text>
<rect x="645.2" y="619.4" width="24.2" height="10.2" fill="#12944c" stroke="#1a1a1a" stroke-width="1"/>
<text x="673.5" y="628.1" font-size="11.1" stroke="#000" stroke-width="0.35">120K</text>
<rect x="645.2" y="632.2" width="24.2" height="10.2" fill="#ff2a0c" stroke="#1a1a1a" stroke-width="1"/>
<text x="673.5" y="640.9" font-size="11.1" stroke="#000" stroke-width="0.35">180K</text>
<rect x="645.2" y="645.1" width="24.2" height="10.2" fill="#2412fa" stroke="#1a1a1a" stroke-width="1"/>
<text x="673.5" y="653.8" font-size="11.1" stroke="#000" stroke-width="0.35">220K</text>
<rect x="645.2" y="658" width="24.2" height="10.2" fill="#ccff10" stroke="#1a1a1a" stroke-width="1"/>
<text x="673.5" y="666.7" font-size="11.1" stroke="#000" stroke-width="0.35">260K</text>
<rect x="645.2" y="670.8" width="24.2" height="10.2" fill="#0aac0a" stroke="#1a1a1a" stroke-width="1"/>
<text x="673.5" y="679.5" font-size="11.1" stroke="#000" stroke-width="0.35">300K</text>
</svg>
</body></html>
